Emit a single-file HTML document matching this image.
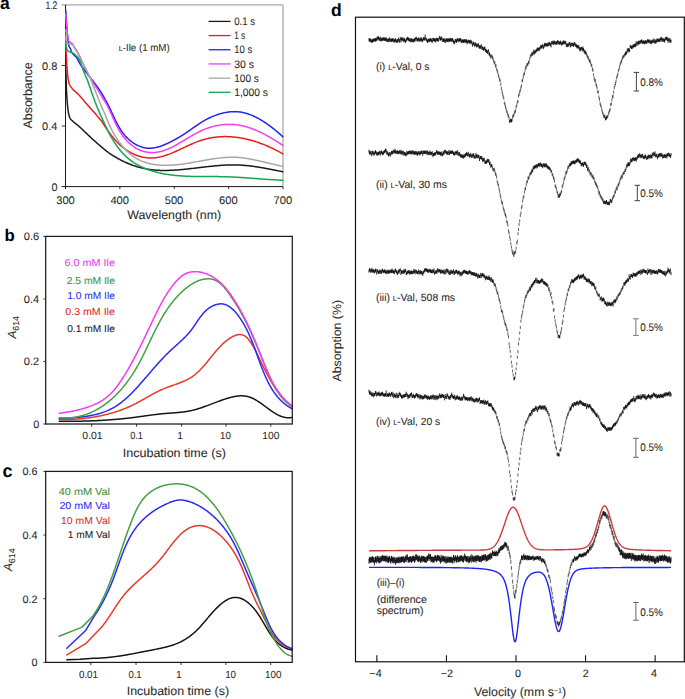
<!DOCTYPE html>
<html><head><meta charset="utf-8"><style>
html,body{margin:0;padding:0;background:#fff;}
body{width:685px;height:699px;overflow:hidden;font-family:"Liberation Sans",sans-serif;}
svg{display:block;}
</style></head><body>
<svg width="685" height="699" viewBox="0 0 685 699" font-family="Liberation Sans, sans-serif" text-rendering="geometricPrecision"><line x1="61.6" y1="4.9" x2="283" y2="4.9" stroke="#a9a9a9" stroke-width="1.3"/>
<line x1="283" y1="4.9" x2="283" y2="186.6" stroke="#a9a9a9" stroke-width="1.3"/>
<line x1="65.5" y1="4.9" x2="65.5" y2="189.2" stroke="#1a1a1a" stroke-width="1.0"/>
<line x1="61.7" y1="186.6" x2="283" y2="186.6" stroke="#1a1a1a" stroke-width="1.0"/>
<line x1="61.7" y1="126.03" x2="65.5" y2="126.03" stroke="#1a1a1a" stroke-width="0.9"/>
<line x1="61.7" y1="65.47" x2="65.5" y2="65.47" stroke="#1a1a1a" stroke-width="0.9"/>
<line x1="119.88" y1="186.6" x2="119.88" y2="189.2" stroke="#1a1a1a" stroke-width="0.9"/>
<line x1="174.25" y1="186.6" x2="174.25" y2="189.2" stroke="#1a1a1a" stroke-width="0.9"/>
<line x1="228.62" y1="186.6" x2="228.62" y2="189.2" stroke="#1a1a1a" stroke-width="0.9"/>
<line x1="283" y1="186.6" x2="283" y2="189.2" stroke="#1a1a1a" stroke-width="0.9"/>
<path d="M65.7 58 L65.71 58.67 L65.71 59.34 L65.72 60.01 L65.73 60.69 L65.74 61.36 L65.75 62.03 L65.76 62.7 L65.77 63.37 L65.78 64.04 L65.79 64.71 L65.8 65.38 L65.81 66.06 L65.82 66.73 L65.84 67.4 L65.85 68.07 L65.86 68.74 L65.88 69.41 L65.89 70.08 L65.91 70.75 L65.92 71.42 L65.93 72.1 L65.95 72.77 L65.96 73.44 L65.98 74.11 L65.99 74.78 L66.01 75.45 L66.03 76.12 L66.04 76.79 L66.06 77.46 L66.08 78.14 L66.1 78.81 L66.12 79.48 L66.14 80.15 L66.16 80.82 L66.18 81.49 L66.2 82.16 L66.22 82.83 L66.24 83.5 L66.27 84.17 L66.29 84.85 L66.32 85.52 L66.34 86.19 L66.37 86.86 L66.4 87.53 L66.42 88.2 L66.45 88.87 L66.48 89.54 L66.51 90.21 L66.54 90.88 L66.57 91.55 L66.6 92.22 L66.64 92.89 L66.67 93.56 L66.71 94.23 L66.75 94.91 L66.79 95.58 L66.83 96.25 L66.87 96.92 L66.91 97.59 L66.96 98.26 L67 98.93 L67.05 99.6 L67.1 100.27 L67.15 100.94 L67.2 101.6 L67.26 102.27 L67.31 102.94 L67.37 103.61 L67.42 104.28 L67.48 104.95 L67.55 105.62 L67.61 106.29 L67.68 106.96 L67.75 107.63 L67.83 108.3 L67.91 108.97 L67.99 109.64 L68.08 110.3 L68.17 110.97 L68.28 111.63 L68.38 112.29 L68.5 112.95 L68.62 113.6 L68.76 114.26 L68.91 114.93 L69.09 115.59 L69.29 116.25 L69.5 116.9 L69.75 117.53 L70.01 118.12 L70.3 118.68 L70.69 119.21 L71.16 119.7 L71.66 120.18 L72.15 120.65 L72.64 121.11 L73.14 121.56 L73.64 121.99 L74.16 122.42 L74.68 122.85 L75.21 123.26 L75.74 123.68 L76.27 124.1 L76.8 124.51 L77.33 124.93 L77.85 125.36 L78.36 125.79 L78.86 126.23 L79.37 126.68 L79.86 127.12 L80.36 127.58 L80.86 128.03 L81.35 128.48 L81.84 128.94 L82.33 129.4 L82.82 129.86 L83.3 130.33 L83.79 130.79 L84.27 131.25 L84.76 131.72 L85.24 132.19 L85.72 132.65 L86.21 133.12 L86.69 133.59 L87.17 134.06 L87.65 134.52 L88.14 134.99 L88.62 135.46 L89.11 135.92 L89.59 136.39 L90.08 136.85 L90.57 137.31 L91.06 137.77 L91.55 138.23 L92.04 138.68 L92.54 139.13 L93.03 139.58 L93.53 140.03 L94.04 140.48 L94.54 140.92 L95.04 141.36 L95.54 141.81 L96.05 142.25 L96.55 142.69 L97.06 143.13 L97.57 143.57 L98.08 144.01 L98.58 144.45 L99.09 144.88 L99.6 145.32 L100.11 145.76 L100.63 146.19 L101.14 146.62 L101.65 147.06 L102.17 147.49 L102.68 147.92 L103.2 148.35 L103.71 148.78 L104.23 149.21 L104.75 149.63 L105.27 150.06 L105.79 150.49 L106.31 150.91 L106.83 151.33 L107.35 151.76 L107.88 152.18 L108.4 152.6 L108.4 152.6 L108.98 153 L109.57 153.39 L110.16 153.78 L110.74 154.17 L111.33 154.55 L111.92 154.93 L112.52 155.3 L113.11 155.67 L113.7 156.04 L114.3 156.4 L114.89 156.76 L115.49 157.11 L116.09 157.46 L116.69 157.8 L117.29 158.14 L117.89 158.48 L118.49 158.81 L119.09 159.14 L119.7 159.46 L120.3 159.78 L120.91 160.1 L121.52 160.41 L122.13 160.71 L122.74 161.01 L123.35 161.31 L123.96 161.6 L124.57 161.89 L125.18 162.17 L125.8 162.45 L126.41 162.72 L127.03 162.99 L127.64 163.26 L128.26 163.52 L128.88 163.77 L129.5 164.02 L130.12 164.27 L130.74 164.51 L131.36 164.75 L131.99 164.98 L132.61 165.21 L133.24 165.43 L133.86 165.65 L134.49 165.86 L135.12 166.07 L135.75 166.27 L136.37 166.47 L137 166.66 L137.64 166.85 L138.27 167.04 L138.9 167.21 L139.53 167.39 L140.17 167.56 L140.8 167.72 L141.44 167.88 L142.07 168.03 L142.71 168.18 L143.35 168.33 L143.99 168.46 L144.63 168.6 L145.27 168.73 L145.91 168.85 L146.55 168.97 L147.19 169.08 L147.83 169.19 L148.48 169.29 L149.12 169.39 L149.77 169.48 L150.41 169.57 L151.06 169.66 L151.7 169.74 L152.35 169.81 L153 169.88 L153.65 169.95 L154.3 170.01 L154.95 170.06 L155.6 170.12 L156.25 170.17 L156.9 170.21 L157.55 170.25 L158.21 170.29 L158.86 170.32 L159.52 170.35 L160.17 170.38 L160.83 170.4 L161.48 170.42 L162.14 170.43 L162.8 170.44 L163.45 170.45 L164.11 170.45 L164.77 170.45 L165.43 170.45 L166.09 170.45 L166.75 170.44 L167.41 170.43 L168.07 170.41 L168.73 170.39 L169.39 170.37 L170.06 170.35 L170.72 170.32 L171.38 170.3 L172.05 170.26 L172.71 170.23 L173.37 170.2 L174.04 170.16 L174.7 170.12 L175.37 170.07 L176.04 170.03 L176.7 169.98 L177.37 169.93 L178.04 169.88 L178.71 169.83 L179.37 169.77 L180.04 169.72 L180.71 169.66 L181.38 169.6 L182.05 169.54 L182.72 169.47 L183.39 169.41 L184.06 169.34 L184.73 169.27 L185.4 169.21 L186.07 169.14 L186.74 169.06 L187.42 168.99 L188.09 168.92 L188.76 168.85 L189.43 168.77 L190.11 168.69 L190.78 168.62 L191.45 168.54 L192.13 168.46 L192.8 168.38 L193.47 168.31 L194.15 168.23 L194.82 168.15 L195.5 168.07 L196.17 167.99 L196.85 167.91 L197.52 167.82 L198.2 167.74 L198.87 167.66 L199.55 167.58 L200.22 167.5 L200.9 167.42 L201.57 167.34 L202.25 167.26 L202.93 167.18 L203.6 167.1 L204.28 167.02 L204.95 166.94 L205.63 166.86 L206.31 166.79 L206.98 166.71 L207.66 166.63 L208.34 166.56 L209.01 166.49 L209.69 166.41 L210.37 166.34 L211.04 166.27 L211.72 166.2 L212.4 166.13 L213.07 166.06 L213.75 166 L214.43 165.93 L215.11 165.87 L215.78 165.8 L216.46 165.74 L217.14 165.68 L217.81 165.63 L218.49 165.57 L219.17 165.52 L219.84 165.47 L220.52 165.42 L221.19 165.37 L221.87 165.32 L222.55 165.28 L223.22 165.24 L223.9 165.2 L224.57 165.16 L225.25 165.12 L225.93 165.09 L226.6 165.06 L227.28 165.03 L227.95 165.01 L228.63 164.99 L229.3 164.97 L229.97 164.95 L230.65 164.93 L231.32 164.92 L232 164.91 L232.67 164.91 L233.34 164.91 L234.02 164.91 L234.69 164.91 L235.36 164.92 L236.04 164.93 L236.71 164.94 L237.38 164.96 L238.05 164.98 L238.72 165.01 L239.4 165.03 L240.07 165.06 L240.74 165.1 L241.41 165.14 L242.08 165.18 L242.75 165.23 L243.42 165.28 L244.09 165.33 L244.75 165.38 L245.42 165.44 L246.09 165.51 L246.76 165.57 L247.43 165.64 L248.09 165.71 L248.76 165.78 L249.43 165.86 L250.09 165.94 L250.76 166.02 L251.42 166.11 L252.09 166.19 L252.75 166.28 L253.42 166.37 L254.08 166.47 L254.74 166.56 L255.4 166.66 L256.07 166.76 L256.73 166.86 L257.39 166.97 L258.05 167.07 L258.71 167.18 L259.37 167.29 L260.03 167.4 L260.69 167.51 L261.34 167.63 L262 167.74 L262.66 167.86 L263.32 167.98 L263.97 168.1 L264.63 168.22 L265.28 168.34 L265.94 168.46 L266.59 168.58 L267.24 168.71 L267.9 168.83 L268.55 168.96 L269.2 169.08 L269.85 169.21 L270.5 169.34 L271.15 169.47 L271.8 169.59 L272.45 169.72 L273.09 169.85 L273.74 169.98 L274.39 170.11 L275.03 170.24 L275.68 170.36 L276.32 170.49 L276.97 170.62 L277.61 170.75 L278.25 170.88 L278.89 171 L279.53 171.13 L280.17 171.26 L280.81 171.38 L281.45 171.51 L282.09 171.63 L282.73 171.75" fill="none" stroke="#1a1a1a" stroke-width="1.5" stroke-linejoin="round" stroke-linecap="round"/>
<path d="M65.7 44 L65.73 44.67 L65.77 45.35 L65.8 46.02 L65.84 46.69 L65.87 47.37 L65.91 48.04 L65.95 48.72 L65.98 49.39 L66.02 50.06 L66.06 50.74 L66.09 51.41 L66.13 52.08 L66.17 52.76 L66.21 53.43 L66.25 54.1 L66.29 54.78 L66.33 55.45 L66.36 56.12 L66.4 56.8 L66.44 57.47 L66.48 58.14 L66.51 58.82 L66.55 59.49 L66.59 60.17 L66.62 60.84 L66.66 61.52 L66.7 62.19 L66.74 62.86 L66.77 63.54 L66.81 64.21 L66.85 64.89 L66.9 65.56 L66.94 66.23 L66.98 66.91 L67.03 67.58 L67.08 68.25 L67.13 68.92 L67.18 69.59 L67.23 70.27 L67.29 70.94 L67.35 71.61 L67.41 72.28 L67.47 72.95 L67.53 73.63 L67.6 74.31 L67.67 75 L67.74 75.68 L67.82 76.37 L67.9 77.05 L67.99 77.74 L68.08 78.42 L68.18 79.09 L68.28 79.77 L68.4 80.43 L68.52 81.09 L68.65 81.74 L68.79 82.37 L68.94 83 L69.1 83.62 L69.31 84.22 L69.59 84.82 L69.93 85.41 L70.31 85.99 L70.72 86.55 L71.14 87.11 L71.57 87.65 L71.99 88.18 L72.4 88.7 L72.84 89.2 L73.3 89.69 L73.77 90.17 L74.25 90.64 L74.74 91.1 L75.24 91.56 L75.75 92.02 L76.25 92.47 L76.76 92.93 L77.26 93.39 L77.76 93.85 L78.24 94.33 L78.72 94.81 L79.18 95.3 L79.63 95.79 L80.09 96.29 L80.54 96.79 L80.98 97.3 L81.43 97.8 L81.87 98.31 L82.31 98.82 L82.75 99.34 L83.19 99.85 L83.62 100.37 L84.06 100.88 L84.5 101.4 L84.93 101.91 L85.37 102.43 L85.81 102.94 L86.25 103.45 L86.69 103.96 L87.14 104.47 L87.58 104.98 L88.03 105.48 L88.47 105.99 L88.92 106.49 L89.36 107 L89.81 107.51 L90.26 108.01 L90.7 108.52 L91.15 109.02 L91.6 109.53 L92.04 110.03 L92.49 110.54 L92.94 111.05 L93.38 111.55 L93.82 112.06 L94.27 112.57 L94.71 113.08 L95.15 113.59 L95.59 114.1 L96.03 114.61 L96.47 115.12 L96.91 115.64 L97.35 116.15 L97.78 116.66 L98.22 117.17 L98.66 117.69 L99.09 118.2 L99.53 118.72 L99.96 119.23 L100.4 119.75 L100.83 120.27 L101.27 120.78 L101.7 121.3 L101.7 121.3 L102.03 121.84 L102.37 122.38 L102.71 122.92 L103.05 123.47 L103.4 124.02 L103.75 124.57 L104.1 125.12 L104.46 125.68 L104.82 126.23 L105.18 126.79 L105.55 127.35 L105.93 127.9 L106.3 128.46 L106.68 129.02 L107.07 129.58 L107.46 130.14 L107.85 130.7 L108.24 131.26 L108.64 131.81 L109.05 132.37 L109.45 132.93 L109.87 133.48 L110.28 134.03 L110.7 134.58 L111.13 135.13 L111.56 135.68 L111.99 136.22 L112.42 136.76 L112.87 137.3 L113.31 137.84 L113.76 138.37 L114.21 138.9 L114.67 139.43 L115.13 139.95 L115.6 140.46 L116.07 140.98 L116.54 141.48 L117.02 141.99 L117.51 142.49 L118 142.98 L118.49 143.47 L118.99 143.95 L119.49 144.43 L119.99 144.9 L120.51 145.36 L121.02 145.82 L121.54 146.27 L122.07 146.72 L122.59 147.16 L123.13 147.59 L123.67 148.01 L124.21 148.42 L124.76 148.83 L125.31 149.23 L125.87 149.62 L126.43 150.01 L126.99 150.38 L127.56 150.75 L128.13 151.11 L128.71 151.47 L129.29 151.81 L129.87 152.14 L130.46 152.47 L131.05 152.79 L131.64 153.1 L132.23 153.4 L132.83 153.69 L133.43 153.98 L134.04 154.25 L134.64 154.52 L135.25 154.78 L135.87 155.02 L136.48 155.26 L137.09 155.49 L137.71 155.71 L138.33 155.92 L138.95 156.12 L139.58 156.31 L140.2 156.49 L140.83 156.67 L141.46 156.83 L142.09 156.98 L142.72 157.12 L143.35 157.25 L143.98 157.38 L144.61 157.49 L145.25 157.59 L145.88 157.68 L146.52 157.76 L147.15 157.83 L147.79 157.89 L148.42 157.94 L149.06 157.98 L149.69 158 L150.33 158.02 L150.96 158.02 L151.6 158.02 L152.23 158 L152.86 157.97 L153.5 157.93 L154.13 157.88 L154.76 157.82 L155.39 157.75 L156.02 157.67 L156.66 157.58 L157.29 157.49 L157.92 157.38 L158.55 157.26 L159.17 157.13 L159.8 157 L160.43 156.86 L161.06 156.71 L161.69 156.55 L162.32 156.38 L162.94 156.21 L163.57 156.02 L164.2 155.84 L164.82 155.64 L165.45 155.44 L166.08 155.23 L166.7 155.02 L167.33 154.8 L167.96 154.57 L168.58 154.34 L169.21 154.1 L169.83 153.86 L170.46 153.62 L171.09 153.36 L171.71 153.11 L172.34 152.85 L172.96 152.59 L173.59 152.32 L174.22 152.05 L174.84 151.78 L175.47 151.5 L176.09 151.22 L176.72 150.94 L177.35 150.65 L177.97 150.37 L178.6 150.08 L179.23 149.79 L179.85 149.5 L180.48 149.2 L181.11 148.91 L181.74 148.61 L182.36 148.32 L182.99 148.02 L183.62 147.73 L184.25 147.43 L184.88 147.13 L185.51 146.84 L186.14 146.54 L186.77 146.25 L187.4 145.96 L188.03 145.67 L188.66 145.38 L189.3 145.09 L189.93 144.8 L190.56 144.52 L191.2 144.24 L191.83 143.96 L192.47 143.69 L193.1 143.41 L193.74 143.14 L194.37 142.88 L195.01 142.62 L195.65 142.36 L196.29 142.11 L196.93 141.86 L197.57 141.62 L198.21 141.38 L198.85 141.14 L199.49 140.91 L200.13 140.69 L200.77 140.47 L201.42 140.26 L202.06 140.06 L202.71 139.86 L203.36 139.67 L204 139.48 L204.65 139.3 L205.3 139.13 L205.95 138.96 L206.6 138.8 L207.25 138.64 L207.9 138.49 L208.55 138.35 L209.21 138.21 L209.86 138.08 L210.51 137.95 L211.17 137.83 L211.82 137.72 L212.48 137.61 L213.13 137.51 L213.79 137.41 L214.44 137.32 L215.1 137.23 L215.76 137.15 L216.42 137.08 L217.07 137.01 L217.73 136.95 L218.39 136.89 L219.05 136.84 L219.71 136.79 L220.37 136.75 L221.03 136.71 L221.69 136.68 L222.35 136.66 L223.01 136.64 L223.67 136.62 L224.33 136.61 L224.99 136.61 L225.65 136.61 L226.31 136.62 L226.97 136.63 L227.63 136.64 L228.29 136.66 L228.95 136.69 L229.61 136.72 L230.27 136.76 L230.93 136.8 L231.59 136.85 L232.25 136.9 L232.91 136.95 L233.57 137.01 L234.23 137.08 L234.89 137.15 L235.55 137.22 L236.21 137.3 L236.87 137.38 L237.53 137.47 L238.19 137.57 L238.84 137.66 L239.5 137.77 L240.16 137.87 L240.82 137.98 L241.47 138.1 L242.13 138.22 L242.78 138.34 L243.44 138.47 L244.09 138.6 L244.75 138.74 L245.4 138.88 L246.05 139.03 L246.71 139.18 L247.36 139.33 L248.01 139.49 L248.66 139.65 L249.31 139.81 L249.96 139.98 L250.61 140.16 L251.25 140.33 L251.9 140.52 L252.55 140.7 L253.19 140.89 L253.84 141.08 L254.48 141.28 L255.12 141.48 L255.77 141.69 L256.41 141.89 L257.05 142.11 L257.69 142.32 L258.33 142.54 L258.96 142.76 L259.6 142.99 L260.24 143.22 L260.87 143.45 L261.51 143.69 L262.14 143.93 L262.77 144.17 L263.4 144.42 L264.03 144.66 L264.66 144.92 L265.28 145.17 L265.91 145.43 L266.54 145.7 L267.16 145.96 L267.78 146.23 L268.4 146.5 L269.02 146.78 L269.64 147.06 L270.26 147.34 L270.87 147.62 L271.49 147.91 L272.1 148.2 L272.71 148.49 L273.32 148.78 L273.93 149.08 L274.54 149.38 L275.14 149.69 L275.75 149.99 L276.35 150.3 L276.95 150.62 L277.55 150.93 L278.15 151.25 L278.75 151.57 L279.34 151.89 L279.93 152.21 L280.53 152.54 L281.12 152.87 L281.7 153.2 L282.29 153.53 L282.88 153.87" fill="none" stroke="#ee1c1c" stroke-width="1.5" stroke-linejoin="round" stroke-linecap="round"/>
<path d="M65.7 10 L65.74 10.67 L65.78 11.34 L65.82 12.01 L65.86 12.68 L65.9 13.36 L65.94 14.03 L65.98 14.7 L66.02 15.38 L66.06 16.05 L66.1 16.72 L66.14 17.4 L66.18 18.07 L66.22 18.74 L66.26 19.42 L66.31 20.09 L66.35 20.77 L66.39 21.44 L66.44 22.11 L66.48 22.79 L66.53 23.46 L66.57 24.14 L66.62 24.81 L66.67 25.48 L66.72 26.16 L66.77 26.83 L66.82 27.5 L66.87 28.17 L66.93 28.84 L66.98 29.51 L67.04 30.18 L67.1 30.85 L67.16 31.52 L67.22 32.19 L67.29 32.86 L67.35 33.53 L67.42 34.2 L67.49 34.86 L67.56 35.53 L67.63 36.2 L67.7 36.87 L67.77 37.53 L67.84 38.2 L67.9 38.87 L67.97 39.55 L68.04 40.22 L68.1 40.9 L68.16 41.57 L68.22 42.25 L68.28 42.94 L68.36 43.61 L68.46 44.28 L68.6 44.94 L68.79 45.57 L69.04 46.19 L69.33 46.79 L69.65 47.39 L69.98 47.98 L70.3 48.58 L70.59 49.2 L70.84 49.83 L71.08 50.47 L71.32 51.11 L71.57 51.73 L71.85 52.33 L72.19 52.9 L72.57 53.44 L73 53.95 L73.46 54.44 L73.95 54.92 L74.44 55.39 L74.93 55.87 L75.41 56.35 L75.87 56.85 L76.3 57.37 L76.7 57.92 L77.07 58.48 L77.42 59.05 L77.75 59.64 L78.07 60.24 L78.39 60.84 L78.7 61.44 L79.02 62.04 L79.35 62.63 L79.68 63.21 L80.03 63.79 L80.38 64.37 L80.74 64.94 L81.11 65.51 L81.48 66.07 L81.86 66.62 L82.24 67.18 L82.63 67.73 L83.03 68.27 L83.43 68.82 L83.83 69.36 L84.24 69.9 L84.65 70.43 L85.06 70.97 L85.48 71.5 L85.9 72.03 L86.31 72.56 L86.73 73.09 L87.15 73.62 L87.57 74.15 L87.99 74.68 L88.41 75.21 L88.83 75.73 L89.25 76.26 L89.67 76.79 L90.09 77.32 L90.51 77.85 L90.93 78.38 L91.35 78.91 L91.76 79.44 L92.18 79.97 L92.59 80.5 L93.01 81.04 L93.42 81.57 L93.83 82.11 L94.24 82.64 L94.64 83.18 L95.05 83.72 L95.45 84.26 L95.85 84.8 L96.25 85.34 L96.65 85.88 L97.04 86.43 L97.44 86.97 L97.82 87.52 L98.21 88.07 L98.6 88.63 L98.98 89.18 L99.35 89.74 L99.73 90.3 L100.1 90.86 L100.47 91.42 L100.83 91.99 L101.19 92.55 L101.55 93.13 L101.9 93.7 L102.25 94.28 L102.6 94.85 L102.94 95.44 L103.28 96.02 L103.61 96.61 L103.94 97.2 L104.26 97.8 L104.58 98.39 L104.89 99 L105.2 99.6 L105.2 99.6 L105.52 100.12 L105.84 100.65 L106.15 101.18 L106.46 101.72 L106.77 102.26 L107.07 102.82 L107.37 103.38 L107.67 103.94 L107.96 104.51 L108.26 105.08 L108.55 105.66 L108.84 106.25 L109.13 106.84 L109.42 107.43 L109.7 108.03 L109.99 108.63 L110.27 109.24 L110.56 109.84 L110.84 110.46 L111.13 111.07 L111.41 111.69 L111.69 112.31 L111.98 112.93 L112.26 113.55 L112.55 114.17 L112.84 114.8 L113.13 115.43 L113.42 116.05 L113.71 116.68 L114 117.31 L114.3 117.94 L114.59 118.57 L114.89 119.2 L115.2 119.82 L115.5 120.45 L115.81 121.08 L116.12 121.7 L116.44 122.32 L116.76 122.94 L117.08 123.56 L117.4 124.18 L117.73 124.79 L118.07 125.4 L118.41 126.01 L118.75 126.61 L119.1 127.22 L119.46 127.81 L119.82 128.41 L120.18 128.99 L120.55 129.58 L120.93 130.16 L121.31 130.73 L121.7 131.3 L122.1 131.86 L122.5 132.42 L122.91 132.97 L123.32 133.52 L123.75 134.05 L124.18 134.59 L124.62 135.11 L125.06 135.63 L125.52 136.14 L125.98 136.64 L126.44 137.13 L126.92 137.62 L127.4 138.1 L127.88 138.57 L128.38 139.03 L128.88 139.48 L129.38 139.93 L129.89 140.36 L130.41 140.79 L130.93 141.2 L131.46 141.61 L131.99 142 L132.53 142.39 L133.07 142.76 L133.62 143.13 L134.17 143.48 L134.73 143.83 L135.29 144.16 L135.86 144.48 L136.43 144.79 L137 145.08 L137.58 145.37 L138.16 145.64 L138.75 145.9 L139.34 146.15 L139.93 146.38 L140.53 146.61 L141.13 146.81 L141.73 147.01 L142.33 147.19 L142.94 147.36 L143.55 147.51 L144.16 147.65 L144.78 147.78 L145.4 147.89 L146.02 147.99 L146.64 148.07 L147.26 148.13 L147.88 148.18 L148.51 148.22 L149.14 148.24 L149.77 148.24 L150.4 148.23 L151.03 148.2 L151.66 148.16 L152.29 148.1 L152.92 148.03 L153.56 147.95 L154.19 147.85 L154.83 147.74 L155.46 147.61 L156.1 147.48 L156.73 147.33 L157.37 147.17 L158.01 147 L158.64 146.82 L159.28 146.63 L159.92 146.43 L160.55 146.22 L161.19 146 L161.83 145.77 L162.46 145.54 L163.1 145.29 L163.73 145.04 L164.37 144.78 L165 144.51 L165.63 144.24 L166.26 143.96 L166.89 143.68 L167.52 143.39 L168.15 143.09 L168.78 142.79 L169.4 142.49 L170.03 142.18 L170.65 141.87 L171.27 141.55 L171.89 141.23 L172.51 140.91 L173.13 140.59 L173.74 140.27 L174.35 139.94 L174.96 139.61 L175.57 139.27 L176.18 138.94 L176.78 138.6 L177.39 138.26 L177.98 137.92 L178.58 137.57 L179.18 137.22 L179.77 136.87 L180.36 136.52 L180.94 136.16 L181.53 135.8 L182.11 135.44 L182.68 135.08 L183.26 134.71 L183.83 134.34 L184.4 133.97 L184.96 133.6 L185.52 133.22 L186.08 132.84 L186.64 132.46 L187.2 132.08 L187.75 131.7 L188.3 131.31 L188.85 130.93 L189.4 130.54 L189.95 130.15 L190.49 129.77 L191.04 129.38 L191.58 128.99 L192.13 128.6 L192.67 128.22 L193.22 127.83 L193.76 127.44 L194.31 127.06 L194.85 126.68 L195.4 126.29 L195.95 125.91 L196.49 125.54 L197.04 125.16 L197.6 124.78 L198.15 124.41 L198.71 124.04 L199.26 123.68 L199.82 123.31 L200.39 122.95 L200.95 122.6 L201.52 122.24 L202.09 121.89 L202.67 121.55 L203.24 121.2 L203.82 120.87 L204.41 120.53 L205 120.2 L205.59 119.88 L206.18 119.56 L206.77 119.24 L207.37 118.93 L207.97 118.63 L208.57 118.32 L209.18 118.03 L209.79 117.74 L210.4 117.45 L211.01 117.17 L211.62 116.9 L212.24 116.63 L212.86 116.37 L213.48 116.11 L214.1 115.86 L214.73 115.62 L215.36 115.38 L215.98 115.14 L216.61 114.92 L217.25 114.7 L217.88 114.49 L218.51 114.28 L219.15 114.08 L219.79 113.89 L220.43 113.71 L221.07 113.53 L221.71 113.36 L222.35 113.2 L222.99 113.04 L223.64 112.89 L224.28 112.75 L224.93 112.62 L225.57 112.5 L226.22 112.38 L226.87 112.27 L227.52 112.17 L228.17 112.08 L228.82 112 L229.47 111.93 L230.12 111.86 L230.77 111.81 L231.42 111.76 L232.07 111.72 L232.72 111.69 L233.37 111.68 L234.03 111.67 L234.68 111.67 L235.33 111.68 L235.98 111.69 L236.63 111.72 L237.28 111.76 L237.93 111.81 L238.58 111.87 L239.23 111.94 L239.87 112.02 L240.52 112.11 L241.17 112.21 L241.81 112.33 L242.46 112.45 L243.1 112.58 L243.74 112.72 L244.39 112.88 L245.03 113.04 L245.67 113.21 L246.31 113.39 L246.94 113.58 L247.58 113.78 L248.21 113.99 L248.85 114.21 L249.48 114.43 L250.11 114.67 L250.74 114.91 L251.36 115.16 L251.99 115.42 L252.61 115.68 L253.24 115.96 L253.86 116.24 L254.48 116.52 L255.09 116.82 L255.71 117.12 L256.32 117.42 L256.93 117.74 L257.54 118.06 L258.15 118.38 L258.75 118.71 L259.35 119.05 L259.95 119.39 L260.55 119.74 L261.14 120.09 L261.74 120.45 L262.33 120.81 L262.91 121.18 L263.5 121.55 L264.08 121.93 L264.66 122.3 L265.24 122.69 L265.81 123.07 L266.38 123.47 L266.95 123.86 L267.52 124.26 L268.08 124.66 L268.64 125.06 L269.19 125.46 L269.75 125.87 L270.29 126.28 L270.84 126.69 L271.38 127.11 L271.92 127.52 L272.46 127.94 L272.99 128.36 L273.52 128.78 L274.05 129.2 L274.57 129.62 L275.09 130.04 L275.6 130.47 L276.11 130.89 L276.62 131.31 L277.12 131.73 L277.62 132.16 L278.12 132.58 L278.61 133 L279.09 133.42 L279.58 133.84 L280.05 134.26 L280.53 134.68 L281 135.09 L281.46 135.51 L281.93 135.92 L282.38 136.33 L282.83 136.74" fill="none" stroke="#2323ee" stroke-width="1.5" stroke-linejoin="round" stroke-linecap="round"/>
<path d="M65.7 14 L65.74 14.68 L65.78 15.35 L65.82 16.03 L65.86 16.7 L65.91 17.38 L65.95 18.05 L66 18.72 L66.05 19.39 L66.1 20.06 L66.16 20.73 L66.21 21.41 L66.27 22.08 L66.32 22.75 L66.38 23.42 L66.44 24.09 L66.5 24.77 L66.56 25.44 L66.62 26.11 L66.68 26.79 L66.74 27.47 L66.8 28.15 L66.87 28.82 L66.93 29.5 L66.99 30.18 L67.06 30.85 L67.13 31.52 L67.2 32.19 L67.27 32.86 L67.34 33.52 L67.42 34.18 L67.5 34.83 L67.59 35.48 L67.68 36.13 L67.78 36.79 L67.89 37.45 L68.02 38.13 L68.15 38.81 L68.3 39.51 L68.48 40.22 L68.7 40.9 L69.02 41.5 L69.45 41.97 L70.03 42.28 L70.68 42.51 L71.3 42.8 L71.81 43.22 L72.24 43.75 L72.62 44.33 L73 44.91 L73.37 45.48 L73.74 46.05 L74.11 46.61 L74.47 47.17 L74.83 47.73 L75.19 48.3 L75.54 48.87 L75.89 49.44 L76.23 50.02 L76.58 50.6 L76.91 51.18 L77.25 51.77 L77.58 52.36 L77.91 52.95 L78.23 53.55 L78.55 54.14 L78.86 54.74 L79.17 55.35 L79.48 55.95 L79.78 56.56 L80.08 57.17 L80.38 57.78 L80.67 58.39 L80.96 59 L81.24 59.62 L81.52 60.23 L81.81 60.85 L82.08 61.46 L82.36 62.08 L82.64 62.7 L82.91 63.31 L83.19 63.93 L83.47 64.54 L83.74 65.16 L84.02 65.78 L84.3 66.39 L84.58 67 L84.86 67.61 L85.15 68.22 L85.44 68.83 L85.73 69.44 L86.02 70.05 L86.32 70.65 L86.63 71.25 L86.94 71.85 L87.25 72.45 L87.56 73.04 L87.89 73.63 L88.21 74.22 L88.54 74.81 L88.87 75.4 L89.2 75.99 L89.54 76.57 L89.88 77.15 L90.23 77.73 L90.57 78.31 L90.92 78.89 L91.27 79.47 L91.62 80.05 L91.98 80.62 L92.34 81.2 L92.69 81.77 L93.05 82.35 L93.41 82.92 L93.77 83.49 L94.14 84.06 L94.5 84.63 L94.86 85.21 L95.22 85.78 L95.59 86.35 L95.95 86.92 L96.31 87.49 L96.67 88.06 L97.04 88.64 L97.4 89.21 L97.76 89.78 L98.11 90.36 L98.47 90.93 L98.83 91.51 L99.18 92.08 L99.53 92.66 L99.88 93.24 L100.23 93.82 L100.57 94.4 L100.91 94.98 L101.25 95.56 L101.59 96.15 L101.92 96.73 L102.25 97.32 L102.58 97.91 L102.9 98.5 L102.9 98.5 L103.28 99.02 L103.64 99.55 L104.01 100.09 L104.36 100.63 L104.71 101.17 L105.06 101.72 L105.4 102.28 L105.73 102.84 L106.06 103.4 L106.38 103.97 L106.7 104.55 L107.01 105.12 L107.33 105.7 L107.63 106.29 L107.93 106.88 L108.23 107.47 L108.53 108.07 L108.82 108.67 L109.11 109.27 L109.4 109.87 L109.69 110.48 L109.97 111.09 L110.26 111.7 L110.54 112.31 L110.82 112.93 L111.09 113.55 L111.37 114.17 L111.65 114.79 L111.93 115.41 L112.2 116.03 L112.48 116.65 L112.76 117.28 L113.04 117.9 L113.32 118.52 L113.6 119.15 L113.88 119.77 L114.16 120.4 L114.45 121.02 L114.73 121.64 L115.02 122.27 L115.32 122.89 L115.61 123.51 L115.91 124.13 L116.21 124.75 L116.52 125.36 L116.82 125.98 L117.14 126.59 L117.45 127.2 L117.78 127.81 L118.1 128.41 L118.43 129.02 L118.77 129.62 L119.11 130.21 L119.46 130.81 L119.81 131.4 L120.17 131.98 L120.54 132.57 L120.91 133.15 L121.29 133.72 L121.68 134.29 L122.07 134.86 L122.47 135.42 L122.88 135.98 L123.29 136.53 L123.71 137.07 L124.14 137.61 L124.57 138.15 L125.01 138.68 L125.45 139.2 L125.91 139.71 L126.36 140.22 L126.83 140.72 L127.3 141.22 L127.78 141.7 L128.26 142.18 L128.75 142.65 L129.24 143.12 L129.74 143.57 L130.25 144.02 L130.76 144.45 L131.28 144.88 L131.8 145.3 L132.33 145.71 L132.87 146.11 L133.41 146.5 L133.95 146.87 L134.51 147.24 L135.06 147.6 L135.62 147.95 L136.19 148.28 L136.76 148.61 L137.34 148.92 L137.92 149.22 L138.51 149.51 L139.1 149.78 L139.7 150.05 L140.3 150.3 L140.91 150.54 L141.52 150.76 L142.14 150.97 L142.76 151.17 L143.38 151.36 L144.01 151.53 L144.63 151.69 L145.27 151.83 L145.9 151.96 L146.54 152.08 L147.17 152.19 L147.81 152.28 L148.45 152.37 L149.09 152.43 L149.73 152.49 L150.36 152.53 L151 152.56 L151.64 152.57 L152.27 152.58 L152.9 152.57 L153.53 152.54 L154.16 152.51 L154.79 152.46 L155.42 152.4 L156.04 152.33 L156.66 152.25 L157.29 152.16 L157.91 152.05 L158.52 151.94 L159.14 151.81 L159.76 151.68 L160.37 151.53 L160.99 151.38 L161.6 151.21 L162.21 151.04 L162.82 150.85 L163.43 150.66 L164.04 150.46 L164.64 150.25 L165.25 150.03 L165.85 149.81 L166.46 149.57 L167.06 149.33 L167.66 149.09 L168.27 148.83 L168.87 148.57 L169.47 148.3 L170.07 148.02 L170.67 147.74 L171.27 147.46 L171.86 147.16 L172.46 146.87 L173.06 146.56 L173.65 146.26 L174.25 145.94 L174.85 145.63 L175.44 145.3 L176.04 144.98 L176.63 144.65 L177.23 144.32 L177.82 143.98 L178.42 143.64 L179.01 143.3 L179.61 142.95 L180.2 142.61 L180.8 142.26 L181.39 141.91 L181.99 141.55 L182.58 141.2 L183.18 140.84 L183.77 140.49 L184.37 140.13 L184.96 139.77 L185.56 139.41 L186.16 139.05 L186.76 138.69 L187.35 138.34 L187.95 137.98 L188.55 137.62 L189.15 137.27 L189.75 136.91 L190.35 136.56 L190.95 136.21 L191.56 135.86 L192.16 135.51 L192.76 135.17 L193.37 134.82 L193.97 134.49 L194.58 134.15 L195.19 133.82 L195.8 133.49 L196.41 133.16 L197.02 132.84 L197.63 132.52 L198.24 132.21 L198.86 131.9 L199.47 131.6 L200.09 131.3 L200.71 131.01 L201.33 130.73 L201.95 130.45 L202.57 130.17 L203.2 129.9 L203.82 129.64 L204.45 129.38 L205.08 129.13 L205.7 128.89 L206.34 128.65 L206.97 128.42 L207.6 128.19 L208.23 127.98 L208.87 127.76 L209.5 127.56 L210.14 127.35 L210.78 127.16 L211.42 126.97 L212.06 126.79 L212.7 126.62 L213.34 126.45 L213.98 126.28 L214.63 126.13 L215.27 125.98 L215.91 125.84 L216.56 125.7 L217.21 125.57 L217.85 125.45 L218.5 125.33 L219.15 125.22 L219.8 125.12 L220.45 125.02 L221.09 124.93 L221.74 124.84 L222.39 124.77 L223.05 124.7 L223.7 124.63 L224.35 124.58 L225 124.53 L225.65 124.48 L226.3 124.45 L226.96 124.42 L227.61 124.4 L228.26 124.38 L228.91 124.37 L229.57 124.37 L230.22 124.38 L230.87 124.39 L231.52 124.41 L232.18 124.44 L232.83 124.47 L233.48 124.51 L234.13 124.56 L234.78 124.61 L235.43 124.68 L236.09 124.75 L236.74 124.82 L237.39 124.91 L238.04 125 L238.69 125.1 L239.34 125.2 L239.99 125.32 L240.63 125.44 L241.28 125.56 L241.93 125.7 L242.58 125.84 L243.22 125.99 L243.87 126.15 L244.51 126.31 L245.16 126.48 L245.8 126.66 L246.44 126.84 L247.08 127.03 L247.72 127.23 L248.36 127.43 L249 127.63 L249.64 127.85 L250.28 128.07 L250.91 128.29 L251.55 128.52 L252.18 128.76 L252.81 129 L253.45 129.24 L254.08 129.49 L254.71 129.75 L255.33 130.01 L255.96 130.27 L256.59 130.54 L257.21 130.82 L257.83 131.09 L258.45 131.38 L259.07 131.66 L259.69 131.95 L260.31 132.25 L260.92 132.54 L261.54 132.84 L262.15 133.15 L262.76 133.45 L263.37 133.76 L263.97 134.08 L264.58 134.39 L265.18 134.71 L265.78 135.04 L266.38 135.36 L266.98 135.69 L267.58 136.01 L268.17 136.35 L268.76 136.68 L269.35 137.01 L269.94 137.35 L270.53 137.69 L271.11 138.03 L271.69 138.37 L272.27 138.71 L272.85 139.06 L273.43 139.4 L274 139.75 L274.57 140.09 L275.14 140.44 L275.7 140.79 L276.27 141.14 L276.83 141.49 L277.39 141.83 L277.94 142.18 L278.5 142.53 L279.05 142.88 L279.6 143.23 L280.14 143.58 L280.68 143.92 L281.23 144.27 L281.76 144.62 L282.3 144.96 L282.83 145.31" fill="none" stroke="#f53cf0" stroke-width="1.5" stroke-linejoin="round" stroke-linecap="round"/>
<path d="M65.7 30 L65.92 30.63 L66.07 31.28 L66.17 31.93 L66.23 32.6 L66.24 33.27 L66.23 33.95 L66.19 34.63 L66.14 35.32 L66.08 36.01 L66.02 36.71 L65.97 37.4 L65.94 38.08 L65.94 38.77 L65.97 39.44 L66.04 40.11 L66.16 40.77 L66.34 41.42 L66.59 42.06 L66.9 42.69 L67.3 43.28 L67.78 43.78 L68.33 44.13 L68.97 44.3 L69.65 44.31 L70.35 44.27 L71.03 44.24 L71.65 44.34 L72.2 44.6 L72.68 45.01 L73.1 45.53 L73.49 46.13 L73.85 46.78 L74.21 47.45 L74.56 48.11 L74.93 48.73 L75.31 49.32 L75.69 49.89 L76.07 50.44 L76.44 50.98 L76.81 51.52 L77.16 52.06 L77.49 52.62 L77.8 53.2 L78.08 53.8 L78.35 54.41 L78.61 55.04 L78.86 55.67 L79.12 56.29 L79.4 56.91 L79.68 57.52 L79.98 58.13 L80.28 58.73 L80.59 59.33 L80.91 59.92 L81.23 60.51 L81.56 61.1 L81.89 61.68 L82.22 62.26 L82.56 62.85 L82.9 63.43 L83.23 64.01 L83.57 64.59 L83.9 65.17 L84.24 65.75 L84.56 66.34 L84.89 66.92 L85.21 67.51 L85.52 68.11 L85.83 68.7 L86.14 69.3 L86.44 69.9 L86.74 70.5 L87.03 71.1 L87.32 71.71 L87.61 72.32 L87.9 72.93 L88.18 73.54 L88.45 74.15 L88.73 74.76 L89 75.38 L89.27 76 L89.54 76.61 L89.81 77.23 L90.07 77.85 L90.33 78.47 L90.59 79.09 L90.85 79.71 L91.11 80.34 L91.36 80.96 L91.62 81.58 L91.87 82.21 L92.12 82.83 L92.37 83.46 L92.62 84.08 L92.87 84.7 L93.12 85.33 L93.37 85.95 L93.61 86.58 L93.86 87.2 L94.11 87.83 L94.35 88.46 L94.6 89.08 L94.84 89.71 L95.09 90.33 L95.33 90.96 L95.58 91.58 L95.82 92.21 L96.07 92.83 L96.31 93.46 L96.56 94.09 L96.8 94.71 L97.05 95.34 L97.29 95.96 L97.54 96.58 L97.79 97.21 L98.03 97.83 L98.28 98.46 L98.53 99.08 L98.78 99.7 L99.03 100.33 L99.28 100.95 L99.54 101.57 L99.79 102.19 L100.05 102.81 L100.3 103.43 L100.56 104.05 L100.82 104.67 L101.08 105.29 L101.34 105.91 L101.6 106.53 L101.87 107.15 L102.14 107.76 L102.4 108.38 L102.67 108.99 L102.95 109.61 L103.22 110.22 L103.5 110.84 L103.77 111.45 L104.06 112.06 L104.34 112.67 L104.62 113.28 L104.91 113.89 L105.2 114.5 L105.2 114.5 L105.41 115.09 L105.62 115.69 L105.84 116.29 L106.06 116.89 L106.29 117.49 L106.52 118.1 L106.76 118.7 L107 119.31 L107.24 119.92 L107.49 120.53 L107.74 121.14 L108 121.75 L108.26 122.36 L108.53 122.98 L108.79 123.59 L109.07 124.21 L109.35 124.82 L109.63 125.44 L109.92 126.05 L110.21 126.67 L110.5 127.28 L110.8 127.9 L111.11 128.51 L111.41 129.12 L111.73 129.73 L112.04 130.34 L112.36 130.95 L112.69 131.56 L113.02 132.17 L113.35 132.78 L113.69 133.38 L114.04 133.98 L114.38 134.58 L114.73 135.18 L115.09 135.77 L115.45 136.37 L115.81 136.96 L116.18 137.54 L116.55 138.13 L116.93 138.71 L117.31 139.29 L117.7 139.86 L118.09 140.44 L118.48 141.01 L118.88 141.57 L119.28 142.13 L119.69 142.69 L120.1 143.24 L120.52 143.79 L120.94 144.33 L121.36 144.87 L121.79 145.41 L122.22 145.94 L122.66 146.46 L123.1 146.98 L123.55 147.5 L124 148.01 L124.45 148.51 L124.91 149.01 L125.38 149.5 L125.84 149.99 L126.32 150.47 L126.79 150.94 L127.27 151.41 L127.76 151.87 L128.25 152.32 L128.74 152.77 L129.24 153.21 L129.74 153.64 L130.25 154.07 L130.76 154.49 L131.27 154.9 L131.79 155.3 L132.31 155.7 L132.84 156.09 L133.37 156.47 L133.91 156.84 L134.45 157.2 L135 157.56 L135.55 157.9 L136.1 158.24 L136.66 158.57 L137.22 158.89 L137.79 159.2 L138.36 159.5 L138.93 159.79 L139.51 160.07 L140.1 160.35 L140.68 160.62 L141.27 160.87 L141.87 161.12 L142.46 161.36 L143.07 161.6 L143.67 161.82 L144.28 162.04 L144.89 162.25 L145.5 162.45 L146.12 162.64 L146.74 162.83 L147.37 163.01 L147.99 163.18 L148.62 163.34 L149.25 163.5 L149.89 163.65 L150.52 163.79 L151.16 163.92 L151.8 164.05 L152.45 164.17 L153.09 164.29 L153.74 164.39 L154.39 164.5 L155.04 164.59 L155.7 164.68 L156.35 164.76 L157.01 164.84 L157.67 164.91 L158.33 164.97 L158.99 165.03 L159.65 165.08 L160.31 165.13 L160.98 165.17 L161.65 165.2 L162.31 165.23 L162.98 165.26 L163.65 165.27 L164.32 165.29 L164.99 165.3 L165.66 165.3 L166.33 165.3 L167 165.29 L167.67 165.28 L168.35 165.27 L169.02 165.25 L169.69 165.23 L170.36 165.2 L171.03 165.16 L171.71 165.13 L172.38 165.09 L173.05 165.04 L173.72 164.99 L174.39 164.94 L175.06 164.88 L175.74 164.82 L176.41 164.76 L177.08 164.69 L177.75 164.63 L178.42 164.55 L179.09 164.48 L179.76 164.4 L180.43 164.32 L181.1 164.23 L181.77 164.14 L182.44 164.05 L183.11 163.96 L183.78 163.87 L184.45 163.77 L185.12 163.67 L185.79 163.57 L186.46 163.47 L187.13 163.36 L187.8 163.25 L188.47 163.15 L189.14 163.04 L189.81 162.92 L190.48 162.81 L191.15 162.7 L191.81 162.58 L192.48 162.47 L193.15 162.35 L193.82 162.23 L194.49 162.11 L195.16 161.99 L195.82 161.87 L196.49 161.75 L197.16 161.63 L197.83 161.51 L198.5 161.38 L199.16 161.26 L199.83 161.14 L200.5 161.02 L201.16 160.9 L201.83 160.78 L202.5 160.65 L203.16 160.53 L203.83 160.41 L204.5 160.29 L205.16 160.18 L205.83 160.06 L206.5 159.94 L207.16 159.83 L207.83 159.71 L208.5 159.6 L209.16 159.49 L209.83 159.38 L210.49 159.27 L211.16 159.16 L211.82 159.06 L212.49 158.95 L213.15 158.85 L213.82 158.75 L214.48 158.66 L215.15 158.56 L215.81 158.47 L216.48 158.38 L217.14 158.29 L217.81 158.21 L218.47 158.13 L219.13 158.05 L219.8 157.97 L220.46 157.9 L221.12 157.83 L221.79 157.76 L222.45 157.7 L223.12 157.64 L223.78 157.58 L224.44 157.53 L225.1 157.48 L225.77 157.44 L226.43 157.4 L227.09 157.36 L227.76 157.33 L228.42 157.3 L229.08 157.28 L229.74 157.26 L230.4 157.24 L231.07 157.23 L231.73 157.22 L232.39 157.22 L233.05 157.23 L233.71 157.24 L234.37 157.25 L235.03 157.27 L235.7 157.3 L236.36 157.33 L237.02 157.36 L237.68 157.4 L238.34 157.45 L239 157.5 L239.66 157.56 L240.32 157.62 L240.98 157.68 L241.64 157.75 L242.3 157.83 L242.96 157.91 L243.62 157.99 L244.28 158.08 L244.94 158.17 L245.6 158.27 L246.25 158.37 L246.91 158.47 L247.57 158.57 L248.23 158.68 L248.89 158.8 L249.55 158.91 L250.21 159.03 L250.86 159.16 L251.52 159.28 L252.18 159.41 L252.84 159.54 L253.5 159.68 L254.15 159.81 L254.81 159.95 L255.47 160.09 L256.13 160.23 L256.78 160.38 L257.44 160.52 L258.1 160.67 L258.75 160.82 L259.41 160.97 L260.07 161.12 L260.72 161.28 L261.38 161.43 L262.03 161.59 L262.69 161.74 L263.34 161.9 L264 162.06 L264.66 162.21 L265.31 162.37 L265.97 162.53 L266.62 162.69 L267.28 162.85 L267.93 163.01 L268.59 163.17 L269.24 163.33 L269.89 163.49 L270.55 163.64 L271.2 163.8 L271.86 163.96 L272.51 164.11 L273.16 164.27 L273.82 164.42 L274.47 164.57 L275.13 164.72 L275.78 164.87 L276.43 165.02 L277.08 165.17 L277.74 165.31 L278.39 165.45 L279.04 165.59 L279.69 165.73 L280.35 165.87 L281 166 L281.65 166.13 L282.3 166.26 L282.95 166.38" fill="none" stroke="#aaa6a6" stroke-width="1.5" stroke-linejoin="round" stroke-linecap="round"/>
<path d="M65.7 42 L65.75 42.43 L65.81 42.95 L65.87 43.54 L65.94 44.19 L66.02 44.88 L66.13 45.61 L66.26 46.36 L66.42 47.11 L66.61 47.86 L66.84 48.58 L67.12 49.27 L67.44 49.92 L67.81 50.5 L68.25 51.01 L68.74 51.43 L69.3 51.76 L69.92 51.99 L70.57 52.18 L71.23 52.36 L71.88 52.56 L72.5 52.82 L73.09 53.14 L73.65 53.51 L74.19 53.92 L74.72 54.35 L75.23 54.8 L75.74 55.26 L76.23 55.73 L76.72 56.2 L77.19 56.69 L77.64 57.19 L78.07 57.71 L78.47 58.23 L78.86 58.78 L79.21 59.34 L79.53 59.92 L79.83 60.51 L80.11 61.11 L80.37 61.73 L80.61 62.36 L80.84 62.99 L81.06 63.63 L81.27 64.28 L81.47 64.93 L81.67 65.58 L81.87 66.23 L82.07 66.88 L82.28 67.53 L82.49 68.17 L82.72 68.81 L82.95 69.45 L83.18 70.08 L83.43 70.71 L83.67 71.34 L83.93 71.96 L84.18 72.58 L84.44 73.2 L84.7 73.82 L84.97 74.44 L85.23 75.05 L85.49 75.67 L85.76 76.28 L86.02 76.9 L86.28 77.52 L86.54 78.13 L86.8 78.75 L87.05 79.37 L87.3 79.99 L87.54 80.62 L87.79 81.24 L88.02 81.87 L88.26 82.5 L88.49 83.13 L88.72 83.76 L88.95 84.39 L89.17 85.02 L89.4 85.66 L89.62 86.29 L89.84 86.93 L90.06 87.56 L90.28 88.2 L90.49 88.84 L90.71 89.47 L90.93 90.11 L91.14 90.75 L91.36 91.39 L91.58 92.02 L91.79 92.66 L92.01 93.3 L92.23 93.93 L92.45 94.57 L92.67 95.2 L92.89 95.84 L93.12 96.47 L93.34 97.11 L93.57 97.74 L93.8 98.37 L94.03 99 L94.26 99.63 L94.5 100.27 L94.73 100.89 L94.97 101.52 L95.21 102.15 L95.45 102.78 L95.69 103.41 L95.93 104.03 L96.18 104.66 L96.42 105.28 L96.67 105.91 L96.92 106.53 L97.17 107.16 L97.42 107.78 L97.68 108.4 L97.93 109.02 L98.19 109.64 L98.45 110.26 L98.71 110.88 L98.97 111.5 L99.24 112.11 L99.51 112.73 L99.77 113.35 L100.04 113.96 L100.31 114.58 L100.59 115.19 L100.86 115.8 L101.14 116.42 L101.42 117.03 L101.7 117.64 L101.98 118.25 L102.26 118.86 L102.55 119.47 L102.83 120.08 L103.12 120.68 L103.41 121.29 L103.71 121.89 L104 122.5 L104 122.5 L104.27 123.1 L104.53 123.71 L104.81 124.31 L105.08 124.92 L105.36 125.53 L105.64 126.13 L105.92 126.74 L106.2 127.35 L106.49 127.95 L106.78 128.56 L107.08 129.17 L107.37 129.77 L107.67 130.38 L107.98 130.98 L108.28 131.59 L108.59 132.19 L108.9 132.79 L109.22 133.4 L109.54 134 L109.86 134.6 L110.19 135.19 L110.52 135.79 L110.85 136.38 L111.19 136.98 L111.52 137.57 L111.87 138.16 L112.21 138.75 L112.56 139.33 L112.92 139.91 L113.27 140.5 L113.63 141.07 L114 141.65 L114.37 142.22 L114.74 142.79 L115.11 143.36 L115.49 143.92 L115.87 144.49 L116.26 145.04 L116.65 145.6 L117.05 146.15 L117.44 146.7 L117.85 147.24 L118.25 147.78 L118.66 148.32 L119.08 148.85 L119.5 149.38 L119.92 149.91 L120.35 150.43 L120.78 150.94 L121.21 151.45 L121.65 151.96 L122.1 152.46 L122.55 152.96 L123 153.45 L123.46 153.94 L123.92 154.42 L124.38 154.9 L124.85 155.37 L125.33 155.83 L125.81 156.29 L126.29 156.75 L126.78 157.2 L127.27 157.64 L127.77 158.08 L128.27 158.51 L128.78 158.93 L129.29 159.35 L129.81 159.76 L130.33 160.17 L130.86 160.57 L131.39 160.96 L131.93 161.34 L132.47 161.72 L133.01 162.09 L133.56 162.46 L134.11 162.82 L134.67 163.18 L135.23 163.52 L135.8 163.86 L136.37 164.2 L136.94 164.53 L137.52 164.85 L138.1 165.17 L138.68 165.48 L139.27 165.79 L139.86 166.09 L140.45 166.38 L141.05 166.67 L141.65 166.96 L142.25 167.24 L142.86 167.51 L143.47 167.78 L144.08 168.04 L144.69 168.29 L145.31 168.55 L145.93 168.79 L146.55 169.03 L147.17 169.27 L147.79 169.5 L148.42 169.73 L149.05 169.95 L149.68 170.16 L150.31 170.38 L150.94 170.58 L151.58 170.78 L152.22 170.98 L152.85 171.17 L153.49 171.36 L154.13 171.55 L154.77 171.73 L155.42 171.9 L156.06 172.07 L156.7 172.24 L157.35 172.4 L157.99 172.56 L158.64 172.71 L159.28 172.86 L159.93 173.01 L160.58 173.15 L161.23 173.29 L161.88 173.42 L162.53 173.55 L163.18 173.68 L163.83 173.8 L164.48 173.92 L165.13 174.04 L165.78 174.15 L166.44 174.26 L167.09 174.37 L167.75 174.47 L168.4 174.57 L169.06 174.67 L169.71 174.76 L170.37 174.85 L171.03 174.93 L171.69 175.02 L172.35 175.1 L173.01 175.18 L173.67 175.25 L174.33 175.32 L174.99 175.39 L175.65 175.46 L176.31 175.52 L176.97 175.58 L177.64 175.64 L178.3 175.7 L178.97 175.75 L179.63 175.81 L180.29 175.86 L180.96 175.9 L181.63 175.95 L182.29 175.99 L182.96 176.03 L183.63 176.07 L184.29 176.11 L184.96 176.14 L185.63 176.17 L186.3 176.2 L186.97 176.23 L187.64 176.26 L188.31 176.29 L188.98 176.31 L189.65 176.33 L190.32 176.36 L190.99 176.38 L191.66 176.39 L192.33 176.41 L193.01 176.43 L193.68 176.44 L194.35 176.46 L195.02 176.47 L195.7 176.48 L196.37 176.49 L197.05 176.5 L197.72 176.51 L198.39 176.51 L199.07 176.52 L199.74 176.53 L200.42 176.53 L201.1 176.54 L201.77 176.54 L202.45 176.55 L203.12 176.55 L203.8 176.55 L204.48 176.55 L205.15 176.56 L205.83 176.56 L206.51 176.56 L207.18 176.56 L207.86 176.56 L208.54 176.56 L209.22 176.57 L209.89 176.57 L210.57 176.57 L211.25 176.57 L211.93 176.57 L212.61 176.58 L213.28 176.58 L213.96 176.58 L214.64 176.59 L215.32 176.59 L216 176.59 L216.68 176.6 L217.35 176.61 L218.03 176.61 L218.71 176.62 L219.39 176.63 L220.07 176.64 L220.75 176.65 L221.43 176.66 L222.1 176.67 L222.78 176.69 L223.46 176.7 L224.14 176.72 L224.82 176.73 L225.5 176.75 L226.17 176.77 L226.85 176.79 L227.53 176.81 L228.21 176.84 L228.89 176.86 L229.57 176.89 L230.24 176.92 L230.92 176.95 L231.6 176.98 L232.28 177.01 L232.95 177.04 L233.63 177.07 L234.31 177.11 L234.98 177.14 L235.66 177.18 L236.34 177.21 L237.01 177.25 L237.69 177.29 L238.37 177.33 L239.04 177.37 L239.72 177.41 L240.39 177.45 L241.07 177.5 L241.74 177.54 L242.42 177.58 L243.09 177.63 L243.77 177.67 L244.44 177.72 L245.11 177.77 L245.79 177.81 L246.46 177.86 L247.13 177.91 L247.8 177.95 L248.48 178 L249.15 178.05 L249.82 178.1 L250.49 178.15 L251.16 178.2 L251.83 178.25 L252.5 178.3 L253.17 178.35 L253.84 178.4 L254.51 178.45 L255.18 178.5 L255.85 178.55 L256.51 178.6 L257.18 178.65 L257.85 178.7 L258.51 178.75 L259.18 178.8 L259.85 178.85 L260.51 178.9 L261.17 178.95 L261.84 179 L262.5 179.05 L263.17 179.09 L263.83 179.14 L264.49 179.19 L265.15 179.24 L265.81 179.28 L266.47 179.33 L267.13 179.38 L267.79 179.42 L268.45 179.46 L269.11 179.51 L269.77 179.55 L270.43 179.59 L271.08 179.64 L271.74 179.68 L272.4 179.72 L273.05 179.76 L273.71 179.8 L274.36 179.83 L275.01 179.87 L275.66 179.91 L276.32 179.94 L276.97 179.98 L277.62 180.01 L278.27 180.04 L278.92 180.07 L279.57 180.1 L280.21 180.13 L280.86 180.16 L281.51 180.19 L282.15 180.21 L282.8 180.24" fill="none" stroke="#10a850" stroke-width="1.5" stroke-linejoin="round" stroke-linecap="round"/>
<text x="57.4" y="9.1" font-size="10.98" fill="#2b2b2b" text-anchor="end" textLength="12" lengthAdjust="spacingAndGlyphs" stroke="#2b2b2b" stroke-width="0.08">1.2</text>
<text x="57.4" y="69.8" font-size="10.98" fill="#2b2b2b" text-anchor="end" textLength="15.3" lengthAdjust="spacingAndGlyphs" stroke="#2b2b2b" stroke-width="0.08">0.8</text>
<text x="57.4" y="130.2" font-size="10.98" fill="#2b2b2b" text-anchor="end" textLength="15.3" lengthAdjust="spacingAndGlyphs" stroke="#2b2b2b" stroke-width="0.08">0.4</text>
<text x="57.4" y="190.5" font-size="10.98" fill="#2b2b2b" text-anchor="end" textLength="6" lengthAdjust="spacingAndGlyphs" stroke="#2b2b2b" stroke-width="0.08">0</text>
<text x="65.5" y="203.9" font-size="10.98" fill="#2b2b2b" text-anchor="middle" textLength="18.6" lengthAdjust="spacingAndGlyphs" stroke="#2b2b2b" stroke-width="0.08">300</text>
<text x="119.7" y="203.9" font-size="10.98" fill="#2b2b2b" text-anchor="middle" textLength="18.6" lengthAdjust="spacingAndGlyphs" stroke="#2b2b2b" stroke-width="0.08">400</text>
<text x="174" y="203.9" font-size="10.98" fill="#2b2b2b" text-anchor="middle" textLength="18.6" lengthAdjust="spacingAndGlyphs" stroke="#2b2b2b" stroke-width="0.08">500</text>
<text x="228.3" y="203.9" font-size="10.98" fill="#2b2b2b" text-anchor="middle" textLength="18.6" lengthAdjust="spacingAndGlyphs" stroke="#2b2b2b" stroke-width="0.08">600</text>
<text x="282.9" y="203.9" font-size="10.98" fill="#2b2b2b" text-anchor="middle" textLength="18.6" lengthAdjust="spacingAndGlyphs" stroke="#2b2b2b" stroke-width="0.08">700</text>
<text x="174.2" y="219.3" font-size="12.32" fill="#2b2b2b" text-anchor="middle" textLength="94" lengthAdjust="spacingAndGlyphs" stroke="#2b2b2b" stroke-width="0.08">Wavelength (nm)</text>
<text transform="translate(32.2 95.4) rotate(-90)" font-size="12.4" fill="#2b2b2b" text-anchor="middle" textLength="66.2" lengthAdjust="spacingAndGlyphs" stroke="#2b2b2b" stroke-width="0.08">Absorbance</text>
<text x="118.7" y="50.8" font-size="10" fill="#2b2b2b" textLength="51" lengthAdjust="spacingAndGlyphs" stroke="#2b2b2b" stroke-width="0.08"><tspan font-size="7.4">L</tspan>-Ile (1 mM)</text>
<line x1="208.6" y1="21.4" x2="230.5" y2="21.4" stroke="#1a1a1a" stroke-width="1.3"/>
<text x="234.2" y="25" font-size="10.75" fill="#2b2b2b" text-anchor="start" textLength="20.8" lengthAdjust="spacingAndGlyphs" stroke="#2b2b2b" stroke-width="0.08">0.1 s</text>
<line x1="208.6" y1="35.58" x2="230.5" y2="35.58" stroke="#ee1c1c" stroke-width="1.3"/>
<text x="234.2" y="39.18" font-size="10.75" fill="#2b2b2b" text-anchor="start" textLength="10.9" lengthAdjust="spacingAndGlyphs" stroke="#2b2b2b" stroke-width="0.08">1 s</text>
<line x1="208.6" y1="49.76" x2="230.5" y2="49.76" stroke="#2323ee" stroke-width="1.3"/>
<text x="234.2" y="53.36" font-size="10.75" fill="#2b2b2b" text-anchor="start" textLength="18" lengthAdjust="spacingAndGlyphs" stroke="#2b2b2b" stroke-width="0.08">10 s</text>
<line x1="208.6" y1="63.94" x2="230.5" y2="63.94" stroke="#f53cf0" stroke-width="1.3"/>
<text x="234.2" y="67.54" font-size="10.75" fill="#2b2b2b" text-anchor="start" textLength="19.7" lengthAdjust="spacingAndGlyphs" stroke="#2b2b2b" stroke-width="0.08">30 s</text>
<line x1="208.6" y1="78.12" x2="230.5" y2="78.12" stroke="#aaa6a6" stroke-width="1.3"/>
<text x="234.2" y="81.72" font-size="10.75" fill="#2b2b2b" text-anchor="start" textLength="24.7" lengthAdjust="spacingAndGlyphs" stroke="#2b2b2b" stroke-width="0.08">100 s</text>
<line x1="208.6" y1="92.3" x2="230.5" y2="92.3" stroke="#10a850" stroke-width="1.3"/>
<text x="234.2" y="95.9" font-size="10.75" fill="#2b2b2b" text-anchor="start" textLength="33.8" lengthAdjust="spacingAndGlyphs" stroke="#2b2b2b" stroke-width="0.08">1,000 s</text>
<text x="0" y="8.9" font-size="17.5" fill="#000" text-anchor="start" font-weight="bold">a</text>
<path d="M59.3 421.2 L59.97 421.21 L60.64 421.22 L61.32 421.23 L61.99 421.23 L62.66 421.24 L63.33 421.25 L64 421.25 L64.67 421.26 L65.34 421.26 L66.02 421.26 L66.69 421.27 L67.36 421.27 L68.03 421.27 L68.7 421.27 L69.37 421.27 L70.04 421.27 L70.71 421.27 L71.38 421.27 L72.05 421.26 L72.72 421.26 L73.39 421.26 L74.06 421.25 L74.73 421.24 L75.4 421.24 L76.07 421.23 L76.74 421.22 L77.41 421.22 L78.08 421.21 L78.75 421.2 L79.42 421.19 L80.09 421.17 L80.76 421.16 L81.43 421.15 L82.1 421.14 L82.77 421.12 L83.44 421.11 L84.11 421.09 L84.78 421.07 L85.45 421.06 L86.12 421.04 L86.78 421.02 L87.45 421 L88.12 420.98 L88.79 420.96 L89.46 420.93 L90.13 420.91 L90.79 420.89 L91.46 420.86 L92.13 420.84 L92.8 420.81 L93.47 420.78 L94.13 420.75 L94.8 420.73 L95.47 420.7 L96.14 420.67 L96.81 420.63 L97.47 420.6 L98.14 420.57 L98.81 420.53 L99.47 420.5 L100.14 420.46 L100.81 420.43 L101.48 420.39 L102.14 420.35 L102.81 420.31 L103.48 420.27 L104.14 420.23 L104.81 420.19 L105.48 420.15 L106.14 420.1 L106.81 420.06 L107.48 420.01 L108.14 419.97 L108.81 419.92 L109.47 419.87 L110.14 419.82 L110.81 419.77 L111.47 419.72 L112.14 419.67 L112.8 419.62 L113.47 419.56 L114.13 419.51 L114.8 419.45 L115.47 419.4 L116.13 419.34 L116.8 419.28 L117.46 419.22 L118.13 419.16 L118.79 419.1 L119.46 419.04 L120.12 418.97 L120.79 418.91 L121.45 418.84 L122.12 418.78 L122.78 418.71 L123.45 418.64 L124.11 418.57 L124.77 418.5 L125.44 418.43 L126.1 418.36 L126.77 418.29 L127.43 418.21 L128.1 418.14 L128.76 418.06 L129.42 417.98 L130.09 417.9 L130.75 417.82 L131.42 417.74 L132.08 417.66 L132.74 417.58 L133.41 417.49 L134.07 417.41 L134.73 417.32 L135.4 417.24 L136.06 417.15 L136.72 417.06 L137.39 416.97 L138.05 416.88 L138.71 416.79 L139.38 416.7 L140.04 416.61 L140.7 416.51 L141.36 416.42 L142.03 416.33 L142.69 416.23 L143.35 416.14 L144.01 416.05 L144.68 415.95 L145.34 415.86 L146 415.77 L146.66 415.68 L147.33 415.58 L147.99 415.49 L148.65 415.4 L149.31 415.31 L149.97 415.22 L150.64 415.13 L151.3 415.04 L151.96 414.96 L152.62 414.87 L153.28 414.78 L153.94 414.7 L154.61 414.62 L155.27 414.53 L155.93 414.45 L156.59 414.38 L157.25 414.3 L157.91 414.22 L158.57 414.15 L159.23 414.08 L159.9 414.01 L160.56 413.94 L161.22 413.87 L161.88 413.81 L162.54 413.74 L163.2 413.68 L163.86 413.62 L164.52 413.57 L165.18 413.51 L165.84 413.46 L166.5 413.41 L167.16 413.36 L167.82 413.31 L168.48 413.26 L169.14 413.22 L169.8 413.17 L170.46 413.12 L171.12 413.07 L171.78 413.03 L172.44 412.98 L173.1 412.93 L173.76 412.88 L174.42 412.83 L175.08 412.78 L175.74 412.73 L176.4 412.67 L177.06 412.62 L177.72 412.56 L178.38 412.5 L179.04 412.44 L179.7 412.37 L180.36 412.3 L181.02 412.23 L181.67 412.16 L182.33 412.08 L182.99 412 L183.65 411.92 L184.31 411.83 L184.97 411.73 L185.63 411.64 L186.29 411.54 L186.95 411.43 L187.6 411.32 L188.26 411.2 L188.92 411.08 L189.58 410.95 L190.24 410.82 L190.9 410.68 L191.55 410.53 L192.21 410.38 L192.87 410.23 L193.53 410.06 L194.19 409.89 L194.84 409.72 L195.5 409.54 L196.16 409.35 L196.82 409.16 L197.47 408.96 L198.13 408.76 L198.79 408.56 L199.45 408.35 L200.1 408.14 L200.76 407.92 L201.41 407.7 L202.07 407.48 L202.73 407.25 L203.38 407.02 L204.04 406.79 L204.69 406.55 L205.34 406.32 L206 406.08 L206.65 405.84 L207.3 405.59 L207.96 405.35 L208.61 405.1 L209.26 404.86 L209.91 404.61 L210.56 404.36 L211.22 404.11 L211.87 403.86 L212.52 403.61 L213.16 403.37 L213.81 403.12 L214.46 402.87 L215.11 402.62 L215.76 402.38 L216.4 402.13 L217.05 401.89 L217.69 401.65 L218.34 401.41 L218.98 401.17 L219.63 400.93 L220.27 400.7 L220.91 400.47 L221.55 400.24 L222.19 400.01 L222.83 399.79 L223.47 399.57 L224.11 399.36 L224.75 399.15 L225.39 398.94 L226.02 398.74 L226.66 398.54 L227.29 398.35 L227.93 398.16 L228.56 397.97 L229.19 397.79 L229.82 397.62 L230.45 397.45 L231.08 397.29 L231.71 397.14 L232.34 396.99 L232.97 396.85 L233.59 396.72 L234.22 396.59 L234.84 396.47 L235.46 396.36 L236.09 396.26 L236.71 396.17 L237.33 396.09 L237.95 396.02 L238.56 395.96 L239.18 395.91 L239.8 395.87 L240.41 395.84 L241.02 395.82 L241.64 395.82 L242.25 395.83 L242.86 395.85 L243.47 395.88 L244.07 395.93 L244.68 396 L245.29 396.07 L245.89 396.16 L246.49 396.27 L247.09 396.39 L247.69 396.53 L248.29 396.69 L248.89 396.86 L249.49 397.05 L250.08 397.25 L250.68 397.47 L251.27 397.71 L251.86 397.96 L252.45 398.22 L253.04 398.5 L253.63 398.79 L254.21 399.1 L254.8 399.41 L255.39 399.74 L255.97 400.07 L256.55 400.42 L257.14 400.78 L257.72 401.14 L258.3 401.51 L258.88 401.89 L259.46 402.28 L260.04 402.68 L260.62 403.08 L261.2 403.48 L261.78 403.89 L262.35 404.31 L262.93 404.72 L263.51 405.14 L264.08 405.57 L264.66 405.99 L265.23 406.42 L265.81 406.85 L266.38 407.27 L266.96 407.7 L267.53 408.12 L268.11 408.55 L268.68 408.97 L269.26 409.39 L269.83 409.8 L270.41 410.21 L270.98 410.62 L271.56 411.02 L272.13 411.41 L272.71 411.8 L273.29 412.18 L273.86 412.56 L274.44 412.92 L275.03 413.28 L275.61 413.63 L276.19 413.97 L276.78 414.29 L277.37 414.61 L277.96 414.91 L278.55 415.21 L279.15 415.49 L279.75 415.75 L280.35 416.01 L280.95 416.24 L281.56 416.47 L282.17 416.67 L282.79 416.86 L283.4 417.04 L284.03 417.19 L284.65 417.33 L285.28 417.45 L285.92 417.55 L286.55 417.63 L287.2 417.69 L287.84 417.73 L288.5 417.75 L289.16 417.74 L289.82 417.72 L290.49 417.67 L291.16 417.59 L291.84 417.49" fill="none" stroke="#151515" stroke-width="1.5" stroke-linejoin="round" stroke-linecap="round"/>
<path d="M59.3 419.5 L59.97 419.51 L60.63 419.52 L61.3 419.52 L61.97 419.53 L62.64 419.53 L63.3 419.53 L63.97 419.52 L64.64 419.52 L65.31 419.51 L65.98 419.5 L66.65 419.49 L67.32 419.48 L67.98 419.46 L68.65 419.44 L69.32 419.42 L69.99 419.4 L70.66 419.38 L71.33 419.35 L72 419.32 L72.67 419.29 L73.34 419.26 L74.01 419.22 L74.68 419.18 L75.35 419.14 L76.02 419.1 L76.69 419.05 L77.36 419.01 L78.03 418.96 L78.7 418.91 L79.37 418.85 L80.03 418.8 L80.7 418.74 L81.37 418.68 L82.04 418.61 L82.71 418.55 L83.38 418.48 L84.04 418.41 L84.71 418.33 L85.38 418.26 L86.04 418.18 L86.71 418.1 L87.38 418.02 L88.04 417.93 L88.71 417.84 L89.37 417.75 L90.04 417.66 L90.7 417.56 L91.36 417.46 L92.03 417.36 L92.69 417.26 L93.35 417.15 L94.01 417.05 L94.67 416.93 L95.33 416.82 L95.99 416.7 L96.65 416.58 L97.31 416.46 L97.97 416.34 L98.63 416.21 L99.28 416.08 L99.94 415.95 L100.6 415.81 L101.25 415.68 L101.91 415.54 L102.56 415.39 L103.21 415.25 L103.86 415.1 L104.51 414.95 L105.16 414.79 L105.81 414.64 L106.46 414.48 L107.11 414.31 L107.76 414.15 L108.4 413.98 L109.05 413.81 L109.69 413.63 L110.33 413.46 L110.98 413.28 L111.62 413.09 L112.26 412.91 L112.9 412.72 L113.54 412.53 L114.17 412.33 L114.81 412.14 L115.44 411.94 L116.08 411.73 L116.71 411.53 L117.34 411.32 L117.97 411.11 L118.6 410.89 L119.23 410.67 L119.86 410.45 L120.49 410.23 L121.11 410 L121.73 409.77 L122.36 409.54 L122.98 409.3 L123.6 409.06 L124.22 408.82 L124.83 408.57 L125.45 408.32 L126.06 408.07 L126.68 407.81 L127.29 407.56 L127.9 407.29 L128.51 407.03 L129.11 406.76 L129.72 406.49 L130.32 406.22 L130.93 405.94 L131.53 405.66 L132.13 405.37 L132.73 405.08 L133.32 404.79 L133.92 404.5 L134.51 404.2 L135.1 403.9 L135.7 403.6 L136.28 403.29 L136.87 402.98 L137.46 402.67 L138.05 402.36 L138.63 402.04 L139.21 401.72 L139.8 401.4 L140.38 401.08 L140.96 400.75 L141.54 400.43 L142.12 400.1 L142.7 399.78 L143.28 399.45 L143.86 399.12 L144.44 398.79 L145.02 398.46 L145.6 398.13 L146.18 397.8 L146.76 397.47 L147.34 397.14 L147.92 396.81 L148.5 396.48 L149.08 396.15 L149.67 395.82 L150.25 395.49 L150.83 395.17 L151.42 394.84 L152.01 394.52 L152.59 394.2 L153.18 393.88 L153.77 393.56 L154.36 393.25 L154.95 392.94 L155.55 392.63 L156.14 392.32 L156.74 392.01 L157.34 391.71 L157.94 391.41 L158.55 391.12 L159.15 390.83 L159.76 390.54 L160.37 390.25 L160.98 389.97 L161.6 389.7 L162.21 389.43 L162.83 389.16 L163.46 388.9 L164.08 388.64 L164.71 388.38 L165.34 388.13 L165.97 387.89 L166.6 387.64 L167.24 387.4 L167.88 387.16 L168.51 386.93 L169.15 386.69 L169.79 386.46 L170.43 386.23 L171.07 386 L171.72 385.77 L172.36 385.55 L173 385.32 L173.64 385.09 L174.28 384.86 L174.92 384.64 L175.56 384.41 L176.2 384.18 L176.83 383.95 L177.47 383.72 L178.1 383.48 L178.73 383.24 L179.36 383.01 L179.99 382.76 L180.62 382.52 L181.24 382.27 L181.86 382.02 L182.48 381.76 L183.09 381.51 L183.7 381.24 L184.31 380.97 L184.92 380.7 L185.52 380.42 L186.11 380.14 L186.7 379.85 L187.29 379.55 L187.88 379.25 L188.45 378.94 L189.03 378.62 L189.6 378.3 L190.16 377.97 L190.72 377.63 L191.27 377.28 L191.81 376.93 L192.35 376.56 L192.89 376.19 L193.41 375.81 L193.94 375.42 L194.45 375.02 L194.97 374.62 L195.47 374.21 L195.98 373.79 L196.47 373.37 L196.97 372.93 L197.45 372.5 L197.94 372.05 L198.42 371.6 L198.89 371.14 L199.37 370.68 L199.83 370.22 L200.3 369.74 L200.76 369.26 L201.22 368.78 L201.68 368.29 L202.13 367.8 L202.58 367.31 L203.03 366.81 L203.47 366.3 L203.91 365.8 L204.36 365.29 L204.79 364.77 L205.23 364.26 L205.67 363.74 L206.1 363.21 L206.54 362.69 L206.97 362.16 L207.4 361.63 L207.83 361.1 L208.26 360.57 L208.69 360.04 L209.12 359.51 L209.55 358.97 L209.97 358.44 L210.4 357.9 L210.83 357.36 L211.26 356.83 L211.69 356.29 L212.12 355.76 L212.56 355.22 L212.99 354.69 L213.42 354.15 L213.86 353.62 L214.3 353.09 L214.74 352.56 L215.18 352.03 L215.62 351.51 L216.07 350.98 L216.52 350.46 L216.97 349.95 L217.42 349.43 L217.88 348.92 L218.34 348.41 L218.8 347.91 L219.26 347.4 L219.73 346.91 L220.21 346.41 L220.68 345.92 L221.16 345.44 L221.65 344.96 L222.14 344.48 L222.63 344.01 L223.13 343.55 L223.63 343.09 L224.14 342.64 L224.66 342.19 L225.17 341.75 L225.7 341.32 L226.23 340.89 L226.76 340.47 L227.3 340.05 L227.85 339.65 L228.4 339.25 L228.96 338.86 L229.53 338.48 L230.09 338.11 L230.66 337.75 L231.24 337.41 L231.82 337.08 L232.4 336.77 L232.98 336.47 L233.56 336.19 L234.15 335.93 L234.73 335.69 L235.31 335.47 L235.9 335.27 L236.48 335.09 L237.06 334.94 L237.64 334.81 L238.22 334.71 L238.79 334.63 L239.36 334.59 L239.92 334.57 L240.48 334.58 L241.04 334.63 L241.59 334.7 L242.13 334.81 L242.66 334.96 L243.19 335.14 L243.72 335.36 L244.23 335.61 L244.73 335.9 L245.23 336.23 L245.72 336.6 L246.2 336.99 L246.67 337.42 L247.13 337.87 L247.59 338.35 L248.03 338.85 L248.48 339.37 L248.91 339.91 L249.33 340.46 L249.75 341.03 L250.17 341.6 L250.57 342.19 L250.97 342.78 L251.37 343.38 L251.75 343.98 L252.13 344.59 L252.51 345.2 L252.88 345.82 L253.25 346.44 L253.6 347.06 L253.96 347.69 L254.31 348.33 L254.65 348.96 L254.99 349.6 L255.33 350.24 L255.66 350.88 L255.99 351.52 L256.32 352.16 L256.64 352.8 L256.95 353.45 L257.27 354.09 L257.58 354.73 L257.88 355.37 L258.19 356.01 L258.49 356.65 L258.79 357.28 L259.09 357.91 L259.38 358.54 L259.68 359.17 L259.97 359.79 L260.26 360.41 L260.54 361.02 L260.83 361.63 L261.12 362.23 L261.4 362.83 L261.69 363.42 L261.97 364.01 L262.25 364.6 L262.54 365.18 L262.82 365.76 L263.1 366.34 L263.38 366.91 L263.67 367.48 L263.95 368.05 L264.24 368.62 L264.52 369.19 L264.81 369.75 L265.1 370.32 L265.39 370.88 L265.68 371.45 L265.97 372.01 L266.26 372.58 L266.56 373.14 L266.86 373.71 L267.16 374.27 L267.47 374.84 L267.77 375.41 L268.08 375.99 L268.4 376.56 L268.71 377.14 L269.03 377.71 L269.35 378.29 L269.68 378.87 L270 379.45 L270.33 380.03 L270.67 380.6 L271.01 381.18 L271.35 381.76 L271.69 382.34 L272.03 382.92 L272.38 383.5 L272.74 384.08 L273.09 384.66 L273.45 385.23 L273.82 385.81 L274.18 386.38 L274.55 386.95 L274.92 387.53 L275.3 388.09 L275.68 388.66 L276.06 389.23 L276.45 389.79 L276.84 390.35 L277.24 390.9 L277.63 391.46 L278.04 392.01 L278.44 392.56 L278.85 393.1 L279.26 393.64 L279.68 394.18 L280.1 394.72 L280.52 395.25 L280.95 395.77 L281.38 396.29 L281.82 396.81 L282.26 397.32 L282.7 397.83 L283.15 398.33 L283.6 398.83 L284.06 399.32 L284.52 399.81 L284.98 400.29 L285.45 400.76 L285.93 401.23 L286.4 401.69 L286.88 402.15 L287.37 402.6 L287.86 403.04 L288.35 403.48 L288.85 403.91 L289.36 404.33 L289.86 404.74 L290.38 405.15 L290.89 405.55 L291.41 405.94 L291.94 406.32" fill="none" stroke="#e53a2a" stroke-width="1.5" stroke-linejoin="round" stroke-linecap="round"/>
<path d="M59.3 418.4 L59.93 418.38 L60.56 418.36 L61.19 418.34 L61.83 418.32 L62.47 418.3 L63.12 418.28 L63.76 418.25 L64.41 418.23 L65.06 418.2 L65.71 418.17 L66.37 418.14 L67.02 418.11 L67.68 418.08 L68.34 418.05 L69.01 418.01 L69.67 417.98 L70.34 417.94 L71 417.9 L71.67 417.86 L72.34 417.81 L73.01 417.76 L73.69 417.72 L74.36 417.67 L75.04 417.61 L75.71 417.56 L76.39 417.5 L77.07 417.44 L77.75 417.38 L78.42 417.31 L79.1 417.24 L79.78 417.17 L80.46 417.1 L81.14 417.02 L81.82 416.94 L82.5 416.86 L83.18 416.77 L83.86 416.68 L84.54 416.59 L85.22 416.49 L85.9 416.39 L86.58 416.29 L87.26 416.18 L87.93 416.07 L88.61 415.95 L89.29 415.84 L89.96 415.71 L90.63 415.59 L91.3 415.46 L91.97 415.32 L92.64 415.18 L93.31 415.04 L93.98 414.89 L94.64 414.74 L95.3 414.58 L95.96 414.42 L96.62 414.25 L97.28 414.08 L97.94 413.91 L98.59 413.73 L99.24 413.54 L99.89 413.35 L100.53 413.15 L101.17 412.95 L101.81 412.75 L102.45 412.53 L103.09 412.32 L103.72 412.09 L104.35 411.87 L104.97 411.63 L105.59 411.39 L106.21 411.15 L106.83 410.89 L107.44 410.64 L108.05 410.37 L108.65 410.1 L109.25 409.83 L109.85 409.55 L110.44 409.26 L111.03 408.96 L111.62 408.66 L112.2 408.35 L112.77 408.04 L113.35 407.72 L113.92 407.4 L114.48 407.06 L115.04 406.73 L115.6 406.38 L116.16 406.04 L116.71 405.68 L117.25 405.32 L117.8 404.96 L118.34 404.59 L118.88 404.21 L119.41 403.83 L119.94 403.45 L120.47 403.06 L121 402.67 L121.52 402.27 L122.04 401.86 L122.55 401.46 L123.07 401.04 L123.58 400.63 L124.08 400.21 L124.59 399.78 L125.09 399.35 L125.59 398.92 L126.09 398.48 L126.58 398.04 L127.08 397.6 L127.57 397.15 L128.05 396.7 L128.54 396.25 L129.02 395.79 L129.5 395.33 L129.98 394.87 L130.46 394.4 L130.93 393.94 L131.41 393.46 L131.88 392.99 L132.35 392.51 L132.81 392.03 L133.28 391.55 L133.74 391.07 L134.21 390.58 L134.67 390.1 L135.13 389.61 L135.58 389.11 L136.04 388.62 L136.5 388.13 L136.95 387.63 L137.4 387.13 L137.85 386.63 L138.3 386.13 L138.75 385.63 L139.2 385.13 L139.65 384.62 L140.1 384.12 L140.54 383.61 L140.99 383.1 L141.43 382.6 L141.87 382.09 L142.32 381.58 L142.76 381.07 L143.2 380.56 L143.64 380.05 L144.08 379.54 L144.52 379.03 L144.96 378.52 L145.4 378.01 L145.84 377.5 L146.28 376.99 L146.72 376.48 L147.16 375.97 L147.6 375.46 L148.04 374.95 L148.48 374.44 L148.91 373.93 L149.35 373.42 L149.79 372.91 L150.23 372.4 L150.67 371.89 L151.1 371.38 L151.54 370.87 L151.98 370.36 L152.42 369.85 L152.86 369.35 L153.3 368.84 L153.74 368.33 L154.18 367.83 L154.62 367.32 L155.06 366.82 L155.51 366.32 L155.95 365.82 L156.39 365.31 L156.84 364.81 L157.28 364.31 L157.73 363.82 L158.17 363.32 L158.62 362.82 L159.07 362.33 L159.52 361.83 L159.97 361.34 L160.42 360.85 L160.87 360.36 L161.32 359.87 L161.77 359.38 L162.23 358.9 L162.68 358.41 L163.14 357.93 L163.6 357.45 L164.06 356.97 L164.52 356.49 L164.98 356.01 L165.45 355.53 L165.91 355.06 L166.38 354.59 L166.85 354.12 L167.32 353.65 L167.79 353.19 L168.26 352.72 L168.73 352.26 L169.21 351.8 L169.69 351.34 L170.17 350.89 L170.65 350.43 L171.13 349.98 L171.62 349.53 L172.1 349.08 L172.59 348.64 L173.08 348.19 L173.57 347.75 L174.06 347.3 L174.55 346.86 L175.04 346.42 L175.53 345.98 L176.02 345.53 L176.51 345.09 L177.01 344.65 L177.5 344.21 L177.99 343.77 L178.48 343.32 L178.97 342.88 L179.46 342.43 L179.94 341.99 L180.43 341.54 L180.92 341.09 L181.4 340.64 L181.88 340.18 L182.36 339.73 L182.84 339.27 L183.32 338.81 L183.8 338.34 L184.27 337.88 L184.74 337.41 L185.2 336.94 L185.67 336.46 L186.13 335.98 L186.59 335.5 L187.05 335.01 L187.5 334.52 L187.95 334.02 L188.39 333.52 L188.83 333.02 L189.27 332.51 L189.7 331.99 L190.13 331.47 L190.56 330.94 L190.98 330.41 L191.39 329.88 L191.8 329.33 L192.21 328.78 L192.61 328.23 L193.01 327.67 L193.41 327.11 L193.8 326.54 L194.19 325.98 L194.58 325.4 L194.97 324.83 L195.36 324.25 L195.74 323.68 L196.13 323.1 L196.52 322.52 L196.9 321.94 L197.29 321.37 L197.68 320.79 L198.07 320.22 L198.46 319.64 L198.86 319.07 L199.26 318.51 L199.66 317.94 L200.07 317.38 L200.48 316.83 L200.9 316.28 L201.32 315.73 L201.75 315.19 L202.18 314.66 L202.62 314.13 L203.07 313.61 L203.52 313.1 L203.98 312.59 L204.45 312.1 L204.93 311.61 L205.42 311.13 L205.91 310.67 L206.42 310.21 L206.94 309.76 L207.46 309.33 L208 308.9 L208.54 308.49 L209.1 308.1 L209.66 307.71 L210.23 307.35 L210.81 306.99 L211.39 306.65 L211.97 306.33 L212.57 306.03 L213.16 305.74 L213.76 305.47 L214.36 305.22 L214.97 304.99 L215.57 304.77 L216.18 304.58 L216.79 304.41 L217.39 304.26 L218 304.14 L218.6 304.03 L219.21 303.95 L219.81 303.89 L220.4 303.86 L221 303.86 L221.59 303.87 L222.17 303.92 L222.75 303.99 L223.32 304.09 L223.89 304.21 L224.45 304.35 L225.01 304.52 L225.56 304.71 L226.11 304.92 L226.65 305.15 L227.19 305.41 L227.72 305.68 L228.25 305.97 L228.77 306.29 L229.29 306.62 L229.8 306.96 L230.31 307.33 L230.81 307.71 L231.3 308.11 L231.8 308.52 L232.28 308.94 L232.76 309.38 L233.24 309.83 L233.71 310.3 L234.18 310.78 L234.64 311.26 L235.09 311.76 L235.54 312.27 L235.99 312.79 L236.43 313.32 L236.86 313.85 L237.29 314.39 L237.72 314.94 L238.13 315.5 L238.55 316.06 L238.96 316.63 L239.36 317.2 L239.76 317.77 L240.15 318.35 L240.54 318.93 L240.93 319.51 L241.3 320.09 L241.68 320.68 L242.04 321.26 L242.41 321.85 L242.77 322.44 L243.12 323.03 L243.47 323.62 L243.81 324.21 L244.15 324.8 L244.49 325.4 L244.82 326 L245.15 326.59 L245.47 327.19 L245.79 327.79 L246.11 328.39 L246.42 329 L246.73 329.6 L247.03 330.2 L247.33 330.81 L247.63 331.42 L247.92 332.02 L248.21 332.63 L248.5 333.24 L248.78 333.85 L249.06 334.46 L249.34 335.08 L249.61 335.69 L249.89 336.3 L250.16 336.92 L250.42 337.53 L250.69 338.15 L250.95 338.77 L251.21 339.39 L251.46 340 L251.72 340.62 L251.97 341.24 L252.22 341.86 L252.47 342.49 L252.72 343.11 L252.96 343.73 L253.2 344.35 L253.44 344.98 L253.68 345.6 L253.92 346.22 L254.16 346.85 L254.4 347.47 L254.63 348.1 L254.86 348.73 L255.1 349.35 L255.33 349.98 L255.56 350.61 L255.79 351.23 L256.02 351.86 L256.25 352.49 L256.47 353.12 L256.7 353.75 L256.93 354.38 L257.16 355 L257.38 355.63 L257.61 356.26 L257.84 356.89 L258.06 357.52 L258.29 358.15 L258.52 358.78 L258.75 359.41 L258.97 360.04 L259.2 360.67 L259.43 361.3 L259.66 361.92 L259.89 362.55 L260.12 363.18 L260.36 363.81 L260.59 364.44 L260.82 365.07 L261.06 365.69 L261.3 366.32 L261.53 366.95 L261.77 367.58 L262.02 368.2 L262.26 368.83 L262.5 369.45 L262.75 370.08 L263 370.7 L263.25 371.33 L263.5 371.95 L263.76 372.58 L264.01 373.2 L264.27 373.82 L264.53 374.44 L264.8 375.06 L265.06 375.68 L265.33 376.29 L265.6 376.91 L265.88 377.52 L266.16 378.13 L266.44 378.74 L266.72 379.35 L267.01 379.96 L267.3 380.56 L267.59 381.16 L267.89 381.77 L268.19 382.36 L268.49 382.96 L268.8 383.55 L269.11 384.14 L269.43 384.73 L269.75 385.32 L270.07 385.9 L270.4 386.48 L270.73 387.05 L271.06 387.63 L271.4 388.2 L271.75 388.77 L272.1 389.33 L272.45 389.89 L272.81 390.45 L273.17 391 L273.54 391.55 L273.91 392.09 L274.29 392.63 L274.67 393.17 L275.06 393.7 L275.46 394.23 L275.86 394.76 L276.26 395.28 L276.67 395.79 L277.09 396.3 L277.51 396.81 L277.93 397.31 L278.37 397.81 L278.81 398.3 L279.25 398.78 L279.7 399.26 L280.16 399.74 L280.62 400.21 L281.09 400.68 L281.57 401.14 L282.05 401.59 L282.54 402.04 L283.04 402.48 L283.54 402.92 L284.06 403.35 L284.57 403.77 L285.1 404.19 L285.63 404.6 L286.17 405 L286.71 405.4 L287.27 405.79 L287.83 406.18 L288.4 406.56 L288.98 406.93 L289.56 407.29 L290.15 407.65 L290.75 408 L291.36 408.34 L291.98 408.68" fill="none" stroke="#2b2bf5" stroke-width="1.5" stroke-linejoin="round" stroke-linecap="round"/>
<path d="M59.3 417.8 L60.02 417.85 L60.74 417.9 L61.46 417.94 L62.17 417.97 L62.89 417.99 L63.6 418.01 L64.3 418.02 L65.01 418.02 L65.71 418.01 L66.41 418 L67.1 417.98 L67.8 417.95 L68.49 417.91 L69.18 417.87 L69.86 417.82 L70.55 417.76 L71.23 417.7 L71.9 417.63 L72.58 417.55 L73.25 417.46 L73.92 417.37 L74.59 417.27 L75.25 417.17 L75.91 417.06 L76.57 416.94 L77.23 416.81 L77.88 416.68 L78.54 416.54 L79.18 416.39 L79.83 416.24 L80.47 416.08 L81.11 415.92 L81.75 415.75 L82.39 415.57 L83.02 415.39 L83.65 415.2 L84.28 415 L84.9 414.8 L85.52 414.59 L86.14 414.38 L86.76 414.16 L87.38 413.93 L87.99 413.7 L88.6 413.47 L89.2 413.22 L89.81 412.97 L90.41 412.72 L91 412.46 L91.6 412.19 L92.19 411.92 L92.78 411.65 L93.37 411.37 L93.96 411.08 L94.54 410.79 L95.12 410.49 L95.69 410.18 L96.27 409.88 L96.84 409.56 L97.41 409.24 L97.98 408.92 L98.54 408.59 L99.1 408.26 L99.66 407.92 L100.22 407.58 L100.77 407.23 L101.32 406.88 L101.87 406.52 L102.41 406.16 L102.95 405.79 L103.49 405.42 L104.03 405.04 L104.57 404.66 L105.1 404.28 L105.63 403.89 L106.15 403.5 L106.68 403.1 L107.2 402.7 L107.72 402.29 L108.23 401.88 L108.75 401.47 L109.26 401.05 L109.76 400.62 L110.27 400.2 L110.77 399.77 L111.27 399.33 L111.77 398.9 L112.26 398.45 L112.75 398.01 L113.24 397.56 L113.73 397.11 L114.21 396.65 L114.7 396.19 L115.17 395.73 L115.65 395.26 L116.12 394.79 L116.59 394.32 L117.06 393.84 L117.53 393.36 L117.99 392.88 L118.45 392.39 L118.91 391.9 L119.36 391.41 L119.81 390.91 L120.26 390.41 L120.71 389.91 L121.15 389.41 L121.59 388.9 L122.03 388.39 L122.47 387.88 L122.9 387.36 L123.33 386.84 L123.76 386.32 L124.18 385.8 L124.61 385.27 L125.02 384.74 L125.44 384.21 L125.86 383.68 L126.27 383.14 L126.68 382.61 L127.08 382.07 L127.49 381.53 L127.89 380.98 L128.29 380.43 L128.68 379.89 L129.08 379.34 L129.47 378.78 L129.85 378.23 L130.24 377.67 L130.62 377.12 L131 376.56 L131.38 376 L131.75 375.43 L132.12 374.87 L132.49 374.3 L132.86 373.74 L133.22 373.17 L133.58 372.6 L133.94 372.02 L134.3 371.45 L134.65 370.88 L135 370.3 L135.35 369.72 L135.69 369.15 L136.03 368.57 L136.37 367.99 L136.71 367.41 L137.05 366.82 L137.38 366.24 L137.71 365.66 L138.04 365.07 L138.36 364.49 L138.69 363.9 L139.01 363.31 L139.33 362.72 L139.65 362.13 L139.96 361.54 L140.28 360.95 L140.59 360.36 L140.9 359.77 L141.21 359.17 L141.51 358.58 L141.82 357.98 L142.12 357.39 L142.43 356.79 L142.73 356.2 L143.03 355.6 L143.33 355 L143.63 354.4 L143.92 353.81 L144.22 353.21 L144.51 352.61 L144.8 352.01 L145.1 351.41 L145.39 350.81 L145.68 350.21 L145.97 349.61 L146.26 349.01 L146.55 348.41 L146.83 347.8 L147.12 347.2 L147.41 346.6 L147.69 346 L147.98 345.4 L148.27 344.8 L148.55 344.19 L148.84 343.59 L149.12 342.99 L149.41 342.39 L149.69 341.79 L149.98 341.19 L150.26 340.59 L150.55 339.99 L150.83 339.39 L151.12 338.79 L151.4 338.19 L151.69 337.59 L151.98 336.99 L152.26 336.39 L152.55 335.79 L152.84 335.19 L153.13 334.59 L153.42 334 L153.71 333.4 L154 332.8 L154.29 332.21 L154.58 331.61 L154.87 331.02 L155.17 330.42 L155.46 329.83 L155.76 329.24 L156.06 328.65 L156.36 328.05 L156.66 327.46 L156.96 326.87 L157.26 326.29 L157.57 325.7 L157.87 325.11 L158.18 324.53 L158.49 323.94 L158.8 323.36 L159.11 322.77 L159.43 322.19 L159.75 321.61 L160.06 321.03 L160.38 320.45 L160.71 319.87 L161.03 319.3 L161.36 318.72 L161.69 318.15 L162.02 317.58 L162.35 317 L162.69 316.43 L163.02 315.86 L163.36 315.3 L163.71 314.73 L164.05 314.17 L164.4 313.6 L164.75 313.04 L165.11 312.48 L165.46 311.92 L165.82 311.36 L166.18 310.81 L166.55 310.26 L166.92 309.7 L167.29 309.15 L167.66 308.6 L168.04 308.06 L168.42 307.51 L168.8 306.97 L169.19 306.42 L169.58 305.88 L169.98 305.35 L170.38 304.81 L170.78 304.27 L171.18 303.74 L171.59 303.21 L172 302.68 L172.42 302.16 L172.84 301.63 L173.26 301.11 L173.69 300.59 L174.12 300.07 L174.56 299.55 L175 299.04 L175.45 298.53 L175.89 298.02 L176.35 297.51 L176.8 297.01 L177.27 296.51 L177.73 296.01 L178.2 295.51 L178.68 295.01 L179.16 294.52 L179.64 294.03 L180.13 293.54 L180.63 293.06 L181.13 292.57 L181.63 292.1 L182.14 291.62 L182.65 291.15 L183.17 290.68 L183.69 290.22 L184.21 289.76 L184.74 289.31 L185.27 288.86 L185.81 288.42 L186.35 287.99 L186.89 287.56 L187.44 287.14 L187.99 286.72 L188.55 286.31 L189.11 285.91 L189.67 285.52 L190.24 285.13 L190.8 284.76 L191.38 284.39 L191.95 284.03 L192.53 283.68 L193.11 283.34 L193.69 283.01 L194.28 282.69 L194.87 282.38 L195.46 282.08 L196.05 281.8 L196.65 281.52 L197.25 281.26 L197.85 281 L198.45 280.76 L199.06 280.53 L199.67 280.32 L200.28 280.12 L200.89 279.93 L201.5 279.75 L202.12 279.59 L202.73 279.44 L203.35 279.31 L203.97 279.19 L204.59 279.09 L205.22 279.01 L205.84 278.94 L206.47 278.88 L207.09 278.84 L207.72 278.82 L208.35 278.81 L208.98 278.83 L209.61 278.86 L210.23 278.92 L210.86 278.99 L211.48 279.09 L212.1 279.22 L212.72 279.37 L213.33 279.54 L213.94 279.75 L214.54 279.98 L215.14 280.23 L215.73 280.5 L216.31 280.8 L216.88 281.12 L217.45 281.45 L218 281.81 L218.55 282.17 L219.08 282.56 L219.61 282.96 L220.13 283.37 L220.64 283.8 L221.14 284.24 L221.64 284.69 L222.12 285.15 L222.6 285.63 L223.07 286.11 L223.54 286.61 L224 287.11 L224.45 287.63 L224.9 288.15 L225.34 288.68 L225.77 289.21 L226.2 289.75 L226.63 290.3 L227.05 290.85 L227.46 291.41 L227.88 291.97 L228.28 292.53 L228.69 293.09 L229.09 293.66 L229.49 294.23 L229.89 294.8 L230.28 295.36 L230.67 295.93 L231.06 296.5 L231.44 297.07 L231.82 297.64 L232.2 298.21 L232.58 298.78 L232.96 299.35 L233.33 299.92 L233.7 300.49 L234.07 301.06 L234.43 301.63 L234.8 302.2 L235.16 302.78 L235.52 303.35 L235.87 303.92 L236.23 304.5 L236.58 305.07 L236.93 305.64 L237.28 306.22 L237.62 306.79 L237.97 307.37 L238.31 307.95 L238.65 308.52 L238.98 309.1 L239.32 309.68 L239.65 310.26 L239.98 310.83 L240.31 311.41 L240.64 311.99 L240.96 312.57 L241.29 313.15 L241.61 313.73 L241.93 314.32 L242.25 314.9 L242.56 315.48 L242.88 316.06 L243.19 316.65 L243.5 317.23 L243.81 317.81 L244.12 318.4 L244.42 318.99 L244.73 319.57 L245.03 320.16 L245.33 320.75 L245.63 321.33 L245.93 321.92 L246.23 322.51 L246.52 323.1 L246.82 323.69 L247.11 324.28 L247.4 324.87 L247.69 325.47 L247.98 326.06 L248.27 326.65 L248.55 327.24 L248.84 327.84 L249.12 328.43 L249.4 329.03 L249.68 329.63 L249.96 330.22 L250.24 330.82 L250.52 331.42 L250.8 332.02 L251.07 332.62 L251.35 333.22 L251.62 333.82 L251.89 334.42 L252.17 335.02 L252.44 335.63 L252.71 336.23 L252.98 336.83 L253.25 337.44 L253.51 338.05 L253.78 338.65 L254.05 339.26 L254.31 339.87 L254.58 340.48 L254.84 341.08 L255.1 341.69 L255.37 342.3 L255.63 342.92 L255.89 343.53 L256.15 344.14 L256.41 344.75 L256.67 345.36 L256.93 345.98 L257.19 346.59 L257.45 347.21 L257.71 347.82 L257.96 348.44 L258.22 349.05 L258.48 349.67 L258.73 350.28 L258.99 350.9 L259.25 351.52 L259.5 352.14 L259.76 352.75 L260.01 353.37 L260.27 353.99 L260.52 354.61 L260.78 355.23 L261.03 355.85 L261.29 356.47 L261.54 357.09 L261.8 357.71 L262.05 358.33 L262.31 358.96 L262.57 359.58 L262.82 360.2 L263.08 360.82 L263.33 361.44 L263.59 362.07 L263.84 362.69 L264.1 363.31 L264.36 363.93 L264.61 364.56 L264.87 365.18 L265.13 365.81 L265.38 366.43 L265.64 367.05 L265.9 367.68 L266.16 368.3 L266.42 368.92 L266.68 369.55 L266.94 370.17 L267.2 370.8 L267.46 371.42 L267.72 372.04 L267.99 372.67 L268.25 373.29 L268.51 373.92 L268.78 374.54 L269.05 375.16 L269.32 375.78 L269.59 376.4 L269.86 377.02 L270.13 377.64 L270.41 378.26 L270.68 378.87 L270.96 379.49 L271.25 380.1 L271.53 380.71 L271.82 381.32 L272.11 381.93 L272.4 382.53 L272.7 383.13 L273 383.74 L273.3 384.33 L273.61 384.93 L273.92 385.52 L274.23 386.11 L274.55 386.7 L274.87 387.28 L275.19 387.86 L275.52 388.44 L275.86 389.01 L276.2 389.59 L276.54 390.15 L276.89 390.72 L277.24 391.27 L277.6 391.83 L277.96 392.38 L278.33 392.93 L278.7 393.47 L279.08 394.01 L279.47 394.54 L279.86 395.07 L280.25 395.59 L280.66 396.11 L281.07 396.63 L281.48 397.13 L281.9 397.64 L282.33 398.14 L282.77 398.63 L283.21 399.11 L283.66 399.59 L284.12 400.07 L284.58 400.54 L285.05 401 L285.53 401.46 L286.02 401.91 L286.51 402.35 L287.01 402.78 L287.52 403.21 L288.04 403.64 L288.57 404.05 L289.1 404.46 L289.65 404.86 L290.2 405.26 L290.76 405.64 L291.33 406.02 L291.91 406.39" fill="none" stroke="#44a044" stroke-width="1.5" stroke-linejoin="round" stroke-linecap="round"/>
<path d="M59.3 413.2 L59.93 413.12 L60.56 413.04 L61.2 412.96 L61.84 412.87 L62.48 412.79 L63.13 412.7 L63.77 412.61 L64.42 412.51 L65.07 412.42 L65.72 412.32 L66.38 412.22 L67.03 412.11 L67.69 412.01 L68.35 411.9 L69.01 411.78 L69.67 411.67 L70.34 411.55 L71 411.43 L71.67 411.31 L72.33 411.18 L73 411.05 L73.66 410.91 L74.33 410.78 L75 410.64 L75.66 410.49 L76.33 410.35 L77 410.19 L77.66 410.04 L78.33 409.88 L79 409.72 L79.66 409.55 L80.32 409.38 L80.99 409.21 L81.65 409.03 L82.31 408.85 L82.97 408.67 L83.63 408.48 L84.28 408.28 L84.94 408.08 L85.59 407.88 L86.24 407.67 L86.89 407.46 L87.54 407.25 L88.18 407.03 L88.83 406.8 L89.46 406.57 L90.1 406.34 L90.74 406.1 L91.37 405.85 L91.99 405.6 L92.62 405.35 L93.24 405.09 L93.86 404.82 L94.47 404.55 L95.08 404.28 L95.69 404 L96.29 403.71 L96.89 403.42 L97.49 403.13 L98.08 402.82 L98.66 402.51 L99.24 402.2 L99.82 401.88 L100.39 401.56 L100.96 401.23 L101.52 400.89 L102.07 400.55 L102.63 400.2 L103.17 399.84 L103.71 399.48 L104.24 399.11 L104.77 398.74 L105.3 398.36 L105.81 397.97 L106.32 397.58 L106.82 397.18 L107.32 396.77 L107.81 396.36 L108.3 395.94 L108.78 395.52 L109.25 395.09 L109.72 394.65 L110.18 394.21 L110.64 393.76 L111.09 393.3 L111.54 392.84 L111.98 392.38 L112.42 391.91 L112.85 391.43 L113.28 390.95 L113.7 390.46 L114.12 389.97 L114.54 389.47 L114.96 388.97 L115.37 388.46 L115.78 387.95 L116.18 387.44 L116.58 386.92 L116.98 386.39 L117.38 385.87 L117.77 385.33 L118.17 384.8 L118.56 384.26 L118.95 383.72 L119.33 383.17 L119.72 382.62 L120.1 382.06 L120.49 381.51 L120.87 380.95 L121.25 380.38 L121.63 379.82 L122 379.25 L122.38 378.67 L122.75 378.1 L123.12 377.52 L123.49 376.94 L123.86 376.36 L124.23 375.78 L124.6 375.19 L124.96 374.6 L125.32 374.01 L125.68 373.42 L126.04 372.83 L126.4 372.23 L126.76 371.63 L127.11 371.04 L127.46 370.44 L127.82 369.84 L128.17 369.23 L128.51 368.63 L128.86 368.03 L129.21 367.42 L129.55 366.82 L129.89 366.21 L130.23 365.61 L130.57 365 L130.9 364.39 L131.24 363.79 L131.57 363.18 L131.9 362.57 L132.23 361.97 L132.56 361.36 L132.89 360.76 L133.21 360.15 L133.54 359.55 L133.86 358.94 L134.18 358.34 L134.5 357.74 L134.81 357.14 L135.13 356.54 L135.44 355.94 L135.75 355.34 L136.06 354.75 L136.37 354.15 L136.68 353.56 L136.98 352.97 L137.29 352.37 L137.59 351.78 L137.89 351.19 L138.19 350.6 L138.49 350.01 L138.79 349.42 L139.08 348.84 L139.38 348.25 L139.67 347.66 L139.96 347.08 L140.26 346.49 L140.55 345.91 L140.84 345.32 L141.12 344.74 L141.41 344.16 L141.7 343.57 L141.99 342.99 L142.27 342.41 L142.56 341.83 L142.84 341.24 L143.12 340.66 L143.41 340.08 L143.69 339.5 L143.97 338.92 L144.25 338.33 L144.53 337.75 L144.81 337.17 L145.09 336.59 L145.37 336 L145.65 335.42 L145.93 334.84 L146.21 334.26 L146.49 333.67 L146.77 333.09 L147.05 332.5 L147.33 331.92 L147.61 331.33 L147.89 330.75 L148.16 330.16 L148.44 329.57 L148.72 328.99 L149 328.4 L149.28 327.81 L149.56 327.22 L149.84 326.63 L150.12 326.03 L150.4 325.44 L150.69 324.85 L150.97 324.25 L151.25 323.66 L151.53 323.06 L151.82 322.46 L152.1 321.87 L152.39 321.27 L152.67 320.66 L152.96 320.06 L153.24 319.46 L153.53 318.85 L153.82 318.25 L154.11 317.64 L154.4 317.04 L154.69 316.43 L154.99 315.82 L155.28 315.22 L155.58 314.61 L155.87 314 L156.17 313.39 L156.47 312.78 L156.77 312.17 L157.07 311.56 L157.37 310.96 L157.68 310.35 L157.98 309.74 L158.29 309.13 L158.6 308.53 L158.91 307.92 L159.22 307.31 L159.53 306.71 L159.85 306.11 L160.16 305.5 L160.48 304.9 L160.8 304.3 L161.12 303.7 L161.45 303.1 L161.77 302.5 L162.1 301.91 L162.43 301.31 L162.76 300.72 L163.1 300.13 L163.43 299.54 L163.77 298.95 L164.11 298.36 L164.45 297.78 L164.8 297.2 L165.15 296.62 L165.5 296.04 L165.85 295.46 L166.2 294.89 L166.56 294.32 L166.93 293.75 L167.29 293.18 L167.66 292.61 L168.03 292.05 L168.4 291.49 L168.78 290.93 L169.16 290.37 L169.55 289.81 L169.94 289.26 L170.33 288.71 L170.73 288.16 L171.13 287.62 L171.53 287.07 L171.94 286.53 L172.36 285.99 L172.77 285.46 L173.19 284.92 L173.62 284.39 L174.05 283.86 L174.49 283.34 L174.93 282.81 L175.38 282.29 L175.83 281.78 L176.28 281.27 L176.74 280.76 L177.21 280.26 L177.68 279.77 L178.16 279.29 L178.64 278.82 L179.13 278.35 L179.62 277.9 L180.12 277.45 L180.63 277.02 L181.14 276.6 L181.66 276.2 L182.18 275.81 L182.71 275.43 L183.25 275.07 L183.79 274.72 L184.34 274.39 L184.9 274.08 L185.46 273.79 L186.03 273.51 L186.61 273.26 L187.19 273.02 L187.78 272.81 L188.38 272.61 L188.98 272.43 L189.59 272.27 L190.2 272.13 L190.82 272.01 L191.44 271.91 L192.06 271.82 L192.69 271.75 L193.32 271.7 L193.96 271.66 L194.6 271.64 L195.24 271.64 L195.88 271.65 L196.53 271.68 L197.17 271.72 L197.82 271.78 L198.47 271.86 L199.12 271.94 L199.77 272.05 L200.42 272.16 L201.07 272.3 L201.71 272.44 L202.36 272.6 L203.01 272.77 L203.65 272.95 L204.29 273.15 L204.93 273.36 L205.57 273.58 L206.2 273.81 L206.83 274.05 L207.46 274.31 L208.08 274.57 L208.7 274.85 L209.31 275.13 L209.92 275.43 L210.53 275.74 L211.13 276.05 L211.72 276.38 L212.3 276.71 L212.88 277.05 L213.46 277.41 L214.02 277.77 L214.58 278.14 L215.14 278.51 L215.69 278.9 L216.23 279.29 L216.77 279.69 L217.3 280.1 L217.82 280.51 L218.34 280.93 L218.86 281.36 L219.37 281.8 L219.87 282.24 L220.37 282.69 L220.86 283.15 L221.35 283.61 L221.83 284.07 L222.31 284.55 L222.78 285.03 L223.25 285.51 L223.71 286 L224.17 286.5 L224.62 287 L225.07 287.5 L225.52 288.01 L225.96 288.53 L226.39 289.04 L226.83 289.57 L227.25 290.09 L227.68 290.63 L228.1 291.16 L228.51 291.7 L228.93 292.24 L229.33 292.78 L229.74 293.33 L230.14 293.88 L230.54 294.43 L230.93 294.99 L231.32 295.55 L231.71 296.11 L232.09 296.67 L232.48 297.24 L232.85 297.8 L233.23 298.37 L233.6 298.94 L233.97 299.51 L234.34 300.08 L234.7 300.65 L235.06 301.22 L235.42 301.8 L235.78 302.37 L236.13 302.95 L236.48 303.52 L236.83 304.1 L237.18 304.67 L237.52 305.25 L237.87 305.83 L238.21 306.41 L238.54 306.98 L238.88 307.56 L239.21 308.14 L239.55 308.72 L239.87 309.3 L240.2 309.88 L240.53 310.47 L240.85 311.05 L241.17 311.63 L241.49 312.21 L241.81 312.8 L242.12 313.38 L242.43 313.97 L242.74 314.55 L243.05 315.14 L243.36 315.73 L243.67 316.31 L243.97 316.9 L244.27 317.49 L244.57 318.08 L244.87 318.67 L245.17 319.26 L245.46 319.85 L245.76 320.44 L246.05 321.03 L246.34 321.63 L246.63 322.22 L246.92 322.81 L247.2 323.41 L247.49 324 L247.77 324.6 L248.05 325.2 L248.33 325.79 L248.61 326.39 L248.89 326.99 L249.17 327.59 L249.44 328.19 L249.72 328.79 L249.99 329.39 L250.26 329.99 L250.53 330.59 L250.8 331.19 L251.07 331.79 L251.33 332.4 L251.6 333 L251.87 333.61 L252.13 334.21 L252.39 334.82 L252.66 335.43 L252.92 336.03 L253.18 336.64 L253.44 337.25 L253.69 337.86 L253.95 338.47 L254.21 339.08 L254.47 339.69 L254.72 340.3 L254.98 340.91 L255.23 341.53 L255.48 342.14 L255.74 342.75 L255.99 343.37 L256.24 343.99 L256.49 344.6 L256.74 345.22 L256.99 345.84 L257.24 346.45 L257.49 347.07 L257.74 347.69 L257.99 348.31 L258.24 348.93 L258.49 349.56 L258.74 350.18 L258.98 350.8 L259.23 351.42 L259.48 352.05 L259.72 352.67 L259.97 353.3 L260.22 353.92 L260.46 354.55 L260.71 355.18 L260.96 355.81 L261.2 356.43 L261.45 357.06 L261.7 357.69 L261.95 358.32 L262.19 358.95 L262.44 359.58 L262.69 360.21 L262.94 360.84 L263.19 361.47 L263.44 362.1 L263.69 362.73 L263.95 363.36 L264.2 363.99 L264.45 364.62 L264.71 365.25 L264.97 365.88 L265.22 366.5 L265.48 367.13 L265.74 367.76 L266.01 368.38 L266.27 369.01 L266.54 369.63 L266.8 370.25 L267.07 370.87 L267.34 371.49 L267.62 372.11 L267.89 372.73 L268.17 373.35 L268.45 373.96 L268.73 374.57 L269.01 375.19 L269.3 375.8 L269.59 376.41 L269.88 377.01 L270.17 377.62 L270.47 378.22 L270.76 378.82 L271.07 379.42 L271.37 380.02 L271.68 380.62 L271.99 381.21 L272.3 381.8 L272.62 382.39 L272.94 382.97 L273.26 383.56 L273.59 384.14 L273.92 384.72 L274.25 385.29 L274.59 385.87 L274.93 386.44 L275.27 387 L275.62 387.57 L275.97 388.13 L276.33 388.69 L276.69 389.24 L277.05 389.79 L277.42 390.34 L277.79 390.89 L278.17 391.43 L278.55 391.97 L278.93 392.5 L279.32 393.03 L279.72 393.56 L280.12 394.09 L280.52 394.61 L280.93 395.12 L281.34 395.63 L281.76 396.14 L282.19 396.65 L282.62 397.15 L283.05 397.64 L283.49 398.13 L283.93 398.62 L284.38 399.1 L284.84 399.58 L285.3 400.05 L285.77 400.52 L286.24 400.99 L286.72 401.44 L287.2 401.9 L287.69 402.35 L288.19 402.79 L288.69 403.23 L289.2 403.67 L289.71 404.1 L290.23 404.52 L290.76 404.94 L291.29 405.35 L291.83 405.76" fill="none" stroke="#f03cf0" stroke-width="1.5" stroke-linejoin="round" stroke-linecap="round"/>
<rect x="45.7" y="236.4" width="246.60000000000002" height="187.6" fill="none" stroke="#1a1a1a" stroke-width="1.25"/>
<line x1="43.4" y1="424" x2="45.7" y2="424" stroke="#1a1a1a" stroke-width="0.9"/>
<line x1="43.4" y1="361.47" x2="45.7" y2="361.47" stroke="#1a1a1a" stroke-width="0.9"/>
<line x1="43.4" y1="298.93" x2="45.7" y2="298.93" stroke="#1a1a1a" stroke-width="0.9"/>
<line x1="43.4" y1="236.4" x2="45.7" y2="236.4" stroke="#1a1a1a" stroke-width="0.9"/>
<line x1="91.6" y1="424" x2="91.6" y2="426.6" stroke="#1a1a1a" stroke-width="0.9"/>
<line x1="136.6" y1="424" x2="136.6" y2="426.6" stroke="#1a1a1a" stroke-width="0.9"/>
<line x1="181.5" y1="424" x2="181.5" y2="426.6" stroke="#1a1a1a" stroke-width="0.9"/>
<line x1="226" y1="424" x2="226" y2="426.6" stroke="#1a1a1a" stroke-width="0.9"/>
<line x1="270.8" y1="424" x2="270.8" y2="426.6" stroke="#1a1a1a" stroke-width="0.9"/>
<text x="39.2" y="240.4" font-size="10.75" fill="#2b2b2b" text-anchor="end" textLength="15.4" lengthAdjust="spacingAndGlyphs" stroke="#2b2b2b" stroke-width="0.08">0.6</text>
<text x="39.2" y="302.8" font-size="10.75" fill="#2b2b2b" text-anchor="end" textLength="15.4" lengthAdjust="spacingAndGlyphs" stroke="#2b2b2b" stroke-width="0.08">0.4</text>
<text x="39.2" y="365.4" font-size="10.75" fill="#2b2b2b" text-anchor="end" textLength="15.4" lengthAdjust="spacingAndGlyphs" stroke="#2b2b2b" stroke-width="0.08">0.2</text>
<text x="39.2" y="427.8" font-size="10.75" fill="#2b2b2b" text-anchor="end" textLength="6" lengthAdjust="spacingAndGlyphs" stroke="#2b2b2b" stroke-width="0.08">0</text>
<text x="92.5" y="439" font-size="10.3" fill="#2b2b2b" text-anchor="middle" textLength="20.3" lengthAdjust="spacingAndGlyphs" stroke="#2b2b2b" stroke-width="0.08">0.01</text>
<text x="136.6" y="439" font-size="10.3" fill="#2b2b2b" text-anchor="middle" textLength="12.8" lengthAdjust="spacingAndGlyphs" stroke="#2b2b2b" stroke-width="0.08">0.1</text>
<text x="180" y="439" font-size="10.3" fill="#2b2b2b" text-anchor="middle" stroke="#2b2b2b" stroke-width="0.08">1</text>
<text x="225.4" y="439" font-size="10.3" fill="#2b2b2b" text-anchor="middle" textLength="10.8" lengthAdjust="spacingAndGlyphs" stroke="#2b2b2b" stroke-width="0.08">10</text>
<text x="270.8" y="439" font-size="10.3" fill="#2b2b2b" text-anchor="middle" textLength="17" lengthAdjust="spacingAndGlyphs" stroke="#2b2b2b" stroke-width="0.08">100</text>
<text x="174.3" y="456.5" font-size="12.1" fill="#2b2b2b" text-anchor="middle" textLength="103.2" lengthAdjust="spacingAndGlyphs" stroke="#2b2b2b" stroke-width="0.08">Incubation time (s)</text>
<text transform="translate(15.5 338.6) rotate(-90)" font-size="11.8" fill="#2b2b2b" font-style="italic" stroke="#2b2b2b" stroke-width="0.08">A<tspan font-size="8.8" font-style="normal" dy="3.8">614</tspan></text>
<text x="114.9" y="266" font-size="10.08" fill="#f03cf0" text-anchor="end" textLength="50.3" lengthAdjust="spacingAndGlyphs" stroke="#f03cf0" stroke-width="0.08">6.0 mM Ile</text>
<text x="114.9" y="284" font-size="10.08" fill="#3d913d" text-anchor="end" textLength="48.2" lengthAdjust="spacingAndGlyphs" stroke="#3d913d" stroke-width="0.08">2.5 mM Ile</text>
<text x="114.9" y="299" font-size="10.08" fill="#2f2ff5" text-anchor="end" textLength="47.7" lengthAdjust="spacingAndGlyphs" stroke="#2f2ff5" stroke-width="0.08">1.0 mM Ile</text>
<text x="114.9" y="315" font-size="10.08" fill="#d8302c" text-anchor="end" textLength="49.6" lengthAdjust="spacingAndGlyphs" stroke="#d8302c" stroke-width="0.08">0.3 mM Ile</text>
<text x="114.9" y="331.5" font-size="10.08" fill="#222" text-anchor="end" textLength="47.7" lengthAdjust="spacingAndGlyphs" stroke="#222" stroke-width="0.08">0.1 mM Ile</text>
<text x="4.6" y="240.9" font-size="16.8" fill="#000" text-anchor="start" font-weight="bold">b</text>
<path d="M66.8 659.7 L80 659.2 L93.8 658.3 L94.48 658.28 L95.16 658.27 L95.83 658.24 L96.51 658.22 L97.18 658.19 L97.86 658.17 L98.53 658.13 L99.2 658.1 L99.87 658.06 L100.55 658.03 L101.22 657.99 L101.88 657.94 L102.55 657.9 L103.22 657.85 L103.89 657.8 L104.55 657.75 L105.22 657.69 L105.88 657.64 L106.55 657.58 L107.21 657.52 L107.87 657.45 L108.54 657.39 L109.2 657.32 L109.86 657.25 L110.52 657.18 L111.18 657.11 L111.84 657.03 L112.5 656.96 L113.16 656.88 L113.81 656.8 L114.47 656.72 L115.13 656.63 L115.79 656.54 L116.44 656.46 L117.1 656.37 L117.76 656.28 L118.41 656.18 L119.07 656.09 L119.72 655.99 L120.38 655.89 L121.03 655.79 L121.69 655.69 L122.34 655.59 L122.99 655.48 L123.65 655.38 L124.3 655.27 L124.96 655.16 L125.61 655.05 L126.26 654.94 L126.92 654.83 L127.57 654.71 L128.22 654.6 L128.88 654.48 L129.53 654.36 L130.19 654.24 L130.84 654.12 L131.49 654 L132.15 653.88 L132.8 653.76 L133.46 653.63 L134.11 653.51 L134.76 653.39 L135.42 653.26 L136.07 653.13 L136.73 653.01 L137.39 652.88 L138.04 652.75 L138.7 652.62 L139.35 652.49 L140.01 652.36 L140.67 652.23 L141.33 652.1 L141.98 651.97 L142.64 651.84 L143.3 651.71 L143.96 651.58 L144.62 651.45 L145.28 651.32 L145.94 651.19 L146.6 651.06 L147.27 650.93 L147.93 650.8 L148.59 650.67 L149.26 650.54 L149.92 650.41 L150.59 650.28 L151.25 650.15 L151.92 650.02 L152.59 649.89 L153.25 649.77 L153.92 649.64 L154.59 649.51 L155.25 649.38 L155.92 649.25 L156.59 649.11 L157.26 648.98 L157.92 648.84 L158.59 648.71 L159.25 648.57 L159.92 648.43 L160.58 648.29 L161.25 648.15 L161.91 648 L162.57 647.85 L163.23 647.7 L163.89 647.55 L164.55 647.39 L165.2 647.23 L165.86 647.07 L166.51 646.9 L167.17 646.73 L167.82 646.55 L168.46 646.38 L169.11 646.19 L169.75 646.01 L170.4 645.82 L171.04 645.62 L171.68 645.42 L172.31 645.22 L172.94 645.01 L173.57 644.79 L174.2 644.57 L174.83 644.35 L175.45 644.12 L176.07 643.88 L176.68 643.64 L177.3 643.39 L177.91 643.13 L178.51 642.87 L179.12 642.6 L179.72 642.33 L180.31 642.04 L180.91 641.76 L181.49 641.46 L182.08 641.16 L182.66 640.85 L183.24 640.53 L183.81 640.21 L184.38 639.88 L184.95 639.54 L185.51 639.2 L186.07 638.85 L186.62 638.49 L187.17 638.13 L187.72 637.77 L188.26 637.4 L188.8 637.02 L189.33 636.63 L189.86 636.24 L190.38 635.85 L190.9 635.45 L191.42 635.05 L191.93 634.64 L192.44 634.22 L192.94 633.8 L193.44 633.38 L193.94 632.95 L194.43 632.51 L194.91 632.08 L195.39 631.63 L195.87 631.19 L196.34 630.74 L196.81 630.28 L197.27 629.82 L197.73 629.36 L198.18 628.89 L198.64 628.42 L199.08 627.95 L199.53 627.47 L199.97 626.99 L200.42 626.51 L200.85 626.02 L201.29 625.53 L201.73 625.04 L202.16 624.54 L202.59 624.04 L203.03 623.54 L203.46 623.04 L203.89 622.53 L204.32 622.03 L204.75 621.52 L205.18 621 L205.62 620.49 L206.05 619.97 L206.49 619.45 L206.92 618.93 L207.36 618.41 L207.8 617.89 L208.24 617.36 L208.69 616.84 L209.14 616.31 L209.59 615.78 L210.04 615.25 L210.5 614.72 L210.96 614.19 L211.42 613.66 L211.89 613.13 L212.37 612.6 L212.85 612.06 L213.33 611.53 L213.82 611 L214.31 610.47 L214.81 609.94 L215.31 609.41 L215.82 608.89 L216.33 608.37 L216.84 607.85 L217.36 607.34 L217.88 606.84 L218.41 606.34 L218.94 605.85 L219.47 605.37 L220.01 604.89 L220.55 604.42 L221.09 603.96 L221.64 603.52 L222.18 603.08 L222.74 602.65 L223.29 602.24 L223.84 601.84 L224.4 601.45 L224.96 601.07 L225.53 600.71 L226.09 600.37 L226.66 600.04 L227.23 599.72 L227.8 599.43 L228.37 599.15 L228.94 598.88 L229.52 598.64 L230.09 598.42 L230.67 598.21 L231.25 598.03 L231.83 597.87 L232.41 597.73 L232.99 597.61 L233.57 597.52 L234.15 597.44 L234.73 597.4 L235.31 597.38 L235.89 597.38 L236.47 597.41 L237.06 597.46 L237.64 597.54 L238.22 597.64 L238.79 597.77 L239.37 597.92 L239.95 598.09 L240.52 598.28 L241.1 598.49 L241.67 598.72 L242.23 598.97 L242.8 599.25 L243.36 599.54 L243.92 599.84 L244.48 600.17 L245.03 600.51 L245.58 600.87 L246.13 601.24 L246.67 601.62 L247.21 602.03 L247.74 602.44 L248.27 602.87 L248.8 603.31 L249.31 603.76 L249.83 604.23 L250.34 604.7 L250.84 605.18 L251.33 605.68 L251.82 606.18 L252.31 606.69 L252.79 607.21 L253.26 607.73 L253.72 608.26 L254.17 608.8 L254.62 609.34 L255.06 609.89 L255.5 610.44 L255.93 610.99 L256.35 611.56 L256.76 612.12 L257.17 612.69 L257.58 613.26 L257.97 613.84 L258.37 614.41 L258.76 615 L259.14 615.58 L259.52 616.17 L259.89 616.76 L260.27 617.35 L260.63 617.94 L261 618.53 L261.36 619.13 L261.72 619.73 L262.07 620.32 L262.43 620.92 L262.78 621.52 L263.13 622.12 L263.47 622.72 L263.82 623.31 L264.17 623.91 L264.51 624.51 L264.85 625.1 L265.2 625.7 L265.54 626.29 L265.88 626.88 L266.23 627.47 L266.57 628.06 L266.92 628.65 L267.26 629.23 L267.61 629.81 L267.96 630.38 L268.31 630.96 L268.66 631.53 L269.02 632.09 L269.38 632.65 L269.74 633.21 L270.1 633.76 L270.47 634.31 L270.84 634.86 L271.22 635.39 L271.6 635.93 L271.98 636.45 L272.37 636.98 L272.76 637.49 L273.16 638 L273.57 638.5 L273.98 639 L274.39 639.49 L274.81 639.97 L275.24 640.44 L275.68 640.91 L276.12 641.37 L276.57 641.82 L277.02 642.26 L277.49 642.69 L277.96 643.12 L278.44 643.53 L278.93 643.94 L279.43 644.34 L279.93 644.72 L280.45 645.1 L280.97 645.47 L281.51 645.82 L282.05 646.17 L282.6 646.5 L283.17 646.83 L283.75 647.14 L284.33 647.44 L284.93 647.73 L285.54 648 L286.16 648.27 L286.79 648.52 L287.44 648.76 L288.09 648.99 L288.76 649.2 L289.45 649.4 L290.14 649.58 L290.85 649.75 L291.58 649.91 L292.31 650.06" fill="none" stroke="#151515" stroke-width="1.5" stroke-linejoin="round" stroke-linecap="round"/>
<path d="M66.8 654.9 L85.4 643.9 L101.5 627.2 L101.93 626.69 L102.35 626.17 L102.77 625.66 L103.18 625.14 L103.59 624.61 L104 624.08 L104.4 623.55 L104.8 623.02 L105.2 622.48 L105.59 621.94 L105.98 621.4 L106.37 620.86 L106.76 620.31 L107.14 619.76 L107.52 619.21 L107.9 618.66 L108.28 618.11 L108.66 617.55 L109.03 616.99 L109.4 616.43 L109.77 615.87 L110.14 615.31 L110.51 614.75 L110.88 614.19 L111.25 613.62 L111.61 613.06 L111.98 612.49 L112.34 611.92 L112.71 611.36 L113.07 610.79 L113.44 610.23 L113.8 609.66 L114.17 609.09 L114.53 608.53 L114.9 607.96 L115.26 607.4 L115.63 606.83 L116 606.27 L116.37 605.71 L116.74 605.15 L117.11 604.59 L117.48 604.03 L117.86 603.47 L118.24 602.91 L118.62 602.36 L119 601.81 L119.38 601.26 L119.77 600.71 L120.15 600.16 L120.54 599.62 L120.94 599.08 L121.33 598.54 L121.73 598 L122.14 597.47 L122.54 596.94 L122.95 596.41 L123.36 595.89 L123.78 595.36 L124.2 594.85 L124.63 594.33 L125.05 593.82 L125.49 593.31 L125.92 592.81 L126.36 592.31 L126.81 591.81 L127.26 591.32 L127.71 590.83 L128.16 590.34 L128.62 589.86 L129.08 589.37 L129.54 588.89 L130.01 588.42 L130.48 587.94 L130.95 587.47 L131.43 587 L131.9 586.53 L132.38 586.06 L132.86 585.6 L133.35 585.14 L133.83 584.68 L134.32 584.22 L134.81 583.76 L135.3 583.31 L135.79 582.85 L136.29 582.4 L136.78 581.95 L137.28 581.5 L137.78 581.05 L138.28 580.6 L138.78 580.15 L139.28 579.7 L139.78 579.26 L140.28 578.81 L140.78 578.37 L141.28 577.92 L141.79 577.48 L142.29 577.03 L142.79 576.59 L143.29 576.14 L143.8 575.7 L144.3 575.25 L144.8 574.81 L145.3 574.36 L145.8 573.91 L146.3 573.47 L146.8 573.02 L147.3 572.57 L147.8 572.12 L148.29 571.67 L148.79 571.22 L149.28 570.76 L149.77 570.31 L150.26 569.85 L150.75 569.4 L151.23 568.94 L151.72 568.48 L152.2 568.02 L152.68 567.55 L153.16 567.09 L153.63 566.62 L154.11 566.15 L154.58 565.67 L155.04 565.2 L155.51 564.72 L155.97 564.24 L156.43 563.76 L156.88 563.27 L157.33 562.79 L157.78 562.3 L158.23 561.8 L158.67 561.3 L159.11 560.8 L159.54 560.3 L159.97 559.79 L160.4 559.28 L160.82 558.77 L161.24 558.26 L161.66 557.74 L162.08 557.22 L162.49 556.7 L162.9 556.18 L163.31 555.65 L163.72 555.12 L164.13 554.6 L164.53 554.06 L164.94 553.53 L165.34 553 L165.74 552.47 L166.14 551.93 L166.54 551.4 L166.94 550.86 L167.35 550.33 L167.75 549.79 L168.15 549.25 L168.55 548.72 L168.95 548.18 L169.35 547.64 L169.76 547.11 L170.16 546.57 L170.57 546.04 L170.98 545.5 L171.38 544.97 L171.8 544.44 L172.21 543.91 L172.63 543.38 L173.04 542.85 L173.47 542.33 L173.89 541.8 L174.32 541.28 L174.75 540.76 L175.18 540.25 L175.62 539.73 L176.06 539.22 L176.5 538.71 L176.95 538.2 L177.41 537.7 L177.87 537.2 L178.33 536.7 L178.8 536.2 L179.27 535.71 L179.75 535.23 L180.23 534.75 L180.72 534.27 L181.21 533.8 L181.71 533.34 L182.22 532.89 L182.73 532.44 L183.25 532.01 L183.77 531.58 L184.3 531.16 L184.84 530.76 L185.38 530.36 L185.93 529.98 L186.48 529.61 L187.04 529.25 L187.61 528.91 L188.19 528.58 L188.77 528.27 L189.36 527.97 L189.96 527.68 L190.57 527.42 L191.18 527.17 L191.8 526.94 L192.42 526.73 L193.05 526.53 L193.69 526.35 L194.33 526.19 L194.97 526.05 L195.61 525.93 L196.26 525.83 L196.9 525.74 L197.55 525.68 L198.19 525.63 L198.83 525.61 L199.47 525.6 L200.1 525.61 L200.74 525.64 L201.37 525.69 L201.99 525.76 L202.61 525.85 L203.23 525.95 L203.85 526.07 L204.46 526.21 L205.07 526.37 L205.68 526.54 L206.29 526.72 L206.89 526.92 L207.48 527.14 L208.08 527.37 L208.67 527.61 L209.25 527.87 L209.83 528.14 L210.41 528.43 L210.99 528.72 L211.56 529.03 L212.13 529.35 L212.7 529.68 L213.26 530.03 L213.81 530.38 L214.37 530.74 L214.92 531.12 L215.46 531.5 L216.01 531.89 L216.54 532.29 L217.08 532.7 L217.61 533.12 L218.14 533.54 L218.66 533.97 L219.18 534.41 L219.69 534.86 L220.2 535.31 L220.71 535.77 L221.21 536.24 L221.71 536.72 L222.2 537.2 L222.69 537.68 L223.17 538.17 L223.65 538.67 L224.13 539.18 L224.6 539.69 L225.07 540.2 L225.53 540.72 L225.99 541.24 L226.45 541.77 L226.9 542.31 L227.34 542.84 L227.78 543.39 L228.22 543.93 L228.65 544.48 L229.08 545.04 L229.5 545.59 L229.91 546.15 L230.33 546.72 L230.73 547.28 L231.14 547.85 L231.54 548.42 L231.93 549 L232.32 549.57 L232.7 550.15 L233.08 550.73 L233.45 551.31 L233.82 551.89 L234.18 552.47 L234.54 553.06 L234.89 553.64 L235.24 554.23 L235.58 554.82 L235.92 555.4 L236.25 555.99 L236.58 556.58 L236.9 557.17 L237.22 557.76 L237.54 558.35 L237.85 558.94 L238.15 559.53 L238.45 560.12 L238.75 560.71 L239.05 561.3 L239.34 561.9 L239.62 562.49 L239.91 563.08 L240.19 563.68 L240.46 564.27 L240.74 564.87 L241.01 565.46 L241.27 566.06 L241.54 566.66 L241.8 567.25 L242.06 567.85 L242.32 568.45 L242.57 569.05 L242.83 569.65 L243.08 570.25 L243.33 570.85 L243.57 571.45 L243.82 572.05 L244.06 572.65 L244.3 573.25 L244.54 573.86 L244.78 574.46 L245.02 575.06 L245.26 575.66 L245.5 576.27 L245.73 576.87 L245.97 577.48 L246.2 578.08 L246.44 578.69 L246.67 579.29 L246.9 579.9 L247.14 580.51 L247.37 581.11 L247.61 581.72 L247.84 582.33 L248.08 582.94 L248.31 583.55 L248.55 584.15 L248.78 584.76 L249.02 585.37 L249.26 585.98 L249.5 586.59 L249.74 587.2 L249.98 587.82 L250.22 588.43 L250.47 589.04 L250.72 589.65 L250.96 590.26 L251.22 590.87 L251.47 591.49 L251.72 592.1 L251.98 592.71 L252.24 593.33 L252.5 593.94 L252.77 594.56 L253.03 595.17 L253.3 595.79 L253.58 596.4 L253.85 597.02 L254.13 597.63 L254.41 598.25 L254.7 598.86 L254.99 599.48 L255.28 600.1 L255.57 600.71 L255.86 601.33 L256.16 601.95 L256.46 602.56 L256.76 603.18 L257.06 603.8 L257.36 604.42 L257.66 605.04 L257.97 605.65 L258.28 606.27 L258.58 606.89 L258.89 607.51 L259.2 608.13 L259.51 608.75 L259.82 609.37 L260.13 609.99 L260.44 610.61 L260.75 611.23 L261.05 611.85 L261.36 612.47 L261.67 613.09 L261.98 613.71 L262.28 614.33 L262.59 614.95 L262.89 615.58 L263.2 616.2 L263.5 616.82 L263.8 617.44 L264.1 618.06 L264.4 618.68 L264.69 619.3 L264.99 619.92 L265.28 620.54 L265.58 621.16 L265.87 621.78 L266.17 622.4 L266.46 623.01 L266.76 623.62 L267.06 624.23 L267.36 624.84 L267.66 625.45 L267.96 626.05 L268.26 626.65 L268.57 627.25 L268.88 627.84 L269.19 628.43 L269.5 629.02 L269.82 629.6 L270.14 630.18 L270.47 630.76 L270.8 631.33 L271.13 631.89 L271.47 632.45 L271.81 633.01 L272.16 633.56 L272.51 634.1 L272.87 634.64 L273.23 635.17 L273.6 635.7 L273.98 636.22 L274.36 636.73 L274.75 637.24 L275.15 637.74 L275.56 638.23 L275.97 638.72 L276.39 639.19 L276.82 639.66 L277.25 640.12 L277.7 640.58 L278.15 641.02 L278.61 641.46 L279.09 641.88 L279.57 642.3 L280.06 642.71 L280.56 643.11 L281.07 643.5 L281.6 643.87 L282.13 644.24 L282.68 644.6 L283.23 644.95 L283.8 645.29 L284.38 645.61 L284.97 645.93 L285.58 646.23 L286.19 646.52 L286.82 646.8 L287.47 647.07 L288.12 647.32 L288.79 647.57 L289.48 647.8 L290.18 648.02 L290.89 648.22 L291.62 648.41 L292.36 648.59" fill="none" stroke="#e53a2a" stroke-width="1.5" stroke-linejoin="round" stroke-linecap="round"/>
<path d="M66.8 648.3 L85.4 630.8 L94.9 615.2 L95.27 614.66 L95.63 614.12 L95.99 613.58 L96.35 613.03 L96.71 612.48 L97.06 611.93 L97.42 611.38 L97.77 610.82 L98.12 610.26 L98.46 609.7 L98.8 609.14 L99.14 608.57 L99.48 608 L99.82 607.43 L100.15 606.86 L100.49 606.29 L100.82 605.71 L101.14 605.13 L101.47 604.55 L101.79 603.97 L102.11 603.38 L102.43 602.79 L102.75 602.21 L103.06 601.61 L103.38 601.02 L103.69 600.43 L103.99 599.83 L104.3 599.23 L104.6 598.63 L104.91 598.03 L105.21 597.43 L105.5 596.82 L105.8 596.22 L106.09 595.61 L106.39 595 L106.68 594.39 L106.96 593.78 L107.25 593.17 L107.54 592.55 L107.82 591.94 L108.1 591.32 L108.38 590.7 L108.65 590.08 L108.93 589.46 L109.2 588.84 L109.47 588.22 L109.74 587.59 L110.01 586.97 L110.28 586.34 L110.54 585.72 L110.8 585.09 L111.06 584.46 L111.32 583.84 L111.58 583.21 L111.83 582.58 L112.09 581.95 L112.34 581.31 L112.59 580.68 L112.84 580.05 L113.09 579.42 L113.33 578.78 L113.58 578.15 L113.82 577.52 L114.06 576.88 L114.3 576.25 L114.54 575.61 L114.77 574.98 L115.01 574.34 L115.24 573.71 L115.47 573.07 L115.7 572.44 L115.93 571.8 L116.16 571.16 L116.39 570.53 L116.62 569.89 L116.84 569.26 L117.07 568.62 L117.3 567.99 L117.52 567.35 L117.75 566.72 L117.97 566.09 L118.19 565.45 L118.42 564.82 L118.64 564.19 L118.87 563.55 L119.09 562.92 L119.32 562.29 L119.54 561.66 L119.77 561.03 L120 560.4 L120.22 559.77 L120.45 559.14 L120.68 558.52 L120.91 557.89 L121.14 557.26 L121.37 556.64 L121.6 556.02 L121.84 555.39 L122.07 554.77 L122.31 554.15 L122.55 553.53 L122.78 552.91 L123.03 552.3 L123.27 551.68 L123.51 551.07 L123.76 550.45 L124.01 549.84 L124.26 549.23 L124.51 548.62 L124.77 548.01 L125.03 547.41 L125.29 546.8 L125.55 546.2 L125.82 545.6 L126.09 545 L126.36 544.4 L126.63 543.8 L126.91 543.21 L127.19 542.62 L127.47 542.02 L127.76 541.44 L128.05 540.85 L128.34 540.26 L128.64 539.68 L128.94 539.1 L129.24 538.52 L129.55 537.94 L129.86 537.37 L130.18 536.79 L130.5 536.22 L130.83 535.65 L131.15 535.09 L131.49 534.52 L131.82 533.96 L132.17 533.4 L132.51 532.85 L132.86 532.29 L133.22 531.74 L133.58 531.19 L133.94 530.65 L134.32 530.1 L134.69 529.56 L135.07 529.02 L135.46 528.49 L135.85 527.95 L136.25 527.42 L136.65 526.9 L137.06 526.37 L137.47 525.85 L137.89 525.33 L138.32 524.82 L138.75 524.31 L139.19 523.8 L139.63 523.29 L140.08 522.79 L140.53 522.29 L140.99 521.8 L141.45 521.3 L141.92 520.82 L142.4 520.33 L142.88 519.85 L143.37 519.38 L143.86 518.9 L144.35 518.44 L144.85 517.97 L145.35 517.51 L145.86 517.06 L146.38 516.61 L146.89 516.16 L147.42 515.72 L147.94 515.28 L148.47 514.85 L149.01 514.42 L149.54 514 L150.09 513.59 L150.63 513.17 L151.18 512.77 L151.74 512.37 L152.29 511.97 L152.85 511.58 L153.42 511.19 L153.98 510.81 L154.55 510.44 L155.13 510.07 L155.7 509.7 L156.28 509.34 L156.86 508.99 L157.45 508.64 L158.04 508.29 L158.63 507.95 L159.22 507.62 L159.81 507.28 L160.41 506.96 L161.01 506.63 L161.61 506.32 L162.22 506 L162.82 505.69 L163.43 505.39 L164.04 505.08 L164.65 504.79 L165.26 504.49 L165.88 504.2 L166.49 503.92 L167.11 503.64 L167.73 503.36 L168.35 503.09 L168.97 502.82 L169.59 502.56 L170.22 502.3 L170.84 502.06 L171.46 501.82 L172.09 501.59 L172.72 501.38 L173.34 501.17 L173.97 500.98 L174.6 500.81 L175.22 500.64 L175.85 500.49 L176.48 500.36 L177.11 500.25 L177.74 500.15 L178.36 500.08 L178.99 500.02 L179.62 499.98 L180.25 499.97 L180.87 499.97 L181.5 500 L182.12 500.05 L182.75 500.12 L183.37 500.2 L184 500.3 L184.62 500.42 L185.24 500.55 L185.86 500.69 L186.48 500.84 L187.09 501 L187.71 501.16 L188.32 501.34 L188.94 501.53 L189.55 501.72 L190.16 501.92 L190.77 502.13 L191.37 502.35 L191.98 502.57 L192.58 502.81 L193.18 503.05 L193.78 503.3 L194.38 503.56 L194.97 503.82 L195.57 504.09 L196.16 504.37 L196.75 504.66 L197.34 504.95 L197.92 505.25 L198.51 505.56 L199.09 505.88 L199.67 506.2 L200.25 506.53 L200.82 506.86 L201.39 507.21 L201.96 507.55 L202.53 507.91 L203.1 508.27 L203.66 508.64 L204.22 509.01 L204.78 509.39 L205.33 509.78 L205.88 510.17 L206.43 510.56 L206.98 510.97 L207.52 511.37 L208.07 511.79 L208.6 512.21 L209.14 512.63 L209.67 513.06 L210.2 513.49 L210.73 513.93 L211.25 514.38 L211.77 514.83 L212.29 515.28 L212.8 515.74 L213.31 516.2 L213.82 516.67 L214.32 517.14 L214.82 517.61 L215.32 518.09 L215.81 518.58 L216.3 519.06 L216.79 519.55 L217.27 520.05 L217.75 520.55 L218.23 521.05 L218.7 521.56 L219.17 522.07 L219.63 522.58 L220.09 523.09 L220.55 523.61 L221 524.13 L221.45 524.66 L221.9 525.19 L222.34 525.72 L222.77 526.25 L223.21 526.79 L223.63 527.32 L224.06 527.86 L224.48 528.41 L224.89 528.95 L225.3 529.5 L225.71 530.05 L226.11 530.6 L226.51 531.15 L226.9 531.7 L227.29 532.26 L227.68 532.81 L228.06 533.37 L228.43 533.93 L228.8 534.49 L229.17 535.06 L229.53 535.62 L229.88 536.18 L230.23 536.75 L230.58 537.32 L230.92 537.88 L231.26 538.45 L231.6 539.02 L231.93 539.59 L232.25 540.16 L232.58 540.74 L232.89 541.31 L233.21 541.88 L233.52 542.46 L233.83 543.04 L234.13 543.61 L234.44 544.19 L234.74 544.77 L235.03 545.35 L235.32 545.93 L235.61 546.51 L235.9 547.1 L236.19 547.68 L236.47 548.27 L236.75 548.85 L237.03 549.44 L237.3 550.03 L237.58 550.61 L237.85 551.2 L238.12 551.79 L238.39 552.38 L238.65 552.97 L238.92 553.57 L239.18 554.16 L239.44 554.75 L239.71 555.35 L239.97 555.94 L240.22 556.54 L240.48 557.14 L240.74 557.74 L241 558.33 L241.25 558.93 L241.51 559.53 L241.76 560.13 L242.02 560.74 L242.27 561.34 L242.53 561.94 L242.78 562.54 L243.04 563.15 L243.29 563.75 L243.55 564.36 L243.8 564.97 L244.06 565.57 L244.32 566.18 L244.58 566.79 L244.84 567.4 L245.1 568.01 L245.36 568.62 L245.62 569.23 L245.88 569.84 L246.14 570.45 L246.4 571.06 L246.67 571.67 L246.93 572.29 L247.2 572.9 L247.46 573.52 L247.73 574.13 L247.99 574.75 L248.26 575.36 L248.53 575.98 L248.8 576.6 L249.06 577.21 L249.33 577.83 L249.6 578.45 L249.87 579.07 L250.14 579.69 L250.41 580.31 L250.68 580.93 L250.95 581.55 L251.22 582.17 L251.49 582.79 L251.76 583.41 L252.04 584.04 L252.31 584.66 L252.58 585.28 L252.85 585.9 L253.12 586.53 L253.39 587.15 L253.66 587.78 L253.94 588.4 L254.21 589.03 L254.48 589.65 L254.75 590.28 L255.02 590.9 L255.29 591.53 L255.57 592.16 L255.84 592.78 L256.11 593.41 L256.38 594.04 L256.65 594.67 L256.92 595.29 L257.19 595.92 L257.46 596.55 L257.73 597.18 L258 597.81 L258.27 598.44 L258.53 599.07 L258.8 599.69 L259.07 600.32 L259.34 600.95 L259.6 601.58 L259.87 602.21 L260.13 602.84 L260.4 603.47 L260.66 604.1 L260.93 604.73 L261.19 605.37 L261.45 606 L261.71 606.63 L261.98 607.26 L262.24 607.89 L262.5 608.52 L262.75 609.15 L263.01 609.78 L263.27 610.41 L263.53 611.04 L263.78 611.67 L264.04 612.31 L264.29 612.94 L264.55 613.57 L264.8 614.2 L265.05 614.83 L265.31 615.46 L265.56 616.08 L265.82 616.71 L266.07 617.34 L266.33 617.96 L266.58 618.59 L266.84 619.21 L267.1 619.83 L267.36 620.45 L267.63 621.06 L267.89 621.68 L268.16 622.29 L268.43 622.9 L268.7 623.51 L268.98 624.12 L269.25 624.72 L269.53 625.32 L269.82 625.92 L270.11 626.51 L270.4 627.1 L270.69 627.69 L270.99 628.27 L271.29 628.85 L271.6 629.43 L271.91 630 L272.23 630.57 L272.55 631.14 L272.88 631.7 L273.21 632.25 L273.55 632.81 L273.89 633.35 L274.24 633.89 L274.6 634.43 L274.96 634.96 L275.33 635.49 L275.7 636.01 L276.08 636.53 L276.47 637.04 L276.87 637.54 L277.27 638.04 L277.68 638.54 L278.1 639.02 L278.53 639.5 L278.96 639.98 L279.4 640.44 L279.85 640.91 L280.31 641.36 L280.78 641.81 L281.26 642.25 L281.75 642.68 L282.24 643.11 L282.75 643.52 L283.26 643.93 L283.79 644.34 L284.32 644.73 L284.87 645.12 L285.43 645.5 L285.99 645.87 L286.57 646.23 L287.16 646.59 L287.76 646.93 L288.37 647.27 L289 647.6 L289.63 647.91 L290.28 648.22 L290.94 648.52 L291.61 648.81 L292.29 649.09" fill="none" stroke="#2b2bf5" stroke-width="1.5" stroke-linejoin="round" stroke-linecap="round"/>
<path d="M59.1 636.3 L82.1 627.1 L92.7 616.3 L93.08 615.75 L93.46 615.2 L93.83 614.64 L94.2 614.09 L94.57 613.53 L94.93 612.97 L95.29 612.41 L95.65 611.84 L96 611.27 L96.35 610.71 L96.7 610.14 L97.04 609.56 L97.38 608.99 L97.72 608.41 L98.06 607.83 L98.39 607.25 L98.72 606.67 L99.04 606.09 L99.37 605.5 L99.69 604.92 L100 604.33 L100.32 603.74 L100.63 603.15 L100.94 602.55 L101.25 601.96 L101.55 601.36 L101.86 600.77 L102.16 600.17 L102.45 599.57 L102.75 598.97 L103.04 598.36 L103.33 597.76 L103.62 597.15 L103.9 596.55 L104.18 595.94 L104.46 595.33 L104.74 594.72 L105.02 594.11 L105.29 593.5 L105.57 592.89 L105.84 592.27 L106.1 591.66 L106.37 591.04 L106.63 590.43 L106.9 589.81 L107.16 589.19 L107.42 588.57 L107.67 587.95 L107.93 587.33 L108.18 586.71 L108.43 586.09 L108.68 585.47 L108.93 584.84 L109.18 584.22 L109.42 583.6 L109.67 582.97 L109.91 582.35 L110.15 581.72 L110.39 581.1 L110.63 580.47 L110.86 579.85 L111.1 579.22 L111.33 578.59 L111.57 577.97 L111.8 577.34 L112.03 576.71 L112.26 576.08 L112.49 575.46 L112.72 574.83 L112.94 574.2 L113.17 573.58 L113.39 572.95 L113.62 572.32 L113.84 571.69 L114.06 571.07 L114.28 570.44 L114.5 569.82 L114.72 569.19 L114.94 568.56 L115.16 567.94 L115.38 567.31 L115.6 566.69 L115.82 566.06 L116.03 565.43 L116.25 564.81 L116.46 564.18 L116.68 563.56 L116.89 562.93 L117.11 562.31 L117.32 561.68 L117.53 561.06 L117.75 560.44 L117.96 559.81 L118.17 559.19 L118.38 558.56 L118.6 557.94 L118.81 557.31 L119.02 556.69 L119.23 556.06 L119.44 555.44 L119.65 554.81 L119.86 554.19 L120.07 553.56 L120.29 552.94 L120.5 552.31 L120.71 551.69 L120.92 551.06 L121.13 550.44 L121.34 549.81 L121.55 549.19 L121.77 548.56 L121.98 547.93 L122.19 547.31 L122.4 546.68 L122.62 546.06 L122.83 545.43 L123.04 544.8 L123.26 544.18 L123.47 543.55 L123.69 542.92 L123.9 542.29 L124.12 541.67 L124.34 541.04 L124.55 540.41 L124.77 539.78 L124.99 539.15 L125.21 538.52 L125.43 537.89 L125.65 537.26 L125.87 536.63 L126.09 536 L126.31 535.37 L126.54 534.74 L126.76 534.11 L126.98 533.48 L127.21 532.84 L127.44 532.21 L127.66 531.58 L127.89 530.94 L128.12 530.31 L128.35 529.67 L128.59 529.04 L128.82 528.4 L129.05 527.77 L129.29 527.13 L129.52 526.5 L129.76 525.86 L130 525.22 L130.24 524.58 L130.48 523.94 L130.72 523.3 L130.97 522.66 L131.21 522.02 L131.46 521.38 L131.71 520.74 L131.96 520.1 L132.21 519.46 L132.46 518.82 L132.72 518.18 L132.98 517.55 L133.24 516.91 L133.5 516.27 L133.77 515.64 L134.04 515.01 L134.31 514.38 L134.59 513.75 L134.87 513.12 L135.15 512.5 L135.44 511.88 L135.73 511.26 L136.03 510.64 L136.33 510.03 L136.63 509.42 L136.94 508.82 L137.25 508.21 L137.56 507.62 L137.88 507.02 L138.21 506.43 L138.54 505.85 L138.88 505.27 L139.22 504.69 L139.57 504.12 L139.92 503.56 L140.28 503 L140.64 502.45 L141.01 501.9 L141.39 501.36 L141.77 500.82 L142.16 500.29 L142.56 499.77 L142.96 499.25 L143.37 498.74 L143.79 498.24 L144.21 497.75 L144.64 497.26 L145.08 496.78 L145.53 496.31 L145.98 495.85 L146.44 495.39 L146.91 494.95 L147.39 494.51 L147.87 494.08 L148.36 493.65 L148.86 493.24 L149.36 492.83 L149.87 492.44 L150.39 492.05 L150.91 491.67 L151.44 491.3 L151.98 490.93 L152.52 490.58 L153.07 490.23 L153.63 489.89 L154.19 489.56 L154.76 489.24 L155.33 488.93 L155.91 488.63 L156.5 488.33 L157.09 488.05 L157.69 487.77 L158.29 487.51 L158.9 487.25 L159.51 487 L160.13 486.76 L160.75 486.53 L161.38 486.31 L162.01 486.09 L162.65 485.89 L163.29 485.7 L163.94 485.51 L164.59 485.34 L165.25 485.17 L165.91 485.02 L166.57 484.87 L167.24 484.74 L167.92 484.61 L168.59 484.49 L169.27 484.39 L169.96 484.29 L170.64 484.2 L171.33 484.12 L172.02 484.05 L172.71 484 L173.4 483.95 L174.09 483.91 L174.78 483.88 L175.48 483.87 L176.17 483.86 L176.86 483.86 L177.55 483.87 L178.24 483.9 L178.92 483.93 L179.61 483.97 L180.29 484.03 L180.97 484.09 L181.64 484.17 L182.31 484.26 L182.98 484.35 L183.64 484.46 L184.3 484.58 L184.95 484.71 L185.6 484.85 L186.24 485 L186.88 485.16 L187.51 485.33 L188.14 485.51 L188.76 485.7 L189.38 485.9 L189.99 486.11 L190.59 486.33 L191.2 486.56 L191.79 486.8 L192.38 487.05 L192.97 487.31 L193.55 487.58 L194.13 487.85 L194.7 488.14 L195.27 488.43 L195.84 488.73 L196.4 489.04 L196.95 489.36 L197.5 489.69 L198.05 490.03 L198.59 490.37 L199.13 490.72 L199.66 491.08 L200.19 491.44 L200.71 491.82 L201.23 492.2 L201.75 492.59 L202.26 492.98 L202.77 493.38 L203.27 493.79 L203.77 494.21 L204.27 494.63 L204.76 495.06 L205.25 495.49 L205.73 495.94 L206.21 496.38 L206.69 496.84 L207.16 497.29 L207.63 497.76 L208.1 498.23 L208.56 498.71 L209.02 499.19 L209.48 499.67 L209.93 500.16 L210.38 500.66 L210.82 501.16 L211.26 501.66 L211.7 502.17 L212.14 502.69 L212.57 503.21 L213 503.73 L213.43 504.26 L213.85 504.79 L214.27 505.32 L214.69 505.86 L215.1 506.4 L215.51 506.95 L215.92 507.5 L216.33 508.05 L216.73 508.6 L217.13 509.16 L217.53 509.72 L217.93 510.28 L218.32 510.85 L218.71 511.42 L219.1 511.99 L219.48 512.56 L219.86 513.13 L220.24 513.71 L220.62 514.29 L221 514.87 L221.37 515.45 L221.74 516.03 L222.11 516.62 L222.48 517.2 L222.84 517.79 L223.21 518.38 L223.57 518.96 L223.93 519.55 L224.28 520.14 L224.64 520.73 L224.99 521.32 L225.34 521.91 L225.69 522.5 L226.04 523.09 L226.39 523.68 L226.73 524.27 L227.07 524.86 L227.41 525.45 L227.75 526.04 L228.09 526.63 L228.43 527.22 L228.76 527.81 L229.1 528.4 L229.43 528.99 L229.76 529.58 L230.08 530.17 L230.41 530.75 L230.74 531.34 L231.06 531.93 L231.38 532.52 L231.7 533.11 L232.02 533.71 L232.34 534.3 L232.65 534.89 L232.97 535.48 L233.28 536.07 L233.59 536.66 L233.9 537.25 L234.21 537.84 L234.51 538.43 L234.82 539.02 L235.12 539.61 L235.42 540.21 L235.72 540.8 L236.02 541.39 L236.32 541.98 L236.62 542.57 L236.91 543.17 L237.21 543.76 L237.5 544.35 L237.79 544.95 L238.08 545.54 L238.37 546.14 L238.65 546.73 L238.94 547.32 L239.22 547.92 L239.51 548.51 L239.79 549.11 L240.07 549.71 L240.35 550.3 L240.62 550.9 L240.9 551.49 L241.17 552.09 L241.45 552.69 L241.72 553.29 L241.99 553.88 L242.26 554.48 L242.53 555.08 L242.8 555.68 L243.06 556.28 L243.33 556.88 L243.59 557.48 L243.86 558.08 L244.12 558.68 L244.38 559.29 L244.64 559.89 L244.9 560.49 L245.15 561.09 L245.41 561.7 L245.66 562.3 L245.92 562.91 L246.17 563.51 L246.42 564.12 L246.67 564.72 L246.92 565.33 L247.17 565.94 L247.42 566.54 L247.66 567.15 L247.91 567.76 L248.15 568.37 L248.4 568.98 L248.64 569.59 L248.88 570.2 L249.12 570.81 L249.36 571.42 L249.6 572.04 L249.83 572.65 L250.07 573.26 L250.31 573.88 L250.54 574.49 L250.77 575.11 L251.01 575.73 L251.24 576.34 L251.47 576.96 L251.7 577.58 L251.93 578.2 L252.16 578.82 L252.38 579.44 L252.61 580.06 L252.84 580.68 L253.06 581.31 L253.29 581.93 L253.51 582.55 L253.73 583.18 L253.95 583.8 L254.17 584.43 L254.39 585.06 L254.61 585.69 L254.83 586.32 L255.05 586.95 L255.27 587.58 L255.48 588.21 L255.7 588.84 L255.91 589.47 L256.13 590.11 L256.34 590.74 L256.56 591.38 L256.77 592.01 L256.98 592.65 L257.19 593.29 L257.4 593.93 L257.61 594.57 L257.82 595.21 L258.03 595.85 L258.24 596.49 L258.44 597.13 L258.65 597.78 L258.86 598.42 L259.06 599.07 L259.27 599.72 L259.47 600.36 L259.68 601.01 L259.88 601.66 L260.08 602.32 L260.28 602.97 L260.49 603.62 L260.69 604.27 L260.89 604.93 L261.09 605.58 L261.29 606.24 L261.5 606.89 L261.7 607.55 L261.9 608.2 L262.1 608.86 L262.3 609.52 L262.51 610.17 L262.71 610.83 L262.92 611.49 L263.12 612.14 L263.33 612.8 L263.54 613.45 L263.75 614.11 L263.95 614.76 L264.17 615.41 L264.38 616.07 L264.59 616.72 L264.81 617.37 L265.02 618.02 L265.24 618.67 L265.46 619.32 L265.68 619.97 L265.9 620.61 L266.13 621.26 L266.36 621.9 L266.58 622.54 L266.82 623.18 L267.05 623.82 L267.29 624.46 L267.52 625.09 L267.76 625.72 L268.01 626.35 L268.25 626.98 L268.5 627.61 L268.76 628.24 L269.01 628.86 L269.27 629.48 L269.53 630.1 L269.79 630.71 L270.06 631.32 L270.33 631.93 L270.6 632.54 L270.88 633.15 L271.16 633.75 L271.45 634.35 L271.74 634.94 L272.03 635.54 L272.33 636.13 L272.63 636.71 L272.93 637.29 L273.24 637.87 L273.55 638.45 L273.87 639.02 L274.19 639.59 L274.52 640.16 L274.85 640.72 L275.18 641.27 L275.52 641.83 L275.87 642.38 L276.22 642.92 L276.57 643.46 L276.93 644 L277.3 644.53 L277.67 645.06 L278.05 645.58 L278.43 646.1 L278.81 646.61 L279.21 647.12 L279.61 647.63 L280.01 648.13 L280.42 648.62 L280.84 649.11 L281.27 649.59 L281.7 650.06 L282.15 650.52 L282.61 650.97 L283.08 651.42 L283.56 651.85 L284.05 652.27 L284.57 652.67 L285.09 653.06 L285.63 653.44 L286.19 653.81 L286.77 654.15 L287.37 654.48 L287.98 654.8 L288.62 655.09 L289.27 655.37 L289.95 655.62 L290.66 655.86 L291.38 656.07 L292.14 656.26" fill="none" stroke="#44a044" stroke-width="1.5" stroke-linejoin="round" stroke-linecap="round"/>
<rect x="45.7" y="471.4" width="246.5" height="191.0" fill="none" stroke="#1a1a1a" stroke-width="1.25"/>
<line x1="43.4" y1="662.4" x2="45.7" y2="662.4" stroke="#1a1a1a" stroke-width="0.9"/>
<line x1="43.4" y1="598.73" x2="45.7" y2="598.73" stroke="#1a1a1a" stroke-width="0.9"/>
<line x1="43.4" y1="535.07" x2="45.7" y2="535.07" stroke="#1a1a1a" stroke-width="0.9"/>
<line x1="43.4" y1="471.4" x2="45.7" y2="471.4" stroke="#1a1a1a" stroke-width="0.9"/>
<line x1="90.8" y1="662.4" x2="90.8" y2="665" stroke="#1a1a1a" stroke-width="0.9"/>
<line x1="136" y1="662.4" x2="136" y2="665" stroke="#1a1a1a" stroke-width="0.9"/>
<line x1="181" y1="662.4" x2="181" y2="665" stroke="#1a1a1a" stroke-width="0.9"/>
<line x1="225.9" y1="662.4" x2="225.9" y2="665" stroke="#1a1a1a" stroke-width="0.9"/>
<line x1="270.7" y1="662.4" x2="270.7" y2="665" stroke="#1a1a1a" stroke-width="0.9"/>
<text x="37.4" y="475.2" font-size="10.75" fill="#2b2b2b" text-anchor="end" textLength="15" lengthAdjust="spacingAndGlyphs" stroke="#2b2b2b" stroke-width="0.08">0.6</text>
<text x="37.4" y="539" font-size="10.75" fill="#2b2b2b" text-anchor="end" textLength="15" lengthAdjust="spacingAndGlyphs" stroke="#2b2b2b" stroke-width="0.08">0.4</text>
<text x="37.4" y="602.5" font-size="10.75" fill="#2b2b2b" text-anchor="end" textLength="15" lengthAdjust="spacingAndGlyphs" stroke="#2b2b2b" stroke-width="0.08">0.2</text>
<text x="37.4" y="666" font-size="10.75" fill="#2b2b2b" text-anchor="end" textLength="6" lengthAdjust="spacingAndGlyphs" stroke="#2b2b2b" stroke-width="0.08">0</text>
<text x="88.5" y="677.8" font-size="10.3" fill="#2b2b2b" text-anchor="middle" textLength="19.2" lengthAdjust="spacingAndGlyphs" stroke="#2b2b2b" stroke-width="0.08">0.01</text>
<text x="135" y="677.8" font-size="10.3" fill="#2b2b2b" text-anchor="middle" textLength="13.2" lengthAdjust="spacingAndGlyphs" stroke="#2b2b2b" stroke-width="0.08">0.1</text>
<text x="178.8" y="677.8" font-size="10.3" fill="#2b2b2b" text-anchor="middle" stroke="#2b2b2b" stroke-width="0.08">1</text>
<text x="230.6" y="677.8" font-size="10.3" fill="#2b2b2b" text-anchor="middle" textLength="10.9" lengthAdjust="spacingAndGlyphs" stroke="#2b2b2b" stroke-width="0.08">10</text>
<text x="273.2" y="677.8" font-size="10.3" fill="#2b2b2b" text-anchor="middle" textLength="16.3" lengthAdjust="spacingAndGlyphs" stroke="#2b2b2b" stroke-width="0.08">100</text>
<text x="177.9" y="695.3" font-size="12.1" fill="#2b2b2b" text-anchor="middle" textLength="102.4" lengthAdjust="spacingAndGlyphs" stroke="#2b2b2b" stroke-width="0.08">Incubation time (s)</text>
<text transform="translate(11.6 571) rotate(-90)" font-size="11.8" fill="#2b2b2b" font-style="italic" stroke="#2b2b2b" stroke-width="0.08">A<tspan font-size="8.8" font-style="normal" dy="3.8">614</tspan></text>
<text x="110" y="495" font-size="10.08" fill="#3d913d" text-anchor="end" textLength="51.2" lengthAdjust="spacingAndGlyphs" stroke="#3d913d" stroke-width="0.08">40 mM Val</text>
<text x="110" y="509.2" font-size="10.08" fill="#2f2ff5" text-anchor="end" textLength="50.6" lengthAdjust="spacingAndGlyphs" stroke="#2f2ff5" stroke-width="0.08">20 mM Val</text>
<text x="110" y="523.8" font-size="10.08" fill="#d8302c" text-anchor="end" textLength="49" lengthAdjust="spacingAndGlyphs" stroke="#d8302c" stroke-width="0.08">10 mM Val</text>
<text x="110" y="537.8" font-size="10.08" fill="#222" text-anchor="end" textLength="42.2" lengthAdjust="spacingAndGlyphs" stroke="#222" stroke-width="0.08">1 mM Val</text>
<text x="2.6" y="477.3" font-size="18" fill="#000" text-anchor="start" font-weight="bold">c</text>
<path d="M369 38.27v3.1M369.59 38.26v3.1M370.18 39.04v3.1M370.77 38.51v3.1M371.36 39.79v3.1M371.95 39.24v3.1M372.55 39.48v3.1M373.14 39v3.1M373.73 38.56v3.1M374.32 38.19v3.1M374.91 38.63v3.1M375.5 38.14v3.1M376.09 38.31v3.1M376.68 37.75v3.1M377.27 36.27v3.1M377.86 37.25v3.1M378.46 36.28v3.1M379.05 37.24v3.1M379.64 37.87v3.1M380.23 36.64v3.1M380.82 38.35v3.1M381.41 38.18v3.1M382 37.74v3.1M382.59 37.54v3.1M383.18 37.66v3.1M383.77 37.2v3.1M384.37 37.68v3.1M384.96 37.51v3.1M385.55 38.05v3.1M386.14 37.2v3.1M386.73 38.78v3.1M387.32 38.75v3.1M387.91 38.66v3.1M388.5 38.49v3.1M389.09 39.12v3.1M389.68 37.27v3.1M390.28 38.86v3.1M390.87 38.67v3.1M391.46 38.61v3.1M392.05 38.85v3.1M392.64 38.17v3.1M393.23 38.33v3.1M393.82 39.37v3.1M394.41 39.33v3.1M395 39.14v3.1M395.59 38.01v3.1M396.19 39.45v3.1M396.78 39.67v3.1M397.37 39.55v3.1M397.96 38.86v3.1M398.55 37.5v3.1M399.14 39.8v3.1M399.73 38.93v3.1M400.32 37.07v3.1M400.91 39.34v3.1M401.5 37.51v3.1M402.1 37.41v3.1M402.69 37.59v3.1M403.28 38.9v3.1M403.87 37.55v3.1M404.46 38.29v3.1M405.05 39.7v3.1M405.64 39.72v3.1M406.23 38.42v3.1M406.82 37.88v3.1M407.41 36.77v3.1M408.01 37.05v3.1M408.6 37.85v3.1M409.19 38.25v3.1M409.78 38.39v3.1M410.37 39.38v3.1M410.96 38.05v3.1M411.55 38.54v3.1M412.14 39.07v3.1M412.73 38.88v3.1M413.32 39.39v3.1M413.92 38.75v3.1M414.51 38.11v3.1M415.1 38.5v3.1M415.69 37.17v3.1M416.28 36.54v3.1M416.87 38.3v3.1M417.46 38.01v3.1M418.05 38.55v3.1M418.64 37.32v3.1M419.23 38.51v3.1M419.83 38.32v3.1M420.42 38.1v3.1M421.01 36.88v3.1M421.6 38.36v3.1M422.19 39.19v3.1M422.78 38.47v3.1M423.37 37.14v3.1M423.96 37.25v3.1M424.55 37.45v3.1M425.14 34.55v3.1M425.74 37.19v3.1M426.33 38.12v3.1M426.92 38.76v3.1M427.51 39.95v3.1M428.1 39.32v3.1M428.69 38.59v3.1M429.28 38.53v3.1M429.87 38.91v3.1M430.46 38v3.1M431.05 38.41v3.1M431.65 39.15v3.1M432.24 39.88v3.1M432.83 37.92v3.1M433.42 37.94v3.1M434.01 37.99v3.1M434.6 38.9v3.1M435.19 38.06v3.1M435.78 39.38v3.1M436.37 37.65v3.1M436.96 38.31v3.1M437.56 38.02v3.1M438.15 38.44v3.1M438.74 38.33v3.1M439.33 35.9v3.1M439.92 36.44v3.1M440.51 37.56v3.1M441.1 36.84v3.1M441.69 36.52v3.1M442.28 38.67v3.1M442.87 38.57v3.1M443.47 38.66v3.1M444.06 38.05v3.1M444.65 39.49v3.1M445.24 38.52v3.1M445.83 39.96v3.1M446.42 38.41v3.1M447.01 38.23v3.1M447.6 38.97v3.1M448.19 38.01v3.1M448.78 39.01v3.1M449.38 38.82v3.1M449.97 37.75v3.1M450.56 38.38v3.1M451.15 37.99v3.1M451.74 38.99v3.1M452.33 38.04v3.1M452.92 38.67v3.1M453.51 40.17v3.1M454.1 41.1v3.1M454.69 40.74v3.1M455.29 38.9v3.1M455.88 38.95v3.1M456.47 39.94v3.1M457.06 38.62v3.1M457.65 37.88v3.1M458.24 38.84v3.1M458.83 39.17v3.1M459.42 38.31v3.1M460.01 38v3.1M460.6 38.3v3.1M461.2 40.09v3.1M461.79 39.1v3.1M462.38 39.56v3.1M462.97 39.55v3.1M463.56 39.85v3.1M464.15 39.01v3.1M464.74 39.75v3.1M465.33 39.09v3.1M465.92 39.75v3.1M466.51 39.4v3.1M467.11 41.22v3.1M467.7 40.27v3.1M468.29 39.56v3.1M468.88 39.94v3.1M469.47 40.12v3.1M470.06 41.08v3.1M470.65 39.74v3.1M471.24 40.36v3.1M471.83 41.1v3.1M472.42 43.55v3.1M473.02 42.28v3.1M473.61 41.62v3.1M474.2 42.52v3.1M474.79 43.87v3.1M475.38 42.43v3.1M475.97 42.75v3.1M476.56 44.35v3.1M477.15 43.84v3.1M477.74 44v3.1M478.33 43.08v3.1M478.93 45.17v3.1M479.52 45.55v3.1M480.11 45.17v3.1M480.7 45.75v3.1M481.29 44.15v3.1M481.88 46.6v3.1M482.47 46.36v3.1M483.06 47.13v3.1M483.65 47.53v3.1M484.24 47.12v3.1M484.84 46.35v3.1M485.43 48.82v3.1M486.02 48.85v3.1M486.61 49.9v3.1M487.2 50.27v3.1M487.79 50.74v3.1M488.38 49.19v3.1M488.97 52.34v3.1M489.56 52.42v3.1M490.15 53.89v3.1M509.66 119.95v3.1M510.25 118.95v3.1M510.84 118.97v3.1M511.43 119.3v3.1M512.02 118.45v3.1M532.12 52v3.1M532.71 52.65v3.1M533.3 51.15v3.1M533.89 49.59v3.1M534.48 51.44v3.1M535.07 50.3v3.1M535.66 50.04v3.1M536.25 49.05v3.1M536.84 48.57v3.1M537.43 47.53v3.1M538.03 48.14v3.1M538.62 47.56v3.1M539.21 47.5v3.1M539.8 47.3v3.1M540.39 45.39v3.1M540.98 45.73v3.1M541.57 45.1v3.1M542.16 45.13v3.1M542.75 43.74v3.1M543.34 46.09v3.1M543.94 44.79v3.1M544.53 43.37v3.1M545.12 42.63v3.1M545.71 43.49v3.1M546.3 43.48v3.1M546.89 43.05v3.1M547.48 43.44v3.1M548.07 42.5v3.1M548.66 43.13v3.1M549.25 41.76v3.1M549.85 42.29v3.1M550.44 43.14v3.1M551.03 44.3v3.1M551.62 41.24v3.1M552.21 41.4v3.1M552.8 40.78v3.1M553.39 41.92v3.1M553.98 40.39v3.1M554.57 41.03v3.1M555.16 41.77v3.1M555.76 41.22v3.1M556.35 41.39v3.1M556.94 41.83v3.1M557.53 40.23v3.1M558.12 40.51v3.1M558.71 41.18v3.1M559.3 41.67v3.1M559.89 41.57v3.1M560.48 40.61v3.1M561.07 41.74v3.1M561.67 42.51v3.1M562.26 42.02v3.1M562.85 41.07v3.1M563.44 40.33v3.1M564.03 41.5v3.1M564.62 40.8v3.1M565.21 40.91v3.1M565.8 41.5v3.1M566.39 43.84v3.1M566.98 43.27v3.1M567.58 44.05v3.1M568.17 42.79v3.1M568.76 43.68v3.1M569.35 41.95v3.1M569.94 42.13v3.1M570.53 44.3v3.1M571.12 43.19v3.1M571.71 42.54v3.1M572.3 42.92v3.1M572.89 43.11v3.1M573.49 43.72v3.1M574.08 42.45v3.1M574.67 41.8v3.1M575.26 43.34v3.1M575.85 43.92v3.1M576.44 44.26v3.1M577.03 45.39v3.1M577.62 44.91v3.1M578.21 45.81v3.1M578.8 44.84v3.1M579.4 47.05v3.1M579.99 48.43v3.1M580.58 47.5v3.1M581.17 46.98v3.1M581.76 46.69v3.1M582.35 48.25v3.1M582.94 46.55v3.1M583.53 48.12v3.1M584.12 49.65v3.1M584.71 50.68v3.1M585.31 50.44v3.1M585.9 51.72v3.1M604.81 114.62v3.1M605.4 117.27v3.1M605.99 116.94v3.1M606.58 115.99v3.1M625.49 52.26v3.1M626.08 50.98v3.1M626.68 51.44v3.1M627.27 48.39v3.1M627.86 49.38v3.1M628.45 47.95v3.1M629.04 49.29v3.1M629.63 48.42v3.1M630.22 44.89v3.1M630.81 45.11v3.1M631.4 45.94v3.1M631.99 45.86v3.1M632.59 45.39v3.1M633.18 44.39v3.1M633.77 44.37v3.1M634.36 44.13v3.1M634.95 43.34v3.1M635.54 44.03v3.1M636.13 41.12v3.1M636.72 43.05v3.1M637.31 41.31v3.1M637.9 42.35v3.1M638.5 41.16v3.1M639.09 40.48v3.1M639.68 41.32v3.1M640.27 40.36v3.1M640.86 40.22v3.1M641.45 39.32v3.1M642.04 40.4v3.1M642.63 40.62v3.1M643.22 40.93v3.1M643.81 40.24v3.1M644.41 41.17v3.1M645 40.41v3.1M645.59 40.36v3.1M646.18 40.63v3.1M646.77 40.76v3.1M647.36 39.41v3.1M647.95 39.33v3.1M648.54 39.55v3.1M649.13 40.15v3.1M649.72 39.5v3.1M650.32 41.15v3.1M650.91 40.14v3.1M651.5 40.7v3.1M652.09 39.55v3.1M652.68 40.25v3.1M653.27 39.59v3.1M653.86 38.51v3.1M654.45 40.4v3.1M655.04 39.12v3.1M655.63 40.58v3.1M656.23 40v3.1M656.82 38.62v3.1M657.41 38.58v3.1M658 39.16v3.1M658.59 38.81v3.1M659.18 38.68v3.1M659.77 38.61v3.1M660.36 37.35v3.1M660.95 38.6v3.1M661.54 36.85v3.1M662.14 38.82v3.1M662.73 38.02v3.1M663.32 38.24v3.1M663.91 39.05v3.1M664.5 39.34v3.1M665.09 37.66v3.1M665.68 37.02v3.1M666.27 37.25v3.1M666.86 36.61v3.1M667.45 37.65v3.1M668.05 39.85v3.1M668.64 37.81v3.1M669.23 39.23v3.1M669.82 37.99v3.1M670.41 39.71v3.1M671 39.53v3.1" stroke="#000" stroke-width="0.85" fill="none"/>
<path d="M490.75 55.56v3.1M491.34 54.96v3.1M491.93 54.23v3.1M492.52 56.12v3.1M493.11 57.4v3.1M493.7 59.46v3.1M494.29 61.43v3.1M494.88 61.24v3.1M495.47 64.4v3.1M496.06 64.33v3.1M496.66 67.61v3.1M497.25 69.22v3.1M497.84 71.3v3.1M498.43 73.97v3.1M499.02 75.88v3.1M499.61 78.1v3.1M500.2 79.38v3.1M500.79 82.97v3.1M501.38 86.91v3.1M501.97 89.72v3.1M502.57 92.18v3.1M503.16 94.77v3.1M503.75 96.72v3.1M504.34 101.39v3.1M504.93 102.98v3.1M505.52 105.34v3.1M506.11 107.47v3.1M506.7 109.78v3.1M507.29 111.29v3.1M507.88 113.46v3.1M508.48 114.43v3.1M509.07 116.6v3.1M512.61 115.34v3.1M513.2 114.41v3.1M513.79 113.56v3.1M514.39 111.47v3.1M514.98 110.01v3.1M515.57 109.42v3.1M516.16 105.54v3.1M516.75 103.75v3.1M517.34 100.71v3.1M517.93 99.82v3.1M518.52 94.47v3.1M519.11 92.95v3.1M519.7 90.47v3.1M520.3 88.83v3.1M520.89 86.24v3.1M521.48 84.32v3.1M522.07 79.32v3.1M522.66 78.69v3.1M523.25 75.54v3.1M523.84 72.99v3.1M524.43 71.97v3.1M525.02 68.62v3.1M525.61 65.9v3.1M526.21 65.78v3.1M526.8 63.38v3.1M527.39 63.07v3.1M527.98 62.59v3.1M528.57 60.82v3.1M529.16 60.31v3.1M529.75 57.17v3.1M530.34 54.57v3.1M530.93 54.23v3.1M531.52 53.1v3.1M586.49 52.4v3.1M587.08 54.11v3.1M587.67 55.5v3.1M588.26 56.13v3.1M588.85 58v3.1M589.44 59.7v3.1M590.03 59.28v3.1M590.62 61.3v3.1M591.22 63.68v3.1M591.81 64.22v3.1M592.4 67.49v3.1M592.99 68.84v3.1M593.58 73.22v3.1M594.17 76.73v3.1M594.76 78.86v3.1M595.35 79.3v3.1M595.94 82.35v3.1M596.53 84.12v3.1M597.13 86.42v3.1M597.72 90.19v3.1M598.31 90.55v3.1M598.9 95.41v3.1M599.49 97.81v3.1M600.08 101.88v3.1M600.67 103.65v3.1M601.26 105.45v3.1M601.85 108.24v3.1M602.44 110.77v3.1M603.04 112.34v3.1M603.63 114.51v3.1M604.22 115.08v3.1M607.17 115.27v3.1M607.76 115v3.1M608.35 112.46v3.1M608.95 110.8v3.1M609.54 109.13v3.1M610.13 107.78v3.1M610.72 103.13v3.1M611.31 102.35v3.1M611.9 98.27v3.1M612.49 95.43v3.1M613.08 94.5v3.1M613.67 90.46v3.1M614.26 86.22v3.1M614.86 83.86v3.1M615.45 81.93v3.1M616.04 79.64v3.1M616.63 76.19v3.1M617.22 74.46v3.1M617.81 72.62v3.1M618.4 69.16v3.1M618.99 67.61v3.1M619.58 65.28v3.1M620.17 62.88v3.1M620.77 61.17v3.1M621.36 59.94v3.1M621.95 58.22v3.1M622.54 56.25v3.1M623.13 55.06v3.1M623.72 55.13v3.1M624.31 53.52v3.1M624.9 53.13v3.1" stroke="#000" stroke-width="0.62" fill="none"/>
<path d="M369 149.66v3.1M369.59 151.56v3.1M370.18 150.68v3.1M370.77 151.4v3.1M371.36 153.12v3.1M371.95 150.86v3.1M372.55 150.84v3.1M373.14 152.52v3.1M373.73 151.33v3.1M374.32 152.5v3.1M374.91 151.21v3.1M375.5 150.16v3.1M376.09 150.96v3.1M376.68 152.28v3.1M377.27 152.53v3.1M377.86 152.11v3.1M378.46 151.95v3.1M379.05 151.48v3.1M379.64 150.76v3.1M380.23 152.59v3.1M380.82 151.15v3.1M381.41 150.36v3.1M382 151.05v3.1M382.59 152.14v3.1M383.18 151.84v3.1M383.77 150.84v3.1M384.37 149.83v3.1M384.96 150.04v3.1M385.55 148.58v3.1M386.14 149.07v3.1M386.73 151.53v3.1M387.32 151.07v3.1M387.91 152.24v3.1M388.5 153.33v3.1M389.09 152.82v3.1M389.68 152.05v3.1M390.28 153.6v3.1M390.87 152.09v3.1M391.46 150.75v3.1M392.05 151.53v3.1M392.64 150.99v3.1M393.23 149.68v3.1M393.82 150.54v3.1M394.41 150.09v3.1M395 148.71v3.1M395.59 150.51v3.1M396.19 150.63v3.1M396.78 150.99v3.1M397.37 150.04v3.1M397.96 151v3.1M398.55 151.1v3.1M399.14 150.85v3.1M399.73 149.88v3.1M400.32 151.33v3.1M400.91 149.86v3.1M401.5 150.87v3.1M402.1 152.12v3.1M402.69 150.58v3.1M403.28 151.07v3.1M403.87 152.78v3.1M404.46 151.82v3.1M405.05 152.2v3.1M405.64 152.73v3.1M406.23 153.24v3.1M406.82 150.72v3.1M407.41 151.86v3.1M408.01 151.41v3.1M408.6 151.09v3.1M409.19 150.8v3.1M409.78 150.46v3.1M410.37 151.34v3.1M410.96 150.37v3.1M411.55 151.23v3.1M412.14 151.32v3.1M412.73 150.2v3.1M413.32 150.76v3.1M413.92 152.11v3.1M414.51 151.25v3.1M415.1 150.86v3.1M415.69 151.75v3.1M416.28 151.18v3.1M416.87 152.2v3.1M417.46 152.53v3.1M418.05 150.99v3.1M418.64 151.31v3.1M419.23 152.39v3.1M419.83 151.17v3.1M420.42 151.66v3.1M421.01 150.76v3.1M421.6 150.7v3.1M422.19 150.7v3.1M422.78 152.75v3.1M423.37 150.67v3.1M423.96 150.74v3.1M424.55 150.64v3.1M425.14 150.88v3.1M425.74 151.03v3.1M426.33 150.23v3.1M426.92 151.81v3.1M427.51 150.56v3.1M428.1 152.11v3.1M428.69 151.6v3.1M429.28 152.06v3.1M429.87 150.46v3.1M430.46 151.62v3.1M431.05 152v3.1M431.65 152.19v3.1M432.24 151.1v3.1M432.83 153.87v3.1M433.42 152.97v3.1M434.01 152.81v3.1M434.6 152.58v3.1M435.19 152.1v3.1M435.78 152.15v3.1M436.37 150.38v3.1M436.96 150.44v3.1M437.56 151.41v3.1M438.15 151.53v3.1M438.74 151.5v3.1M439.33 151.68v3.1M439.92 151.67v3.1M440.51 152.12v3.1M441.1 153.1v3.1M441.69 151.27v3.1M442.28 153.26v3.1M442.87 152.63v3.1M443.47 151.15v3.1M444.06 151.83v3.1M444.65 149.86v3.1M445.24 149.72v3.1M445.83 150.37v3.1M446.42 151.24v3.1M447.01 151.44v3.1M447.6 151.39v3.1M448.19 151.96v3.1M448.78 150.12v3.1M449.38 151.98v3.1M449.97 150.37v3.1M450.56 150.72v3.1M451.15 150.96v3.1M451.74 150.68v3.1M452.33 150.44v3.1M452.92 150.97v3.1M453.51 151.89v3.1M454.1 152.36v3.1M454.69 152.53v3.1M455.29 151.26v3.1M455.88 151.36v3.1M456.47 151.14v3.1M457.06 152.06v3.1M457.65 150.17v3.1M458.24 152.98v3.1M458.83 152.03v3.1M459.42 152.26v3.1M460.01 153.5v3.1M460.6 154.38v3.1M461.2 154.02v3.1M461.79 154.95v3.1M462.38 154.41v3.1M462.97 155.32v3.1M463.56 155.32v3.1M464.15 153.81v3.1M464.74 154.74v3.1M465.33 153.51v3.1M465.92 153.16v3.1M466.51 152.28v3.1M467.11 152.59v3.1M467.7 153.32v3.1M468.29 151.75v3.1M468.88 153.71v3.1M469.47 154.04v3.1M470.06 154.49v3.1M470.65 152.75v3.1M471.24 154.38v3.1M471.83 154.84v3.1M472.42 153.66v3.1M473.02 154.69v3.1M473.61 153.08v3.1M474.2 155.8v3.1M474.79 154.8v3.1M475.38 155.58v3.1M475.97 152.9v3.1M476.56 154.8v3.1M477.15 154.16v3.1M477.74 155.39v3.1M478.33 154.68v3.1M478.93 155.35v3.1M479.52 157.92v3.1M480.11 155.83v3.1M480.7 156.06v3.1M481.29 156.45v3.1M481.88 156.06v3.1M482.47 158.14v3.1M483.06 159.11v3.1M483.65 157.9v3.1M484.24 157.8v3.1M484.84 160.64v3.1M485.43 160.74v3.1M486.02 160.48v3.1M486.61 160.58v3.1M487.2 158.76v3.1M487.79 159.62v3.1M488.38 159.08v3.1M488.97 159.51v3.1M489.56 162.19v3.1M490.15 161.45v3.1M490.75 164.54v3.1M491.34 163.86v3.1M491.93 164.29v3.1M513.79 253.65v3.1M531.52 170.52v3.1M532.12 168.64v3.1M532.71 169.18v3.1M533.3 166.11v3.1M533.89 166.51v3.1M534.48 165.69v3.1M535.07 164.96v3.1M535.66 165.23v3.1M536.25 163.97v3.1M536.84 165.32v3.1M537.43 164.51v3.1M538.03 163.86v3.1M538.62 162.93v3.1M539.21 163.02v3.1M539.8 163.97v3.1M540.39 162.45v3.1M540.98 163.1v3.1M541.57 163.75v3.1M542.16 164.15v3.1M542.75 165.09v3.1M543.34 163.6v3.1M543.94 162.98v3.1M544.53 164.25v3.1M545.12 163.28v3.1M545.71 164.06v3.1M546.3 163.27v3.1M546.89 164.78v3.1M547.48 165.28v3.1M548.07 165.86v3.1M548.66 166.33v3.1M549.25 166.84v3.1M558.71 194.13v3.1M559.3 194.83v3.1M559.89 192.89v3.1M569.94 163.29v3.1M570.53 163.01v3.1M571.12 161.01v3.1M571.71 161.98v3.1M572.3 160.93v3.1M572.89 160.7v3.1M573.49 160.69v3.1M574.08 160.43v3.1M574.67 161.33v3.1M575.26 160.47v3.1M575.85 159.86v3.1M576.44 159.41v3.1M577.03 159.25v3.1M577.62 158.19v3.1M578.21 158.54v3.1M578.8 159.36v3.1M579.4 159.83v3.1M579.99 160.63v3.1M580.58 160.79v3.1M581.17 163.23v3.1M581.76 163.01v3.1M582.35 162.55v3.1M582.94 162.2v3.1M583.53 163.78v3.1M584.12 161.89v3.1M584.71 161.57v3.1M585.31 162.03v3.1M585.9 162.75v3.1M586.49 164.71v3.1M587.08 164.74v3.1M587.67 167.95v3.1M588.26 166.96v3.1M603.63 200.72v3.1M604.22 200.76v3.1M604.81 200.76v3.1M605.4 201.3v3.1M605.99 200.88v3.1M606.58 200v3.1M607.17 201.88v3.1M607.76 201.89v3.1M608.35 201.5v3.1M608.95 202.17v3.1M609.54 201.83v3.1M610.13 199.17v3.1M610.72 198.88v3.1M611.31 200.22v3.1M626.68 164.33v3.1M627.27 164.19v3.1M627.86 162.4v3.1M628.45 163v3.1M629.04 162.03v3.1M629.63 163.08v3.1M630.22 160.43v3.1M630.81 158.19v3.1M631.4 158.97v3.1M631.99 159.29v3.1M632.59 157.72v3.1M633.18 157.44v3.1M633.77 157.43v3.1M634.36 157.98v3.1M634.95 157.68v3.1M635.54 157.31v3.1M636.13 158.64v3.1M636.72 156.94v3.1M637.31 156.16v3.1M637.9 154.56v3.1M638.5 154.26v3.1M639.09 155v3.1M639.68 153.1v3.1M640.27 154.41v3.1M640.86 155.17v3.1M641.45 154.32v3.1M642.04 154.79v3.1M642.63 153.71v3.1M643.22 155.83v3.1M643.81 156.1v3.1M644.41 155.76v3.1M645 154.38v3.1M645.59 154.89v3.1M646.18 156.44v3.1M646.77 156.74v3.1M647.36 155.51v3.1M647.95 156.37v3.1M648.54 154.61v3.1M649.13 155.1v3.1M649.72 155.28v3.1M650.32 155.35v3.1M650.91 153.74v3.1M651.5 155.33v3.1M652.09 155.06v3.1M652.68 152.74v3.1M653.27 152.17v3.1M653.86 153.38v3.1M654.45 152.71v3.1M655.04 151.39v3.1M655.63 154.23v3.1M656.23 154.01v3.1M656.82 153.73v3.1M657.41 156.2v3.1M658 154.63v3.1M658.59 153.78v3.1M659.18 154.28v3.1M659.77 152.95v3.1M660.36 153.03v3.1M660.95 154.08v3.1M661.54 153.29v3.1M662.14 153.7v3.1M662.73 155.61v3.1M663.32 154.67v3.1M663.91 154.85v3.1M664.5 154.41v3.1M665.09 154.16v3.1M665.68 155.16v3.1M666.27 153.75v3.1M666.86 155.3v3.1M667.45 153.12v3.1M668.05 153.42v3.1M668.64 152.57v3.1M669.23 153.33v3.1M669.82 154.02v3.1M670.41 154.88v3.1M671 153.06v3.1" stroke="#000" stroke-width="0.85" fill="none"/>
<path d="M492.52 166.55v3.1M493.11 168.32v3.1M493.7 168.09v3.1M494.29 167.63v3.1M494.88 169.92v3.1M495.47 172.43v3.1M496.06 173.17v3.1M496.66 175.53v3.1M497.25 179.84v3.1M497.84 182.1v3.1M498.43 183.87v3.1M499.02 187.21v3.1M499.61 189.84v3.1M500.2 193.26v3.1M500.79 195.73v3.1M501.38 199.31v3.1M501.97 201.38v3.1M502.57 201.85v3.1M503.16 205.69v3.1M503.75 208.06v3.1M504.34 209.68v3.1M504.93 212.37v3.1M505.52 213.31v3.1M506.11 215.53v3.1M506.7 219.8v3.1M507.29 221.2v3.1M507.88 223.64v3.1M508.48 229.33v3.1M509.07 231.44v3.1M509.66 235.31v3.1M510.25 238.14v3.1M510.84 242.1v3.1M511.43 245.61v3.1M512.02 249.08v3.1M512.61 251.65v3.1M513.2 250.67v3.1M514.39 251.86v3.1M514.98 250.85v3.1M515.57 250.3v3.1M516.16 246.67v3.1M516.75 241.58v3.1M517.34 239.65v3.1M517.93 232.2v3.1M518.52 227.89v3.1M519.11 222.87v3.1M519.7 219.35v3.1M520.3 213.98v3.1M520.89 211.36v3.1M521.48 206.52v3.1M522.07 204.5v3.1M522.66 199.48v3.1M523.25 196.39v3.1M523.84 194.8v3.1M524.43 190.45v3.1M525.02 187.52v3.1M525.61 186.95v3.1M526.21 183.27v3.1M526.8 180.44v3.1M527.39 179.86v3.1M527.98 176.4v3.1M528.57 176.84v3.1M529.16 175.53v3.1M529.75 173.08v3.1M530.34 172.08v3.1M530.93 171.65v3.1M549.85 167.29v3.1M550.44 168.06v3.1M551.03 169.8v3.1M551.62 169.89v3.1M552.21 173.14v3.1M552.8 173.33v3.1M553.39 175.99v3.1M553.98 177.18v3.1M554.57 179.52v3.1M555.16 184.18v3.1M555.76 185.2v3.1M556.35 187.09v3.1M556.94 189.85v3.1M557.53 191.66v3.1M558.12 194.79v3.1M560.48 192.8v3.1M561.07 191.04v3.1M561.67 189.72v3.1M562.26 185.31v3.1M562.85 183.92v3.1M563.44 181.34v3.1M564.03 177.96v3.1M564.62 176.6v3.1M565.21 174.5v3.1M565.8 171.08v3.1M566.39 171.57v3.1M566.98 169.81v3.1M567.58 167.31v3.1M568.17 164.94v3.1M568.76 165.88v3.1M569.35 163.71v3.1M588.85 169.65v3.1M589.44 169.36v3.1M590.03 172.38v3.1M590.62 171.56v3.1M591.22 172.39v3.1M591.81 174.13v3.1M592.4 175.45v3.1M592.99 174.5v3.1M593.58 176.58v3.1M594.17 177.16v3.1M594.76 180.06v3.1M595.35 181.56v3.1M595.94 182.55v3.1M596.53 183.49v3.1M597.13 184.92v3.1M597.72 186.2v3.1M598.31 189.19v3.1M598.9 192.02v3.1M599.49 191.09v3.1M600.08 193.8v3.1M600.67 194.64v3.1M601.26 196.44v3.1M601.85 196.32v3.1M602.44 198.24v3.1M603.04 198.56v3.1M611.9 199.63v3.1M612.49 197.36v3.1M613.08 195.8v3.1M613.67 194.85v3.1M614.26 193.44v3.1M614.86 190.55v3.1M615.45 190.44v3.1M616.04 187.91v3.1M616.63 186.45v3.1M617.22 187.28v3.1M617.81 184.48v3.1M618.4 183.32v3.1M618.99 182.23v3.1M619.58 180.4v3.1M620.17 177.85v3.1M620.77 176.69v3.1M621.36 174.86v3.1M621.95 175.96v3.1M622.54 174.27v3.1M623.13 172.01v3.1M623.72 171.76v3.1M624.31 170.99v3.1M624.9 169.02v3.1M625.49 168.64v3.1M626.08 166.84v3.1" stroke="#000" stroke-width="0.62" fill="none"/>
<path d="M369 269.5v3.1M369.59 268.15v3.1M370.18 268.65v3.1M370.77 269.76v3.1M371.36 269.26v3.1M371.95 267.92v3.1M372.55 269.48v3.1M373.14 269.56v3.1M373.73 269.2v3.1M374.32 270.44v3.1M374.91 269.71v3.1M375.5 268.65v3.1M376.09 269.05v3.1M376.68 271.43v3.1M377.27 268.94v3.1M377.86 270.23v3.1M378.46 270.76v3.1M379.05 270.91v3.1M379.64 269.49v3.1M380.23 270.26v3.1M380.82 270.43v3.1M381.41 270.76v3.1M382 269.21v3.1M382.59 268.65v3.1M383.18 270.02v3.1M383.77 270v3.1M384.37 269.72v3.1M384.96 269.16v3.1M385.55 270.46v3.1M386.14 270.44v3.1M386.73 271.1v3.1M387.32 269.59v3.1M387.91 270.77v3.1M388.5 270.49v3.1M389.09 269.67v3.1M389.68 270.47v3.1M390.28 269.95v3.1M390.87 269.53v3.1M391.46 269.96v3.1M392.05 268.49v3.1M392.64 269.86v3.1M393.23 270.28v3.1M393.82 270.37v3.1M394.41 270.99v3.1M395 268.94v3.1M395.59 268.66v3.1M396.19 270.06v3.1M396.78 270.48v3.1M397.37 272v3.1M397.96 270.87v3.1M398.55 269.49v3.1M399.14 270.51v3.1M399.73 269.02v3.1M400.32 268.33v3.1M400.91 271.84v3.1M401.5 270.26v3.1M402.1 270.49v3.1M402.69 270.39v3.1M403.28 270.92v3.1M403.87 269.27v3.1M404.46 270.34v3.1M405.05 268.78v3.1M405.64 269.09v3.1M406.23 271.8v3.1M406.82 271.62v3.1M407.41 270.79v3.1M408.01 270.47v3.1M408.6 270.38v3.1M409.19 269.96v3.1M409.78 271.76v3.1M410.37 270.87v3.1M410.96 270.82v3.1M411.55 270.61v3.1M412.14 271.17v3.1M412.73 270.77v3.1M413.32 270.66v3.1M413.92 268.83v3.1M414.51 270.06v3.1M415.1 271.33v3.1M415.69 269.32v3.1M416.28 269.92v3.1M416.87 270.78v3.1M417.46 271.09v3.1M418.05 271.09v3.1M418.64 269.49v3.1M419.23 271.46v3.1M419.83 270.24v3.1M420.42 270.59v3.1M421.01 271.54v3.1M421.6 270.73v3.1M422.19 271.39v3.1M422.78 272.83v3.1M423.37 270.8v3.1M423.96 270.3v3.1M424.55 268.62v3.1M425.14 268.58v3.1M425.74 268.05v3.1M426.33 268.6v3.1M426.92 268.46v3.1M427.51 269.24v3.1M428.1 269.82v3.1M428.69 269.45v3.1M429.28 269.02v3.1M429.87 268.75v3.1M430.46 269.92v3.1M431.05 269.33v3.1M431.65 270.08v3.1M432.24 270.17v3.1M432.83 269.19v3.1M433.42 269.98v3.1M434.01 268.26v3.1M434.6 271.52v3.1M435.19 270.99v3.1M435.78 270.33v3.1M436.37 269.85v3.1M436.96 270.77v3.1M437.56 268.37v3.1M438.15 268.68v3.1M438.74 269.58v3.1M439.33 269.16v3.1M439.92 269.12v3.1M440.51 270.54v3.1M441.1 269.33v3.1M441.69 270.57v3.1M442.28 270.05v3.1M442.87 269.86v3.1M443.47 270.76v3.1M444.06 269.47v3.1M444.65 271.57v3.1M445.24 269.4v3.1M445.83 271.11v3.1M446.42 268.47v3.1M447.01 270.06v3.1M447.6 268.93v3.1M448.19 269.56v3.1M448.78 271.34v3.1M449.38 271.67v3.1M449.97 270.06v3.1M450.56 271.65v3.1M451.15 269.63v3.1M451.74 270.54v3.1M452.33 270.7v3.1M452.92 270.99v3.1M453.51 269.38v3.1M454.1 271.91v3.1M454.69 271.2v3.1M455.29 270.53v3.1M455.88 270.07v3.1M456.47 269.87v3.1M457.06 270.33v3.1M457.65 271.74v3.1M458.24 271.06v3.1M458.83 270.54v3.1M459.42 271.1v3.1M460.01 273.4v3.1M460.6 272.13v3.1M461.2 271.79v3.1M461.79 273.01v3.1M462.38 271.55v3.1M462.97 270.95v3.1M463.56 270.31v3.1M464.15 269.67v3.1M464.74 270.11v3.1M465.33 270.49v3.1M465.92 270.67v3.1M466.51 270.99v3.1M467.11 271.23v3.1M467.7 271.34v3.1M468.29 271.52v3.1M468.88 270.73v3.1M469.47 269.9v3.1M470.06 271.05v3.1M470.65 270.97v3.1M471.24 271.63v3.1M471.83 272.37v3.1M472.42 271.96v3.1M473.02 272.03v3.1M473.61 272.57v3.1M474.2 272.67v3.1M474.79 272.3v3.1M475.38 273.47v3.1M475.97 273.4v3.1M476.56 273.02v3.1M477.15 273.97v3.1M477.74 275.54v3.1M478.33 273.5v3.1M478.93 274.95v3.1M479.52 274.88v3.1M480.11 274.95v3.1M480.7 272.9v3.1M481.29 275.02v3.1M481.88 273.51v3.1M482.47 273.02v3.1M483.06 273.14v3.1M483.65 274.24v3.1M484.24 274.51v3.1M484.84 275.35v3.1M485.43 277.22v3.1M486.02 275.88v3.1M486.61 275.67v3.1M487.2 276.81v3.1M487.79 276.56v3.1M488.38 276.92v3.1M488.97 275.24v3.1M489.56 277.25v3.1M490.15 277.27v3.1M490.75 278.79v3.1M491.34 277.12v3.1M491.93 279.18v3.1M492.52 279.57v3.1M493.11 279.48v3.1M514.39 376.99v3.1M529.75 286.68v3.1M530.34 287.9v3.1M530.93 285.58v3.1M531.52 284.21v3.1M532.12 284.27v3.1M532.71 282.88v3.1M533.3 281.47v3.1M533.89 281.68v3.1M534.48 279.99v3.1M535.07 279.87v3.1M535.66 277.93v3.1M536.25 280.28v3.1M536.84 277.8v3.1M537.43 280.26v3.1M538.03 279.81v3.1M538.62 280.16v3.1M539.21 280.88v3.1M539.8 280.52v3.1M540.39 279.76v3.1M540.98 279.86v3.1M541.57 278.3v3.1M542.16 279.27v3.1M542.75 278.93v3.1M543.34 280.88v3.1M543.94 281.2v3.1M544.53 281.26v3.1M545.12 281.94v3.1M545.71 282.35v3.1M546.3 282.9v3.1M546.89 283.49v3.1M558.71 334.58v3.1M559.3 335.29v3.1M571.71 279.22v3.1M572.3 279.76v3.1M572.89 279.41v3.1M573.49 279.98v3.1M574.08 279.02v3.1M574.67 278.04v3.1M575.26 277.54v3.1M575.85 277.3v3.1M576.44 276.34v3.1M577.03 276.76v3.1M577.62 275.72v3.1M578.21 274.37v3.1M578.8 274.49v3.1M579.4 276.3v3.1M579.99 275.46v3.1M580.58 274.83v3.1M581.17 275.94v3.1M581.76 274.55v3.1M582.35 274.61v3.1M582.94 274.63v3.1M583.53 273.74v3.1M584.12 276.64v3.1M584.71 275.74v3.1M585.31 276.96v3.1M585.9 277.3v3.1M586.49 278.9v3.1M587.08 278.76v3.1M587.67 279.21v3.1M588.26 278.3v3.1M588.85 279.84v3.1M589.44 278.9v3.1M590.03 280.68v3.1M590.62 281.11v3.1M591.22 281.15v3.1M591.81 283.17v3.1M592.4 282.14v3.1M592.99 282.59v3.1M593.58 283.06v3.1M594.17 283.65v3.1M594.76 285.92v3.1M601.26 296.37v3.1M601.85 298.52v3.1M602.44 298.3v3.1M603.04 297.63v3.1M603.63 297.74v3.1M604.22 298.8v3.1M604.81 301.01v3.1M605.4 301.33v3.1M605.99 301.92v3.1M606.58 302.96v3.1M607.17 303.49v3.1M607.76 301.46v3.1M608.35 302.76v3.1M608.95 302.29v3.1M609.54 302.1v3.1M610.13 302.78v3.1M610.72 303.19v3.1M611.31 302.98v3.1M611.9 301.69v3.1M612.49 301.95v3.1M613.08 303.45v3.1M613.67 300.42v3.1M614.26 299.23v3.1M614.86 300.14v3.1M615.45 299.52v3.1M616.04 298.51v3.1M624.31 281.94v3.1M624.9 282.9v3.1M625.49 280.62v3.1M626.08 280.57v3.1M626.68 279.83v3.1M627.27 278.82v3.1M627.86 277.81v3.1M628.45 278.56v3.1M629.04 274.4v3.1M629.63 276.17v3.1M630.22 276.63v3.1M630.81 274.18v3.1M631.4 273.93v3.1M631.99 274.16v3.1M632.59 275v3.1M633.18 272.46v3.1M633.77 273.26v3.1M634.36 273.2v3.1M634.95 273.56v3.1M635.54 273.27v3.1M636.13 273.51v3.1M636.72 272.19v3.1M637.31 272.35v3.1M637.9 271.27v3.1M638.5 270.75v3.1M639.09 270.98v3.1M639.68 270.64v3.1M640.27 269.63v3.1M640.86 272.04v3.1M641.45 270.35v3.1M642.04 269.04v3.1M642.63 270.75v3.1M643.22 268.72v3.1M643.81 269.66v3.1M644.41 269.49v3.1M645 269.96v3.1M645.59 270.32v3.1M646.18 270.06v3.1M646.77 270.46v3.1M647.36 272.03v3.1M647.95 268.37v3.1M648.54 269.97v3.1M649.13 270.36v3.1M649.72 269.19v3.1M650.32 269.04v3.1M650.91 271.85v3.1M651.5 269.56v3.1M652.09 271.34v3.1M652.68 270.07v3.1M653.27 269.67v3.1M653.86 270.22v3.1M654.45 270.52v3.1M655.04 270.98v3.1M655.63 270.66v3.1M656.23 270.45v3.1M656.82 270.4v3.1M657.41 271.37v3.1M658 270.62v3.1M658.59 268.95v3.1M659.18 269.13v3.1M659.77 269.85v3.1M660.36 269.41v3.1M660.95 269.96v3.1M661.54 270v3.1M662.14 270.79v3.1M662.73 271.27v3.1M663.32 271.74v3.1M663.91 270.68v3.1M664.5 272.44v3.1M665.09 270.9v3.1M665.68 273.42v3.1M666.27 271.77v3.1M666.86 271v3.1M667.45 269.8v3.1M668.05 267.56v3.1M668.64 269.19v3.1M669.23 269.33v3.1M669.82 270.74v3.1M670.41 268.63v3.1M671 271.89v3.1" stroke="#000" stroke-width="0.85" fill="none"/>
<path d="M493.7 281.02v3.1M494.29 283.31v3.1M494.88 283.05v3.1M495.47 284.07v3.1M496.06 286.93v3.1M496.66 289.04v3.1M497.25 291.16v3.1M497.84 291.9v3.1M498.43 294.67v3.1M499.02 297.62v3.1M499.61 298.73v3.1M500.2 301.3v3.1M500.79 305.46v3.1M501.38 309.01v3.1M501.97 309.52v3.1M502.57 311.04v3.1M503.16 314.33v3.1M503.75 316.75v3.1M504.34 319.58v3.1M504.93 321.87v3.1M505.52 322.97v3.1M506.11 324.5v3.1M506.7 327.12v3.1M507.29 328.78v3.1M507.88 332.37v3.1M508.48 335.32v3.1M509.07 342.21v3.1M509.66 345.52v3.1M510.25 349.66v3.1M510.84 354.91v3.1M511.43 360.71v3.1M512.02 364.59v3.1M512.61 369.53v3.1M513.2 373.4v3.1M513.79 377.09v3.1M514.98 375.7v3.1M515.57 372.01v3.1M516.16 367.38v3.1M516.75 362.33v3.1M517.34 355.63v3.1M517.93 350.12v3.1M518.52 342.27v3.1M519.11 337.6v3.1M519.7 331.44v3.1M520.3 325.96v3.1M520.89 319.49v3.1M521.48 315.5v3.1M522.07 313.05v3.1M522.66 310.04v3.1M523.25 305.9v3.1M523.84 303.43v3.1M524.43 299.87v3.1M525.02 297.49v3.1M525.61 295.18v3.1M526.21 294.93v3.1M526.8 292.93v3.1M527.39 291.27v3.1M527.98 290.1v3.1M528.57 289.72v3.1M529.16 288.55v3.1M547.48 283.7v3.1M548.07 284.79v3.1M548.66 287.65v3.1M549.25 287.44v3.1M549.85 289.94v3.1M550.44 293.39v3.1M551.03 292.04v3.1M551.62 296.16v3.1M552.21 300.18v3.1M552.8 301.65v3.1M553.39 308.6v3.1M553.98 308.14v3.1M554.57 315.28v3.1M555.16 319.23v3.1M555.76 322.57v3.1M556.35 325.45v3.1M556.94 329.4v3.1M557.53 331.46v3.1M558.12 334.89v3.1M559.89 335.36v3.1M560.48 332.09v3.1M561.07 329.93v3.1M561.67 327.06v3.1M562.26 321.93v3.1M562.85 319.47v3.1M563.44 314.56v3.1M564.03 309.01v3.1M564.62 306.4v3.1M565.21 302.47v3.1M565.8 299.5v3.1M566.39 297.1v3.1M566.98 293.71v3.1M567.58 292.42v3.1M568.17 288.76v3.1M568.76 288.06v3.1M569.35 285.51v3.1M569.94 284.67v3.1M570.53 282.06v3.1M571.12 280.84v3.1M595.35 287.39v3.1M595.94 286.67v3.1M596.53 290.18v3.1M597.13 291.24v3.1M597.72 292.84v3.1M598.31 293.77v3.1M598.9 293.31v3.1M599.49 294.03v3.1M600.08 297.45v3.1M600.67 296.96v3.1M616.63 296.41v3.1M617.22 297.21v3.1M617.81 294.95v3.1M618.4 293.69v3.1M618.99 293.06v3.1M619.58 292.34v3.1M620.17 291.57v3.1M620.77 290.27v3.1M621.36 288.39v3.1M621.95 287.74v3.1M622.54 286.1v3.1M623.13 285.51v3.1M623.72 282.73v3.1" stroke="#000" stroke-width="0.62" fill="none"/>
<path d="M369 389.59v3.1M369.59 391.61v3.1M370.18 390.82v3.1M370.77 391.88v3.1M371.36 393.29v3.1M371.95 392.39v3.1M372.55 393.23v3.1M373.14 392.44v3.1M373.73 394.25v3.1M374.32 393.02v3.1M374.91 392.92v3.1M375.5 390.98v3.1M376.09 391.5v3.1M376.68 393.44v3.1M377.27 392.48v3.1M377.86 392.33v3.1M378.46 392.58v3.1M379.05 391.41v3.1M379.64 393.21v3.1M380.23 392.79v3.1M380.82 393.32v3.1M381.41 392.11v3.1M382 392.79v3.1M382.59 391.69v3.1M383.18 393.05v3.1M383.77 393.56v3.1M384.37 393.61v3.1M384.96 393.23v3.1M385.55 393.3v3.1M386.14 390.56v3.1M386.73 393.67v3.1M387.32 393.26v3.1M387.91 393.76v3.1M388.5 393.68v3.1M389.09 392.53v3.1M389.68 392.85v3.1M390.28 393.5v3.1M390.87 393.69v3.1M391.46 391.94v3.1M392.05 391.76v3.1M392.64 393.95v3.1M393.23 392.54v3.1M393.82 395.3v3.1M394.41 393.98v3.1M395 393.23v3.1M395.59 394.61v3.1M396.19 395.11v3.1M396.78 392.54v3.1M397.37 395.04v3.1M397.96 393.64v3.1M398.55 394.86v3.1M399.14 393.07v3.1M399.73 391.78v3.1M400.32 393.26v3.1M400.91 393.9v3.1M401.5 395.32v3.1M402.1 395.5v3.1M402.69 395.16v3.1M403.28 394.57v3.1M403.87 394.34v3.1M404.46 394.42v3.1M405.05 393.7v3.1M405.64 393.73v3.1M406.23 391.65v3.1M406.82 393.78v3.1M407.41 393.61v3.1M408.01 396.13v3.1M408.6 394.96v3.1M409.19 394.03v3.1M409.78 395v3.1M410.37 393.19v3.1M410.96 393.45v3.1M411.55 392.33v3.1M412.14 395.01v3.1M412.73 394.74v3.1M413.32 393.67v3.1M413.92 394.87v3.1M414.51 395.53v3.1M415.1 394.84v3.1M415.69 394.29v3.1M416.28 392.96v3.1M416.87 393.21v3.1M417.46 394.08v3.1M418.05 395.3v3.1M418.64 394.34v3.1M419.23 394.45v3.1M419.83 396.31v3.1M420.42 394.56v3.1M421.01 396.08v3.1M421.6 395.22v3.1M422.19 395.7v3.1M422.78 396.54v3.1M423.37 395.75v3.1M423.96 396v3.1M424.55 394.69v3.1M425.14 394.37v3.1M425.74 395.15v3.1M426.33 395.56v3.1M426.92 395.34v3.1M427.51 396.63v3.1M428.1 395.59v3.1M428.69 395.95v3.1M429.28 397.02v3.1M429.87 396.25v3.1M430.46 395.89v3.1M431.05 395.02v3.1M431.65 396.41v3.1M432.24 394.71v3.1M432.83 396.14v3.1M433.42 394.62v3.1M434.01 396.87v3.1M434.6 395.26v3.1M435.19 396.81v3.1M435.78 394.93v3.1M436.37 395.84v3.1M436.96 397.16v3.1M437.56 395.56v3.1M438.15 396.14v3.1M438.74 395.36v3.1M439.33 393.43v3.1M439.92 395.14v3.1M440.51 395.05v3.1M441.1 393.67v3.1M441.69 395.11v3.1M442.28 394.14v3.1M442.87 393.99v3.1M443.47 395.06v3.1M444.06 394.8v3.1M444.65 397.29v3.1M445.24 394.21v3.1M445.83 395.93v3.1M446.42 395.79v3.1M447.01 393.35v3.1M447.6 393.82v3.1M448.19 396.06v3.1M448.78 395.64v3.1M449.38 396.44v3.1M449.97 396.76v3.1M450.56 395.11v3.1M451.15 394.17v3.1M451.74 392.67v3.1M452.33 395.17v3.1M452.92 394.46v3.1M453.51 395.91v3.1M454.1 396.13v3.1M454.69 394.8v3.1M455.29 397.2v3.1M455.88 396.47v3.1M456.47 396.33v3.1M457.06 395.03v3.1M457.65 396.2v3.1M458.24 396.43v3.1M458.83 396.75v3.1M459.42 396.39v3.1M460.01 397.53v3.1M460.6 397.5v3.1M461.2 397.49v3.1M461.79 396.46v3.1M462.38 397.62v3.1M462.97 396.32v3.1M463.56 393.84v3.1M464.15 395.57v3.1M464.74 396.29v3.1M465.33 397.51v3.1M465.92 396.8v3.1M466.51 397.02v3.1M467.11 396.92v3.1M467.7 398.11v3.1M468.29 397.44v3.1M468.88 397.52v3.1M469.47 397.29v3.1M470.06 398.14v3.1M470.65 396.99v3.1M471.24 396.19v3.1M471.83 398.24v3.1M472.42 397.47v3.1M473.02 398.59v3.1M473.61 398.56v3.1M474.2 399.36v3.1M474.79 399.41v3.1M475.38 398.35v3.1M475.97 398.69v3.1M476.56 397.59v3.1M477.15 399.6v3.1M477.74 398.21v3.1M478.33 399.07v3.1M478.93 398.11v3.1M479.52 397.38v3.1M480.11 400.94v3.1M480.7 400.13v3.1M481.29 400.11v3.1M481.88 400.03v3.1M482.47 400.61v3.1M483.06 400.83v3.1M483.65 399.65v3.1M484.24 401.9v3.1M484.84 400.52v3.1M485.43 400.29v3.1M486.02 401.82v3.1M486.61 401.48v3.1M487.2 400.9v3.1M487.79 400.33v3.1M488.38 402.66v3.1M488.97 403.42v3.1M489.56 403.41v3.1M490.15 402.95v3.1M490.75 403.51v3.1M491.34 403.53v3.1M491.93 405.3v3.1M492.52 406.61v3.1M493.11 407.78v3.1M493.7 407.47v3.1M514.39 497.45v3.1M529.75 413.09v3.1M530.34 412.6v3.1M530.93 413.21v3.1M531.52 410.07v3.1M532.12 411.61v3.1M532.71 408.66v3.1M533.3 408.58v3.1M533.89 408.76v3.1M534.48 408.1v3.1M535.07 407.6v3.1M535.66 405.87v3.1M536.25 407.44v3.1M536.84 406.34v3.1M537.43 409.06v3.1M538.03 406.64v3.1M538.62 406.73v3.1M539.21 405.34v3.1M539.8 405.78v3.1M540.39 405.14v3.1M540.98 406.88v3.1M541.57 405.93v3.1M542.16 406.45v3.1M542.75 405.37v3.1M543.34 405.65v3.1M543.94 407.16v3.1M544.53 405.63v3.1M545.12 405.35v3.1M545.71 407.65v3.1M546.3 407.29v3.1M546.89 408.97v3.1M558.12 453.48v3.1M558.71 452.87v3.1M570.53 407.75v3.1M571.12 406.91v3.1M571.71 404.83v3.1M572.3 403.29v3.1M572.89 403.39v3.1M573.49 404.23v3.1M574.08 402.12v3.1M574.67 402.26v3.1M575.26 402.32v3.1M575.85 402.87v3.1M576.44 401.67v3.1M577.03 401.32v3.1M577.62 400.84v3.1M578.21 402.52v3.1M578.8 401.92v3.1M579.4 400.9v3.1M579.99 399.86v3.1M580.58 400.42v3.1M581.17 401.75v3.1M581.76 401v3.1M582.35 402.63v3.1M582.94 402.41v3.1M583.53 402.55v3.1M584.12 403.11v3.1M584.71 403.33v3.1M585.31 402.8v3.1M585.9 403.64v3.1M586.49 406.08v3.1M587.08 403.4v3.1M587.67 404.02v3.1M588.26 405.41v3.1M588.85 404.63v3.1M589.44 404.18v3.1M590.03 403.94v3.1M590.62 405.72v3.1M591.22 406.74v3.1M591.81 408.01v3.1M592.4 408.02v3.1M592.99 409.75v3.1M593.58 408.81v3.1M594.17 410.63v3.1M594.76 410.62v3.1M595.35 412.11v3.1M595.94 413.23v3.1M596.53 413.89v3.1M601.26 421.99v3.1M601.85 422.34v3.1M602.44 423.83v3.1M603.04 423.85v3.1M603.63 424.92v3.1M604.22 424.44v3.1M604.81 426.1v3.1M605.4 426.07v3.1M605.99 427.11v3.1M606.58 428.04v3.1M607.17 428.87v3.1M607.76 427.45v3.1M608.35 427.14v3.1M608.95 427.69v3.1M609.54 427.6v3.1M610.13 427.2v3.1M610.72 427.44v3.1M611.31 427.47v3.1M611.9 426.75v3.1M612.49 425.84v3.1M613.08 424.39v3.1M613.67 423.71v3.1M614.26 423.12v3.1M614.86 423.06v3.1M615.45 422.24v3.1M623.13 410.53v3.1M623.72 407v3.1M624.31 406.65v3.1M624.9 406.6v3.1M625.49 404.86v3.1M626.08 405.07v3.1M626.68 405.43v3.1M627.27 403.73v3.1M627.86 402.84v3.1M628.45 402.3v3.1M629.04 401.5v3.1M629.63 401.79v3.1M630.22 400.21v3.1M630.81 399.22v3.1M631.4 398.88v3.1M631.99 398.88v3.1M632.59 398.16v3.1M633.18 398.25v3.1M633.77 395.99v3.1M634.36 398.43v3.1M634.95 399.14v3.1M635.54 398.16v3.1M636.13 396.52v3.1M636.72 395.79v3.1M637.31 396.26v3.1M637.9 394.83v3.1M638.5 395.94v3.1M639.09 394.77v3.1M639.68 396.01v3.1M640.27 396.67v3.1M640.86 394.29v3.1M641.45 396.27v3.1M642.04 395.35v3.1M642.63 394.24v3.1M643.22 394.45v3.1M643.81 394.56v3.1M644.41 395.68v3.1M645 394.07v3.1M645.59 396.29v3.1M646.18 397.12v3.1M646.77 395.8v3.1M647.36 395.45v3.1M647.95 394.88v3.1M648.54 393.94v3.1M649.13 395.36v3.1M649.72 395.16v3.1M650.32 395.26v3.1M650.91 396.35v3.1M651.5 394.58v3.1M652.09 394.05v3.1M652.68 394.75v3.1M653.27 392.64v3.1M653.86 392.82v3.1M654.45 393.66v3.1M655.04 393.67v3.1M655.63 394.59v3.1M656.23 393.77v3.1M656.82 395.46v3.1M657.41 395.33v3.1M658 394.73v3.1M658.59 394.08v3.1M659.18 394.95v3.1M659.77 395.11v3.1M660.36 393.75v3.1M660.95 394.48v3.1M661.54 394.44v3.1M662.14 393.89v3.1M662.73 394.9v3.1M663.32 394.61v3.1M663.91 392.97v3.1M664.5 393.5v3.1M665.09 392.4v3.1M665.68 393.37v3.1M666.27 391.93v3.1M666.86 393.15v3.1M667.45 392.57v3.1M668.05 392.88v3.1M668.64 392v3.1M669.23 391.07v3.1M669.82 393.65v3.1M670.41 392.18v3.1M671 393.36v3.1" stroke="#000" stroke-width="0.85" fill="none"/>
<path d="M494.29 409.27v3.1M494.88 410.33v3.1M495.47 410.66v3.1M496.06 412.23v3.1M496.66 415.62v3.1M497.25 415.98v3.1M497.84 418.47v3.1M498.43 419.62v3.1M499.02 422.24v3.1M499.61 423.32v3.1M500.2 427.41v3.1M500.79 431.21v3.1M501.38 434.89v3.1M501.97 437.05v3.1M502.57 439.09v3.1M503.16 440.73v3.1M503.75 441.96v3.1M504.34 443.83v3.1M504.93 446.02v3.1M505.52 446.52v3.1M506.11 449.86v3.1M506.7 450.58v3.1M507.29 452.45v3.1M507.88 456.3v3.1M508.48 459.37v3.1M509.07 463.61v3.1M509.66 470.42v3.1M510.25 474.14v3.1M510.84 479.42v3.1M511.43 485.37v3.1M512.02 489.89v3.1M512.61 492.41v3.1M513.2 497.01v3.1M513.79 497.6v3.1M514.98 496.46v3.1M515.57 492.19v3.1M516.16 489v3.1M516.75 484.83v3.1M517.34 480.08v3.1M517.93 473.33v3.1M518.52 467.47v3.1M519.11 462.48v3.1M519.7 457.18v3.1M520.3 451.62v3.1M520.89 447.61v3.1M521.48 442.28v3.1M522.07 438.84v3.1M522.66 436.16v3.1M523.25 432.42v3.1M523.84 429.17v3.1M524.43 428.05v3.1M525.02 423.94v3.1M525.61 421.23v3.1M526.21 420.55v3.1M526.8 420.1v3.1M527.39 417.62v3.1M527.98 417.47v3.1M528.57 415.37v3.1M529.16 414.39v3.1M547.48 410.98v3.1M548.07 410.7v3.1M548.66 413.3v3.1M549.25 413.42v3.1M549.85 417.3v3.1M550.44 419.46v3.1M551.03 420.44v3.1M551.62 423.28v3.1M552.21 425.36v3.1M552.8 429.21v3.1M553.39 433.3v3.1M553.98 434.79v3.1M554.57 440.33v3.1M555.16 441.74v3.1M555.76 445.24v3.1M556.35 447.15v3.1M556.94 452.47v3.1M557.53 452.65v3.1M559.3 453.33v3.1M559.89 448.98v3.1M560.48 448.43v3.1M561.07 446.84v3.1M561.67 441.4v3.1M562.26 438.16v3.1M562.85 435.1v3.1M563.44 430.72v3.1M564.03 428.12v3.1M564.62 425.86v3.1M565.21 422.38v3.1M565.8 419.93v3.1M566.39 417.05v3.1M566.98 415.51v3.1M567.58 413.32v3.1M568.17 412.74v3.1M568.76 410.92v3.1M569.35 408.88v3.1M569.94 406.14v3.1M597.13 412.74v3.1M597.72 415.16v3.1M598.31 414.81v3.1M598.9 415.7v3.1M599.49 418v3.1M600.08 418.4v3.1M600.67 420.82v3.1M616.04 421.49v3.1M616.63 420.77v3.1M617.22 420.23v3.1M617.81 418.76v3.1M618.4 417.51v3.1M618.99 416.09v3.1M619.58 414.4v3.1M620.17 413.14v3.1M620.77 413.56v3.1M621.36 412.75v3.1M621.95 411.25v3.1M622.54 409.75v3.1" stroke="#000" stroke-width="0.62" fill="none"/>
<path d="M369 550.83 L369.43 550.83 L369.86 550.83 L370.3 550.82 L370.73 550.82 L371.16 550.81 L371.59 550.81 L372.02 550.8 L372.46 550.8 L372.89 550.8 L373.32 550.79 L373.75 550.79 L374.18 550.78 L374.62 550.78 L375.05 550.77 L375.48 550.77 L375.91 550.77 L376.34 550.76 L376.78 550.76 L377.21 550.75 L377.64 550.75 L378.07 550.75 L378.51 550.74 L378.94 550.74 L379.37 550.73 L379.8 550.73 L380.23 550.72 L380.67 550.72 L381.1 550.72 L381.53 550.71 L381.96 550.71 L382.39 550.7 L382.83 550.7 L383.26 550.7 L383.69 550.69 L384.12 550.69 L384.55 550.68 L384.99 550.68 L385.42 550.68 L385.85 550.67 L386.28 550.67 L386.71 550.67 L387.15 550.66 L387.58 550.66 L388.01 550.65 L388.44 550.65 L388.87 550.65 L389.31 550.64 L389.74 550.64 L390.17 550.63 L390.6 550.63 L391.03 550.63 L391.47 550.62 L391.9 550.62 L392.33 550.62 L392.76 550.61 L393.19 550.61 L393.63 550.61 L394.06 550.6 L394.49 550.6 L394.92 550.59 L395.35 550.59 L395.79 550.59 L396.22 550.58 L396.65 550.58 L397.08 550.58 L397.52 550.57 L397.95 550.57 L398.38 550.57 L398.81 550.56 L399.24 550.56 L399.68 550.55 L400.11 550.55 L400.54 550.55 L400.97 550.54 L401.4 550.54 L401.84 550.54 L402.27 550.53 L402.7 550.53 L403.13 550.53 L403.56 550.52 L404 550.52 L404.43 550.52 L404.86 550.51 L405.29 550.51 L405.72 550.51 L406.16 550.5 L406.59 550.5 L407.02 550.5 L407.45 550.49 L407.88 550.49 L408.32 550.49 L408.75 550.48 L409.18 550.48 L409.61 550.48 L410.04 550.47 L410.48 550.47 L410.91 550.47 L411.34 550.46 L411.77 550.46 L412.2 550.46 L412.64 550.46 L413.07 550.45 L413.5 550.45 L413.93 550.45 L414.36 550.44 L414.8 550.44 L415.23 550.44 L415.66 550.43 L416.09 550.43 L416.53 550.43 L416.96 550.42 L417.39 550.42 L417.82 550.42 L418.25 550.42 L418.69 550.41 L419.12 550.41 L419.55 550.41 L419.98 550.4 L420.41 550.4 L420.85 550.4 L421.28 550.39 L421.71 550.39 L422.14 550.39 L422.57 550.39 L423.01 550.38 L423.44 550.38 L423.87 550.38 L424.3 550.37 L424.73 550.37 L425.17 550.37 L425.6 550.37 L426.03 550.36 L426.46 550.36 L426.89 550.36 L427.33 550.36 L427.76 550.35 L428.19 550.35 L428.62 550.35 L429.05 550.34 L429.49 550.34 L429.92 550.34 L430.35 550.34 L430.78 550.33 L431.21 550.33 L431.65 550.33 L432.08 550.33 L432.51 550.32 L432.94 550.32 L433.37 550.32 L433.81 550.32 L434.24 550.31 L434.67 550.31 L435.1 550.31 L435.54 550.3 L435.97 550.3 L436.4 550.3 L436.83 550.3 L437.26 550.29 L437.7 550.29 L438.13 550.29 L438.56 550.29 L438.99 550.29 L439.42 550.28 L439.86 550.28 L440.29 550.28 L440.72 550.28 L441.15 550.27 L441.58 550.27 L442.02 550.27 L442.45 550.27 L442.88 550.26 L443.31 550.26 L443.74 550.26 L444.18 550.26 L444.61 550.25 L445.04 550.25 L445.47 550.25 L445.9 550.25 L446.34 550.25 L446.77 550.24 L447.2 550.24 L447.63 550.24 L448.06 550.24 L448.5 550.23 L448.93 550.23 L449.36 550.23 L449.79 550.23 L450.22 550.23 L450.66 550.22 L451.09 550.22 L451.52 550.22 L451.95 550.22 L452.38 550.21 L452.82 550.21 L453.25 550.21 L453.68 550.21 L454.11 550.21 L454.55 550.2 L454.98 550.2 L455.41 550.2 L455.84 550.2 L456.27 550.2 L456.71 550.19 L457.14 550.19 L457.57 550.19 L458 550.19 L458.43 550.19 L458.87 550.18 L459.3 550.18 L459.73 550.18 L460.16 550.18 L460.59 550.18 L461.03 550.18 L461.46 550.17 L461.89 550.17 L462.32 550.17 L462.75 550.17 L463.19 550.17 L463.62 550.16 L464.05 550.16 L464.48 550.16 L464.91 550.16 L465.35 550.16 L465.78 550.15 L466.21 550.15 L466.64 550.15 L467.07 550.15 L467.51 550.15 L467.94 550.15 L468.37 550.14 L468.8 550.14 L469.23 550.14 L469.67 550.14 L470.1 550.14 L470.53 550.14 L470.96 550.13 L471.39 550.13 L471.83 550.13 L472.26 550.13 L472.69 550.13 L473.12 550.13 L473.56 550.12 L473.99 550.12 L474.42 550.12 L474.85 550.12 L475.28 550.12 L475.72 550.11 L476.15 550.11 L476.58 550.11 L477.01 550.11 L477.44 550.1 L477.88 550.1 L478.31 550.1 L478.74 550.09 L479.17 550.09 L479.6 550.08 L480.04 550.08 L480.47 550.07 L480.9 550.06 L481.33 550.05 L481.76 550.04 L482.2 550.03 L482.63 550.01 L483.06 550 L483.49 549.98 L483.92 549.96 L484.36 549.93 L484.79 549.9 L485.22 549.87 L485.65 549.83 L486.08 549.78 L486.52 549.73 L486.95 549.67 L487.38 549.6 L487.81 549.52 L488.24 549.43 L488.68 549.33 L489.11 549.21 L489.54 549.08 L489.97 548.93 L490.4 548.77 L490.84 548.58 L491.27 548.38 L491.7 548.15 L492.13 547.89 L492.57 547.61 L493 547.3 L493.43 546.96 L493.86 546.58 L494.29 546.17 L494.73 545.72 L495.16 545.24 L495.59 544.71 L496.02 544.14 L496.45 543.52 L496.89 542.86 L497.32 542.15 L497.75 541.4 L498.18 540.59 L498.61 539.74 L499.05 538.84 L499.48 537.9 L499.91 536.9 L500.34 535.86 L500.77 534.78 L501.21 533.66 L501.64 532.5 L502.07 531.3 L502.5 530.07 L502.93 528.82 L503.37 527.55 L503.8 526.26 L504.23 524.95 L504.66 523.65 L505.09 522.35 L505.53 521.05 L505.96 519.78 L506.39 518.52 L506.82 517.3 L507.25 516.12 L507.69 514.98 L508.12 513.89 L508.55 512.87 L508.98 511.91 L509.41 511.03 L509.85 510.23 L510.28 509.52 L510.71 508.89 L511.14 508.36 L511.58 507.94 L512.01 507.61 L512.44 507.39 L512.87 507.28 L513.3 507.28 L513.74 507.38 L514.17 507.59 L514.6 507.91 L515.03 508.33 L515.46 508.85 L515.9 509.47 L516.33 510.18 L516.76 510.97 L517.19 511.85 L517.62 512.8 L518.06 513.82 L518.49 514.9 L518.92 516.03 L519.35 517.21 L519.78 518.43 L520.22 519.68 L520.65 520.95 L521.08 522.24 L521.51 523.55 L521.94 524.85 L522.38 526.15 L522.81 527.44 L523.24 528.71 L523.67 529.96 L524.1 531.19 L524.54 532.38 L524.97 533.54 L525.4 534.67 L525.83 535.75 L526.26 536.79 L526.7 537.78 L527.13 538.73 L527.56 539.63 L527.99 540.48 L528.42 541.28 L528.86 542.04 L529.29 542.74 L529.72 543.4 L530.15 544.02 L530.59 544.59 L531.02 545.12 L531.45 545.6 L531.88 546.05 L532.31 546.46 L532.75 546.84 L533.18 547.18 L533.61 547.49 L534.04 547.77 L534.47 548.02 L534.91 548.25 L535.34 548.45 L535.77 548.63 L536.2 548.8 L536.63 548.94 L537.07 549.07 L537.5 549.18 L537.93 549.28 L538.36 549.37 L538.79 549.44 L539.23 549.51 L539.66 549.57 L540.09 549.62 L540.52 549.66 L540.95 549.7 L541.39 549.73 L541.82 549.76 L542.25 549.78 L542.68 549.8 L543.11 549.81 L543.55 549.83 L543.98 549.84 L544.41 549.85 L544.84 549.85 L545.27 549.86 L545.71 549.86 L546.14 549.87 L546.57 549.87 L547 549.87 L547.43 549.87 L547.87 549.87 L548.3 549.87 L548.73 549.87 L549.16 549.86 L549.6 549.86 L550.03 549.86 L550.46 549.86 L550.89 549.85 L551.32 549.85 L551.76 549.85 L552.19 549.84 L552.62 549.84 L553.05 549.84 L553.48 549.83 L553.92 549.83 L554.35 549.82 L554.78 549.82 L555.21 549.81 L555.64 549.81 L556.08 549.81 L556.51 549.8 L556.94 549.8 L557.37 549.79 L557.8 549.78 L558.24 549.78 L558.67 549.77 L559.1 549.77 L559.53 549.76 L559.96 549.75 L560.4 549.75 L560.83 549.74 L561.26 549.73 L561.69 549.73 L562.12 549.72 L562.56 549.71 L562.99 549.7 L563.42 549.69 L563.85 549.69 L564.28 549.68 L564.72 549.67 L565.15 549.66 L565.58 549.65 L566.01 549.64 L566.44 549.63 L566.88 549.62 L567.31 549.6 L567.74 549.59 L568.17 549.58 L568.61 549.57 L569.04 549.55 L569.47 549.54 L569.9 549.53 L570.33 549.51 L570.77 549.5 L571.2 549.48 L571.63 549.46 L572.06 549.45 L572.49 549.43 L572.93 549.41 L573.36 549.39 L573.79 549.37 L574.22 549.35 L574.65 549.32 L575.09 549.3 L575.52 549.27 L575.95 549.25 L576.38 549.22 L576.81 549.19 L577.25 549.16 L577.68 549.12 L578.11 549.08 L578.54 549.04 L578.97 549 L579.41 548.95 L579.84 548.9 L580.27 548.84 L580.7 548.78 L581.13 548.71 L581.57 548.63 L582 548.54 L582.43 548.45 L582.86 548.34 L583.29 548.22 L583.73 548.09 L584.16 547.94 L584.59 547.78 L585.02 547.59 L585.45 547.38 L585.89 547.15 L586.32 546.89 L586.75 546.61 L587.18 546.29 L587.62 545.93 L588.05 545.54 L588.48 545.1 L588.91 544.62 L589.34 544.1 L589.78 543.52 L590.21 542.89 L590.64 542.21 L591.07 541.47 L591.5 540.66 L591.94 539.8 L592.37 538.87 L592.8 537.88 L593.23 536.83 L593.66 535.71 L594.1 534.53 L594.53 533.29 L594.96 532 L595.39 530.65 L595.82 529.25 L596.26 527.81 L596.69 526.33 L597.12 524.82 L597.55 523.29 L597.98 521.75 L598.42 520.2 L598.85 518.67 L599.28 517.16 L599.71 515.68 L600.14 514.25 L600.58 512.89 L601.01 511.61 L601.44 510.42 L601.87 509.34 L602.3 508.38 L602.74 507.57 L603.17 506.91 L603.6 506.41 L604.03 506.08 L604.46 505.93 L604.9 505.96 L605.33 506.17 L605.76 506.56 L606.19 507.11 L606.63 507.83 L607.06 508.69 L607.49 509.69 L607.92 510.81 L608.35 512.04 L608.79 513.36 L609.22 514.75 L609.65 516.19 L610.08 517.69 L610.51 519.21 L610.95 520.76 L611.38 522.31 L611.81 523.85 L612.24 525.38 L612.67 526.89 L613.11 528.36 L613.54 529.79 L613.97 531.18 L614.4 532.52 L614.83 533.81 L615.27 535.03 L615.7 536.2 L616.13 537.3 L616.56 538.34 L616.99 539.31 L617.43 540.23 L617.86 541.08 L618.29 541.86 L618.72 542.59 L619.15 543.27 L619.59 543.88 L620.02 544.45 L620.45 544.96 L620.88 545.43 L621.31 545.86 L621.75 546.25 L622.18 546.6 L622.61 546.91 L623.04 547.19 L623.47 547.45 L623.91 547.68 L624.34 547.88 L624.77 548.07 L625.2 548.23 L625.64 548.38 L626.07 548.51 L626.5 548.63 L626.93 548.74 L627.36 548.84 L627.8 548.93 L628.23 549.01 L628.66 549.08 L629.09 549.15 L629.52 549.21 L629.96 549.26 L630.39 549.32 L630.82 549.36 L631.25 549.41 L631.68 549.45 L632.12 549.49 L632.55 549.53 L632.98 549.56 L633.41 549.6 L633.84 549.63 L634.28 549.66 L634.71 549.69 L635.14 549.71 L635.57 549.74 L636 549.77 L636.44 549.79 L636.87 549.81 L637.3 549.84 L637.73 549.86 L638.16 549.88 L638.6 549.9 L639.03 549.92 L639.46 549.94 L639.89 549.96 L640.32 549.98 L640.76 550 L641.19 550.01 L641.62 550.03 L642.05 550.05 L642.48 550.07 L642.92 550.08 L643.35 550.1 L643.78 550.11 L644.21 550.13 L644.65 550.14 L645.08 550.16 L645.51 550.17 L645.94 550.18 L646.37 550.2 L646.81 550.21 L647.24 550.22 L647.67 550.24 L648.1 550.25 L648.53 550.26 L648.97 550.27 L649.4 550.28 L649.83 550.29 L650.26 550.31 L650.69 550.32 L651.13 550.33 L651.56 550.34 L651.99 550.35 L652.42 550.36 L652.85 550.37 L653.29 550.38 L653.72 550.39 L654.15 550.4 L654.58 550.41 L655.01 550.42 L655.45 550.43 L655.88 550.44 L656.31 550.45 L656.74 550.46 L657.17 550.47 L657.61 550.47 L658.04 550.48 L658.47 550.49 L658.9 550.5 L659.33 550.51 L659.77 550.52 L660.2 550.53 L660.63 550.53 L661.06 550.54 L661.49 550.55 L661.93 550.56 L662.36 550.57 L662.79 550.57 L663.22 550.58 L663.66 550.59 L664.09 550.6 L664.52 550.61 L664.95 550.61 L665.38 550.62 L665.82 550.63 L666.25 550.64 L666.68 550.64 L667.11 550.65 L667.54 550.66 L667.98 550.67 L668.41 550.67 L668.84 550.68 L669.27 550.69 L669.7 550.69 L670.14 550.7 L670.57 550.71 L671 550.71" fill="none" stroke="#cf3a3e" stroke-width="1.4"/>
<path d="M369 567.34 L369.43 567.34 L369.86 567.34 L370.3 567.34 L370.73 567.34 L371.16 567.34 L371.59 567.34 L372.02 567.34 L372.46 567.34 L372.89 567.34 L373.32 567.34 L373.75 567.34 L374.18 567.34 L374.62 567.34 L375.05 567.34 L375.48 567.34 L375.91 567.34 L376.34 567.34 L376.78 567.34 L377.21 567.34 L377.64 567.34 L378.07 567.34 L378.51 567.34 L378.94 567.34 L379.37 567.34 L379.8 567.35 L380.23 567.35 L380.67 567.35 L381.1 567.35 L381.53 567.35 L381.96 567.35 L382.39 567.35 L382.83 567.35 L383.26 567.35 L383.69 567.35 L384.12 567.35 L384.55 567.35 L384.99 567.35 L385.42 567.35 L385.85 567.35 L386.28 567.35 L386.71 567.35 L387.15 567.35 L387.58 567.35 L388.01 567.35 L388.44 567.35 L388.87 567.35 L389.31 567.35 L389.74 567.35 L390.17 567.35 L390.6 567.36 L391.03 567.36 L391.47 567.36 L391.9 567.36 L392.33 567.36 L392.76 567.36 L393.19 567.36 L393.63 567.36 L394.06 567.36 L394.49 567.36 L394.92 567.36 L395.35 567.36 L395.79 567.36 L396.22 567.36 L396.65 567.36 L397.08 567.36 L397.52 567.37 L397.95 567.37 L398.38 567.37 L398.81 567.37 L399.24 567.37 L399.68 567.37 L400.11 567.37 L400.54 567.37 L400.97 567.37 L401.4 567.37 L401.84 567.37 L402.27 567.37 L402.7 567.38 L403.13 567.38 L403.56 567.38 L404 567.38 L404.43 567.38 L404.86 567.38 L405.29 567.38 L405.72 567.38 L406.16 567.38 L406.59 567.38 L407.02 567.38 L407.45 567.39 L407.88 567.39 L408.32 567.39 L408.75 567.39 L409.18 567.39 L409.61 567.39 L410.04 567.39 L410.48 567.39 L410.91 567.39 L411.34 567.4 L411.77 567.4 L412.2 567.4 L412.64 567.4 L413.07 567.4 L413.5 567.4 L413.93 567.4 L414.36 567.41 L414.8 567.41 L415.23 567.41 L415.66 567.41 L416.09 567.41 L416.53 567.41 L416.96 567.41 L417.39 567.42 L417.82 567.42 L418.25 567.42 L418.69 567.42 L419.12 567.42 L419.55 567.42 L419.98 567.43 L420.41 567.43 L420.85 567.43 L421.28 567.43 L421.71 567.43 L422.14 567.43 L422.57 567.44 L423.01 567.44 L423.44 567.44 L423.87 567.44 L424.3 567.44 L424.73 567.45 L425.17 567.45 L425.6 567.45 L426.03 567.45 L426.46 567.45 L426.89 567.46 L427.33 567.46 L427.76 567.46 L428.19 567.46 L428.62 567.47 L429.05 567.47 L429.49 567.47 L429.92 567.47 L430.35 567.47 L430.78 567.48 L431.21 567.48 L431.65 567.48 L432.08 567.49 L432.51 567.49 L432.94 567.49 L433.37 567.49 L433.81 567.5 L434.24 567.5 L434.67 567.5 L435.1 567.51 L435.54 567.51 L435.97 567.51 L436.4 567.51 L436.83 567.52 L437.26 567.52 L437.7 567.52 L438.13 567.53 L438.56 567.53 L438.99 567.53 L439.42 567.54 L439.86 567.54 L440.29 567.55 L440.72 567.55 L441.15 567.55 L441.58 567.56 L442.02 567.56 L442.45 567.56 L442.88 567.57 L443.31 567.57 L443.74 567.58 L444.18 567.58 L444.61 567.59 L445.04 567.59 L445.47 567.6 L445.9 567.6 L446.34 567.6 L446.77 567.61 L447.2 567.61 L447.63 567.62 L448.06 567.62 L448.5 567.63 L448.93 567.64 L449.36 567.64 L449.79 567.65 L450.22 567.65 L450.66 567.66 L451.09 567.66 L451.52 567.67 L451.95 567.68 L452.38 567.68 L452.82 567.69 L453.25 567.69 L453.68 567.7 L454.11 567.71 L454.55 567.72 L454.98 567.72 L455.41 567.73 L455.84 567.74 L456.27 567.74 L456.71 567.75 L457.14 567.76 L457.57 567.77 L458 567.78 L458.43 567.79 L458.87 567.79 L459.3 567.8 L459.73 567.81 L460.16 567.82 L460.59 567.83 L461.03 567.84 L461.46 567.85 L461.89 567.86 L462.32 567.87 L462.75 567.88 L463.19 567.89 L463.62 567.9 L464.05 567.91 L464.48 567.93 L464.91 567.94 L465.35 567.95 L465.78 567.96 L466.21 567.98 L466.64 567.99 L467.07 568 L467.51 568.02 L467.94 568.03 L468.37 568.05 L468.8 568.06 L469.23 568.08 L469.67 568.09 L470.1 568.11 L470.53 568.13 L470.96 568.14 L471.39 568.16 L471.83 568.18 L472.26 568.2 L472.69 568.22 L473.12 568.24 L473.56 568.26 L473.99 568.28 L474.42 568.3 L474.85 568.33 L475.28 568.35 L475.72 568.37 L476.15 568.4 L476.58 568.43 L477.01 568.45 L477.44 568.48 L477.88 568.51 L478.31 568.54 L478.74 568.57 L479.17 568.6 L479.6 568.63 L480.04 568.67 L480.47 568.7 L480.9 568.74 L481.33 568.77 L481.76 568.81 L482.2 568.85 L482.63 568.9 L483.06 568.94 L483.49 568.98 L483.92 569.03 L484.36 569.08 L484.79 569.13 L485.22 569.18 L485.65 569.24 L486.08 569.3 L486.52 569.36 L486.95 569.42 L487.38 569.48 L487.81 569.55 L488.24 569.62 L488.68 569.7 L489.11 569.78 L489.54 569.86 L489.97 569.95 L490.4 570.04 L490.84 570.13 L491.27 570.23 L491.7 570.34 L492.13 570.45 L492.57 570.56 L493 570.68 L493.43 570.81 L493.86 570.95 L494.29 571.09 L494.73 571.25 L495.16 571.41 L495.59 571.58 L496.02 571.76 L496.45 571.96 L496.89 572.17 L497.32 572.39 L497.75 572.63 L498.18 572.88 L498.61 573.16 L499.05 573.46 L499.48 573.78 L499.91 574.13 L500.34 574.51 L500.77 574.92 L501.21 575.38 L501.64 575.88 L502.07 576.44 L502.5 577.05 L502.93 577.73 L503.37 578.49 L503.8 579.33 L504.23 580.27 L504.66 581.32 L505.09 582.48 L505.53 583.78 L505.96 585.23 L506.39 586.83 L506.82 588.61 L507.25 590.58 L507.69 592.74 L508.12 595.11 L508.55 597.69 L508.98 600.49 L509.41 603.52 L509.85 606.75 L510.28 610.19 L510.71 613.8 L511.14 617.54 L511.58 621.37 L512.01 625.19 L512.44 628.92 L512.87 632.42 L513.3 635.57 L513.74 638.21 L514.17 640.21 L514.6 641.44 L515.03 641.82 L515.46 641.34 L515.9 640.02 L516.33 637.95 L516.76 635.25 L517.19 632.07 L517.62 628.54 L518.06 624.81 L518.49 621 L518.92 617.2 L519.35 613.49 L519.78 609.91 L520.22 606.52 L520.65 603.33 L521.08 600.35 L521.51 597.59 L521.94 595.05 L522.38 592.73 L522.81 590.61 L523.24 588.69 L523.67 586.95 L524.1 585.39 L524.54 583.98 L524.97 582.72 L525.4 581.59 L525.83 580.58 L526.26 579.67 L526.7 578.87 L527.13 578.14 L527.56 577.49 L527.99 576.91 L528.42 576.39 L528.86 575.92 L529.29 575.5 L529.72 575.11 L530.15 574.77 L530.59 574.45 L531.02 574.16 L531.45 573.9 L531.88 573.66 L532.31 573.45 L532.75 573.25 L533.18 573.07 L533.61 572.9 L534.04 572.75 L534.47 572.62 L534.91 572.5 L535.34 572.4 L535.77 572.31 L536.2 572.23 L536.63 572.17 L537.07 572.12 L537.5 572.09 L537.93 572.07 L538.36 572.07 L538.79 572.1 L539.23 572.14 L539.66 572.21 L540.09 572.31 L540.52 572.44 L540.95 572.6 L541.39 572.8 L541.82 573.04 L542.25 573.33 L542.68 573.67 L543.11 574.07 L543.55 574.54 L543.98 575.07 L544.41 575.69 L544.84 576.39 L545.27 577.18 L545.71 578.07 L546.14 579.06 L546.57 580.17 L547 581.38 L547.43 582.72 L547.87 584.18 L548.3 585.76 L548.73 587.47 L549.16 589.3 L549.6 591.26 L550.03 593.32 L550.46 595.5 L550.89 597.77 L551.32 600.13 L551.76 602.56 L552.19 605.05 L552.62 607.57 L553.05 610.11 L553.48 612.64 L553.92 615.13 L554.35 617.56 L554.78 619.89 L555.21 622.1 L555.64 624.15 L556.08 626 L556.51 627.64 L556.94 629.02 L557.37 630.11 L557.8 630.91 L558.24 631.38 L558.67 631.51 L559.1 631.31 L559.53 630.78 L559.96 629.93 L560.4 628.78 L560.83 627.34 L561.26 625.65 L561.69 623.75 L562.12 621.65 L562.56 619.39 L562.99 617.02 L563.42 614.55 L563.85 612.01 L564.28 609.45 L564.72 606.87 L565.15 604.31 L565.58 601.79 L566.01 599.32 L566.44 596.93 L566.88 594.62 L567.31 592.41 L567.74 590.31 L568.17 588.33 L568.61 586.46 L569.04 584.71 L569.47 583.09 L569.9 581.59 L570.33 580.22 L570.77 578.96 L571.2 577.81 L571.63 576.77 L572.06 575.83 L572.49 574.99 L572.93 574.24 L573.36 573.57 L573.79 572.97 L574.22 572.44 L574.65 571.98 L575.09 571.56 L575.52 571.2 L575.95 570.89 L576.38 570.61 L576.81 570.36 L577.25 570.15 L577.68 569.96 L578.11 569.8 L578.54 569.65 L578.97 569.52 L579.41 569.41 L579.84 569.31 L580.27 569.21 L580.7 569.13 L581.13 569.06 L581.57 568.99 L582 568.93 L582.43 568.87 L582.86 568.82 L583.29 568.77 L583.73 568.72 L584.16 568.68 L584.59 568.64 L585.02 568.6 L585.45 568.56 L585.89 568.53 L586.32 568.49 L586.75 568.46 L587.18 568.43 L587.62 568.4 L588.05 568.38 L588.48 568.35 L588.91 568.32 L589.34 568.3 L589.78 568.27 L590.21 568.25 L590.64 568.23 L591.07 568.21 L591.5 568.19 L591.94 568.17 L592.37 568.15 L592.8 568.13 L593.23 568.11 L593.66 568.09 L594.1 568.08 L594.53 568.06 L594.96 568.05 L595.39 568.03 L595.82 568.02 L596.26 568 L596.69 567.99 L597.12 567.97 L597.55 567.96 L597.98 567.95 L598.42 567.94 L598.85 567.92 L599.28 567.91 L599.71 567.9 L600.14 567.89 L600.58 567.88 L601.01 567.87 L601.44 567.86 L601.87 567.85 L602.3 567.84 L602.74 567.83 L603.17 567.82 L603.6 567.81 L604.03 567.8 L604.46 567.79 L604.9 567.78 L605.33 567.78 L605.76 567.77 L606.19 567.76 L606.63 567.75 L607.06 567.75 L607.49 567.74 L607.92 567.73 L608.35 567.73 L608.79 567.72 L609.22 567.71 L609.65 567.71 L610.08 567.7 L610.51 567.69 L610.95 567.69 L611.38 567.68 L611.81 567.68 L612.24 567.67 L612.67 567.67 L613.11 567.66 L613.54 567.66 L613.97 567.65 L614.4 567.65 L614.83 567.64 L615.27 567.64 L615.7 567.63 L616.13 567.63 L616.56 567.62 L616.99 567.62 L617.43 567.61 L617.86 567.61 L618.29 567.61 L618.72 567.6 L619.15 567.6 L619.59 567.59 L620.02 567.59 L620.45 567.59 L620.88 567.58 L621.31 567.58 L621.75 567.58 L622.18 567.57 L622.61 567.57 L623.04 567.57 L623.47 567.56 L623.91 567.56 L624.34 567.56 L624.77 567.55 L625.2 567.55 L625.64 567.55 L626.07 567.55 L626.5 567.54 L626.93 567.54 L627.36 567.54 L627.8 567.54 L628.23 567.53 L628.66 567.53 L629.09 567.53 L629.52 567.53 L629.96 567.52 L630.39 567.52 L630.82 567.52 L631.25 567.52 L631.68 567.51 L632.12 567.51 L632.55 567.51 L632.98 567.51 L633.41 567.51 L633.84 567.5 L634.28 567.5 L634.71 567.5 L635.14 567.5 L635.57 567.5 L636 567.49 L636.44 567.49 L636.87 567.49 L637.3 567.49 L637.73 567.49 L638.16 567.49 L638.6 567.48 L639.03 567.48 L639.46 567.48 L639.89 567.48 L640.32 567.48 L640.76 567.48 L641.19 567.47 L641.62 567.47 L642.05 567.47 L642.48 567.47 L642.92 567.47 L643.35 567.47 L643.78 567.47 L644.21 567.47 L644.65 567.46 L645.08 567.46 L645.51 567.46 L645.94 567.46 L646.37 567.46 L646.81 567.46 L647.24 567.46 L647.67 567.46 L648.1 567.46 L648.53 567.45 L648.97 567.45 L649.4 567.45 L649.83 567.45 L650.26 567.45 L650.69 567.45 L651.13 567.45 L651.56 567.45 L651.99 567.45 L652.42 567.45 L652.85 567.45 L653.29 567.44 L653.72 567.44 L654.15 567.44 L654.58 567.44 L655.01 567.44 L655.45 567.44 L655.88 567.44 L656.31 567.44 L656.74 567.44 L657.17 567.44 L657.61 567.44 L658.04 567.44 L658.47 567.44 L658.9 567.44 L659.33 567.43 L659.77 567.43 L660.2 567.43 L660.63 567.43 L661.06 567.43 L661.49 567.43 L661.93 567.43 L662.36 567.43 L662.79 567.43 L663.22 567.43 L663.66 567.43 L664.09 567.43 L664.52 567.43 L664.95 567.43 L665.38 567.43 L665.82 567.43 L666.25 567.43 L666.68 567.43 L667.11 567.43 L667.54 567.43 L667.98 567.43 L668.41 567.43 L668.84 567.43 L669.27 567.42 L669.7 567.42 L670.14 567.42 L670.57 567.42 L671 567.42" fill="none" stroke="#1f24f2" stroke-width="1.4"/>
<path d="M369 558.36v5.4M369.59 556.77v5.4M370.18 557.55v5.4M370.77 557.33v5.4M371.36 556.73v5.4M371.95 557.32v5.4M372.55 556.17v5.4M373.14 556.89v5.4M373.73 557.52v5.4M374.32 559.93v5.4M374.91 557.23v5.4M375.5 556.89v5.4M376.09 556.16v5.4M376.68 557.97v5.4M377.27 555.83v5.4M377.86 556.56v5.4M378.46 557.4v5.4M379.05 555.85v5.4M379.64 557.96v5.4M380.23 557.4v5.4M380.82 556.29v5.4M381.41 556.38v5.4M382 555.48v5.4M382.59 555.11v5.4M383.18 555.9v5.4M383.77 555.77v5.4M384.37 555.68v5.4M384.96 555.94v5.4M385.55 555.85v5.4M386.14 556.93v5.4M386.73 555.54v5.4M387.32 556.58v5.4M387.91 557.62v5.4M388.5 557.24v5.4M389.09 555.76v5.4M389.68 556.16v5.4M390.28 557.56v5.4M390.87 558.22v5.4M391.46 555.83v5.4M392.05 556.64v5.4M392.64 557.34v5.4M393.23 558.15v5.4M393.82 556.57v5.4M394.41 557.83v5.4M395 557.07v5.4M395.59 559.43v5.4M396.19 557.91v5.4M396.78 557.4v5.4M397.37 557.13v5.4M397.96 557.96v5.4M398.55 557.57v5.4M399.14 556.37v5.4M399.73 557.87v5.4M400.32 556.79v5.4M400.91 557.36v5.4M401.5 556.8v5.4M402.1 556.25v5.4M402.69 556.6v5.4M403.28 556.24v5.4M403.87 557.36v5.4M404.46 557.65v5.4M405.05 556.63v5.4M405.64 555.59v5.4M406.23 556.88v5.4M406.82 554.49v5.4M407.41 554.65v5.4M408.01 556.89v5.4M408.6 557.02v5.4M409.19 557.33v5.4M409.78 556.53v5.4M410.37 556v5.4M410.96 556.66v5.4M411.55 557.51v5.4M412.14 556.29v5.4M412.73 556.09v5.4M413.32 555.53v5.4M413.92 555.8v5.4M414.51 557.22v5.4M415.1 556.53v5.4M415.69 554.58v5.4M416.28 554.3v5.4M416.87 554.82v5.4M417.46 556.21v5.4M418.05 555.58v5.4M418.64 556.84v5.4M419.23 555.43v5.4M419.83 556.17v5.4M420.42 557.45v5.4M421.01 557.53v5.4M421.6 555.64v5.4M422.19 555.76v5.4M422.78 556.79v5.4M423.37 556.05v5.4M423.96 556.13v5.4M424.55 556.93v5.4M425.14 556.8v5.4M425.74 557.47v5.4M426.33 557.14v5.4M426.92 555.89v5.4M427.51 555.81v5.4M428.1 555.27v5.4M428.69 553.61v5.4M429.28 553.89v5.4M429.87 555.7v5.4M430.46 554.04v5.4M431.05 556.83v5.4M431.65 556.59v5.4M432.24 556.33v5.4M432.83 557.18v5.4M433.42 556.98v5.4M434.01 557.3v5.4M434.6 555.81v5.4M435.19 555.34v5.4M435.78 555.18v5.4M436.37 556.87v5.4M436.96 556.19v5.4M437.56 554.94v5.4M438.15 555.38v5.4M438.74 555.14v5.4M439.33 555.94v5.4M439.92 556.33v5.4M440.51 558.16v5.4M441.1 554.9v5.4M441.69 556.99v5.4M442.28 556.26v5.4M442.87 555.38v5.4M443.47 556.07v5.4M444.06 556.07v5.4M444.65 556.88v5.4M445.24 557.98v5.4M445.83 555.86v5.4M446.42 558.06v5.4M447.01 556.45v5.4M447.6 557.51v5.4M448.19 556.52v5.4M448.78 557.15v5.4M449.38 556.8v5.4M449.97 557.56v5.4M450.56 557v5.4M451.15 556.38v5.4M451.74 557.57v5.4M452.33 557.4v5.4M452.92 558.27v5.4M453.51 554.96v5.4M454.1 556.33v5.4M454.69 557.31v5.4M455.29 555.22v5.4M455.88 555.72v5.4M456.47 557.33v5.4M457.06 556.64v5.4M457.65 554.96v5.4M458.24 556.92v5.4M458.83 556.8v5.4M459.42 556.32v5.4M460.01 555.93v5.4M460.6 555.79v5.4M461.2 555.03v5.4M461.79 555.58v5.4M462.38 556.64v5.4M462.97 556.11v5.4M463.56 557.21v5.4M464.15 555.25v5.4M464.74 553.48v5.4M465.33 555.31v5.4M465.92 556.08v5.4M466.51 556.51v5.4M467.11 556.52v5.4M467.7 555.94v5.4M468.29 557.98v5.4M468.88 556.23v5.4M469.47 557.3v5.4M470.06 556.42v5.4M470.65 555.42v5.4M471.24 557.36v5.4M471.83 554.23v5.4M472.42 555.64v5.4M473.02 556.86v5.4M473.61 556.23v5.4M474.2 556.88v5.4M474.79 555.83v5.4M475.38 555.3v5.4M475.97 557.38v5.4M476.56 555.55v5.4M477.15 555.84v5.4M477.74 555.06v5.4M478.33 555.23v5.4M478.93 556.43v5.4M479.52 556.43v5.4M480.11 556.29v5.4M480.7 556.06v5.4M481.29 557.07v5.4M481.88 554.91v5.4M482.47 555.59v5.4M483.06 555.21v5.4M483.65 554.56v5.4M484.24 555.21v5.4M484.84 554.43v5.4M485.43 554.2v5.4M486.02 556.29v5.4M486.61 555.53v5.4M487.2 555.86v5.4M487.79 554.77v5.4M488.38 554.87v5.4M488.97 553.95v5.4M489.56 553.83v5.4M490.15 554.52v5.4M490.75 552.55v5.4M491.34 553.23v5.4M491.93 552.93v5.4M492.52 550.4v4.2M493.11 551.55v4.2M493.7 551.91v4.2M494.29 551.91v4.2M494.88 550.6v4.2M495.47 551.89v4.2M496.06 552.2v4.2M496.66 550.64v4.2M497.25 551.99v4.2M497.84 551.67v4.2M498.43 549.69v4.2M499.02 547.77v4.2M499.61 548.81v4.2M500.2 546.87v4.2M500.79 546.28v4.2M501.38 546.16v4.2M501.97 545.16v4.2M502.57 545.78v4.2M503.16 544.77v4.2M503.75 544.37v4.2M504.34 543.23v4.2M504.93 541.79v4.2M505.52 542.14v4.2M506.11 543.46v4.2M506.7 543.07v4.2M514.98 594.47v4.2M521.48 555.58v4.2M522.07 555.48v4.2M522.66 556.11v4.2M523.25 555.29v4.2M523.84 553.62v4.2M524.43 555.85v4.2M525.02 555.2v4.2M525.61 555.2v4.2M526.21 556.11v4.2M526.8 555.59v4.2M527.39 555.12v4.2M527.98 556.16v4.2M528.57 555.78v4.2M529.16 555.47v4.2M529.75 555.93v4.2M530.34 556.63v3.2M530.93 556.4v3.2M531.52 556.46v3.2M532.12 556.63v3.2M532.71 555.86v3.2M533.3 555.65v3.2M533.89 557.82v3.2M534.48 556.79v3.2M535.07 556.88v3.2M535.66 556.5v3.2M536.25 556.43v3.2M536.84 556.22v3.2M537.43 556.16v3.2M538.03 555.61v3.2M538.62 557.01v3.2M539.21 555.92v3.2M539.8 557.8v3.2M540.39 556.08v3.2M540.98 557.34v3.2M541.57 559.31v3.2M542.16 558.5v3.2M542.75 558.09v3.2M543.34 559.4v3.2M543.94 558.99v3.2M544.53 560.94v3.2M558.12 621.99v3.2M558.71 623.52v3.2M559.3 621.65v3.2M573.49 559.18v3.2M574.08 557.8v3.2M574.67 555.86v3.2M575.26 557.18v3.2M575.85 557.77v3.2M576.44 556.42v3.2M577.03 557.08v3.2M577.62 556.19v3.2M578.21 555.51v3.2M578.8 554.29v3.2M579.4 553.79v3.2M579.99 553.61v3.2M580.58 553.7v3.2M581.17 554.31v3.2M581.76 554.07v3.2M582.35 553.42v3.2M582.94 553.61v3.2M583.53 553.51v3.2M584.12 552.07v3.2M584.71 552.88v3.2M585.31 552.51v3.2M585.9 552.44v3.2M586.49 551.38v3.2M587.08 550.41v3.2M587.67 549.24v3.2M588.26 550v3.2M588.85 549.16v3.2M589.44 546.71v3.2M590.03 546.51v4.2M603.04 511.28v4.2M603.63 511.07v4.2M604.22 511.57v4.2M604.81 511.99v4.2M605.4 512.16v4.2M618.99 546.86v4.2M619.58 547.86v4.2M620.17 549.61v5.4M620.77 550.15v5.4M621.36 549.29v5.4M621.95 550.01v5.4M622.54 552.49v5.4M623.13 551.16v5.4M623.72 552.82v5.4M624.31 553.55v5.4M624.9 552.41v5.4M625.49 553.21v5.4M626.08 553.96v5.4M626.68 553.3v5.4M627.27 552.92v5.4M627.86 553.05v5.4M628.45 553.67v5.4M629.04 552.62v5.4M629.63 553.04v5.4M630.22 553.33v5.4M630.81 553.06v5.4M631.4 555.5v5.4M631.99 552.7v5.4M632.59 553.81v5.4M633.18 554.78v5.4M633.77 553.38v5.4M634.36 555.01v5.4M634.95 556.1v5.4M635.54 554.78v5.4M636.13 555.88v5.4M636.72 555.04v5.4M637.31 555.95v5.4M637.9 555.2v5.4M638.5 554.86v5.4M639.09 555.45v5.4M639.68 554.94v5.4M640.27 555.75v5.4M640.86 555.26v5.4M641.45 553.71v5.4M642.04 554.63v5.4M642.63 554.87v5.4M643.22 553.52v5.4M643.81 556.13v5.4M644.41 555.4v5.4M645 555.78v5.4M645.59 554.91v5.4M646.18 555.68v5.4M646.77 555.92v5.4M647.36 555.53v5.4M647.95 555.93v5.4M648.54 554.63v5.4M649.13 557.72v5.4M649.72 555.92v5.4M650.32 555.23v5.4M650.91 556v5.4M651.5 556.02v5.4M652.09 557.1v5.4M652.68 555.79v5.4M653.27 556.7v5.4M653.86 555.77v5.4M654.45 558.35v5.4M655.04 557.39v5.4M655.63 558.65v5.4M656.23 556.2v5.4M656.82 557.62v5.4M657.41 555.98v5.4M658 557.06v5.4M658.59 557.25v5.4M659.18 555.28v5.4M659.77 555.63v5.4M660.36 555.81v5.4M660.95 555.38v5.4M661.54 555.77v5.4M662.14 555.52v5.4M662.73 554.74v5.4M663.32 555.79v5.4M663.91 556.22v5.4M664.5 554.64v5.4M665.09 555.31v5.4M665.68 555.93v5.4M666.27 555.93v5.4M666.86 555.86v5.4M667.45 557.2v5.4M668.05 557.15v5.4M668.64 556.75v5.4M669.23 555.89v5.4M669.82 557.83v5.4M670.41 558v5.4M671 556.84v5.4" stroke="#000" stroke-width="0.85" fill="none"/>
<path d="M507.29 546.55v4.2M507.88 545.43v4.2M508.48 546.4v4.2M509.07 549.78v4.2M509.66 552.25v4.2M510.25 555.05v4.2M510.84 559.72v4.2M511.43 565.94v4.2M512.02 572.74v4.2M512.61 579.46v4.2M513.2 584.82v4.2M513.79 590.4v4.2M514.39 593.69v4.2M515.57 589.93v4.2M516.16 588.3v4.2M516.75 583.99v4.2M517.34 579.24v4.2M517.93 574.45v4.2M518.52 570.52v4.2M519.11 566.21v4.2M519.7 562.24v4.2M520.3 559.76v4.2M520.89 559.01v4.2M545.12 560.45v3.2M545.71 563.16v3.2M546.3 564.46v3.2M546.89 567.03v3.2M547.48 568.88v3.2M548.07 569.53v3.2M548.66 574.15v3.2M549.25 575.02v3.2M549.85 577.03v3.2M550.44 579.96v3.2M551.03 586.14v3.2M551.62 588.47v3.2M552.21 591.87v3.2M552.8 595.96v3.2M553.39 599.94v3.2M553.98 606.05v3.2M554.57 608.56v3.2M555.16 613.3v3.2M555.76 614.88v3.2M556.35 615.66v3.2M556.94 620.42v3.2M557.53 621.21v3.2M559.89 621.63v3.2M560.48 619.26v3.2M561.07 616.91v3.2M561.67 615.32v3.2M562.26 611.43v3.2M562.85 609.53v3.2M563.44 605.75v3.2M564.03 601.61v3.2M564.62 598.71v3.2M565.21 595.09v3.2M565.8 590.41v3.2M566.39 587.13v3.2M566.98 582.02v3.2M567.58 578.97v3.2M568.17 574.47v3.2M568.76 572.61v3.2M569.35 570.32v3.2M569.94 566.87v3.2M570.53 565.01v3.2M571.12 562.81v3.2M571.71 562.03v3.2M572.3 559.53v3.2M572.89 559.16v3.2M590.62 544.59v4.2M591.22 545.96v4.2M591.81 543.65v4.2M592.4 543.17v4.2M592.99 542.56v4.2M593.58 540.8v4.2M594.17 538.93v4.2M594.76 537.85v4.2M595.35 534.54v4.2M595.94 533.24v4.2M596.53 532.02v4.2M597.13 528.82v4.2M597.72 529.24v4.2M598.31 526.32v4.2M598.9 524.11v4.2M599.49 520.28v4.2M600.08 519.41v4.2M600.67 516.99v4.2M601.26 514.46v4.2M601.85 515.15v4.2M602.44 512.7v4.2M605.99 513.5v4.2M606.58 514.75v4.2M607.17 513.38v4.2M607.76 515.01v4.2M608.35 516.14v4.2M608.95 518.71v4.2M609.54 522.15v4.2M610.13 524.08v4.2M610.72 524.86v4.2M611.31 527.47v4.2M611.9 530.45v4.2M612.49 530.98v4.2M613.08 533.42v4.2M613.67 535.9v4.2M614.26 536.26v4.2M614.86 540.17v4.2M615.45 541.57v4.2M616.04 543.07v4.2M616.63 542.58v4.2M617.22 543.59v4.2M617.81 544.27v4.2M618.4 545.78v4.2" stroke="#000" stroke-width="0.6" fill="none"/>
<rect x="355.5" y="17.2" width="328.79999999999995" height="644.5999999999999" fill="none" stroke="#111" stroke-width="1.2"/>
<line x1="376.88" y1="655.3" x2="376.88" y2="661.8" stroke="#111" stroke-width="1.1"/>
<line x1="446.44" y1="655.3" x2="446.44" y2="661.8" stroke="#111" stroke-width="1.1"/>
<line x1="516" y1="655.3" x2="516" y2="661.8" stroke="#111" stroke-width="1.1"/>
<line x1="585.56" y1="655.3" x2="585.56" y2="661.8" stroke="#111" stroke-width="1.1"/>
<line x1="655.12" y1="655.3" x2="655.12" y2="661.8" stroke="#111" stroke-width="1.1"/>
<text x="375.5" y="677.2" font-size="10.75" fill="#2b2b2b" text-anchor="middle" stroke="#2b2b2b" stroke-width="0.08">−4</text>
<text x="446.8" y="677.2" font-size="10.75" fill="#2b2b2b" text-anchor="middle" stroke="#2b2b2b" stroke-width="0.08">−2</text>
<text x="517.9" y="677.2" font-size="10.75" fill="#2b2b2b" text-anchor="middle" stroke="#2b2b2b" stroke-width="0.08">0</text>
<text x="585.7" y="677.2" font-size="10.75" fill="#2b2b2b" text-anchor="middle" stroke="#2b2b2b" stroke-width="0.08">2</text>
<text x="654" y="677.2" font-size="10.75" fill="#2b2b2b" text-anchor="middle" stroke="#2b2b2b" stroke-width="0.08">4</text>
<text x="520" y="696.4" font-size="12.32" fill="#2b2b2b" text-anchor="middle" stroke="#2b2b2b" stroke-width="0.08">Velocity (mm s<tspan font-size="7" dy="-3.5">−1</tspan><tspan dy="3.5">)</tspan></text>
<text transform="translate(340.9 340.8) rotate(-90)" font-size="12" fill="#2b2b2b" text-anchor="middle" textLength="81.6" lengthAdjust="spacingAndGlyphs" stroke="#2b2b2b" stroke-width="0.08">Absorption (%)</text>
<text x="376.1" y="69.5" font-size="10.5" fill="#2b2b2b" textLength="53.4" lengthAdjust="spacingAndGlyphs" stroke="#2b2b2b" stroke-width="0.08">(i) <tspan font-size="7.6">L</tspan>-Val, 0 s</text>
<text x="376" y="187.8" font-size="10.5" fill="#2b2b2b" textLength="71" lengthAdjust="spacingAndGlyphs" stroke="#2b2b2b" stroke-width="0.08">(ii) <tspan font-size="7.6">L</tspan>-Val, 30 ms</text>
<text x="376" y="301.4" font-size="10.5" fill="#2b2b2b" textLength="79.1" lengthAdjust="spacingAndGlyphs" stroke="#2b2b2b" stroke-width="0.08">(iii) <tspan font-size="7.6">L</tspan>-Val, 508 ms</text>
<text x="376" y="424.9" font-size="10.5" fill="#2b2b2b" textLength="64.2" lengthAdjust="spacingAndGlyphs" stroke="#2b2b2b" stroke-width="0.08">(iv) <tspan font-size="7.6">L</tspan>-Val, 20 s</text>
<text x="376.7" y="586.4" font-size="10.53" fill="#2b2b2b" text-anchor="start" textLength="28" lengthAdjust="spacingAndGlyphs" stroke="#2b2b2b" stroke-width="0.08">(iii)–(i)</text>
<text x="376.7" y="603.3" font-size="10.53" fill="#2b2b2b" text-anchor="start" textLength="50.2" lengthAdjust="spacingAndGlyphs" stroke="#2b2b2b" stroke-width="0.08">(difference</text>
<text x="376.7" y="614.4" font-size="10.53" fill="#2b2b2b" text-anchor="start" textLength="46.7" lengthAdjust="spacingAndGlyphs" stroke="#2b2b2b" stroke-width="0.08">spectrum)</text>
<line x1="636.4" y1="72.4" x2="636.4" y2="91" stroke="#444" stroke-width="1.0"/>
<line x1="633.6" y1="72.4" x2="639.2" y2="72.4" stroke="#444" stroke-width="1.0"/>
<line x1="633.6" y1="91" x2="639.2" y2="91" stroke="#444" stroke-width="1.0"/>
<text x="640.3" y="86.3" font-size="10.98" fill="#2b2b2b" text-anchor="start" textLength="22.6" lengthAdjust="spacingAndGlyphs" stroke="#2b2b2b" stroke-width="0.08">0.8%</text>
<line x1="637.3" y1="185.3" x2="637.3" y2="200.7" stroke="#444" stroke-width="1.0"/>
<line x1="634.5" y1="185.3" x2="640.1" y2="185.3" stroke="#444" stroke-width="1.0"/>
<line x1="634.5" y1="200.7" x2="640.1" y2="200.7" stroke="#444" stroke-width="1.0"/>
<text x="640.3" y="196.7" font-size="10.98" fill="#2b2b2b" text-anchor="start" textLength="22.6" lengthAdjust="spacingAndGlyphs" stroke="#2b2b2b" stroke-width="0.08">0.5%</text>
<line x1="635.9" y1="318.8" x2="635.9" y2="335.4" stroke="#777" stroke-width="1.0"/>
<line x1="633.1" y1="318.8" x2="638.7" y2="318.8" stroke="#777" stroke-width="1.0"/>
<line x1="633.1" y1="335.4" x2="638.7" y2="335.4" stroke="#777" stroke-width="1.0"/>
<text x="640.3" y="331" font-size="10.98" fill="#2b2b2b" text-anchor="start" textLength="22.6" lengthAdjust="spacingAndGlyphs" stroke="#2b2b2b" stroke-width="0.08">0.5%</text>
<line x1="635.9" y1="438.3" x2="635.9" y2="457.3" stroke="#666" stroke-width="1.0"/>
<line x1="633.1" y1="438.3" x2="638.7" y2="438.3" stroke="#666" stroke-width="1.0"/>
<line x1="633.1" y1="457.3" x2="638.7" y2="457.3" stroke="#666" stroke-width="1.0"/>
<text x="640.3" y="450.8" font-size="10.98" fill="#2b2b2b" text-anchor="start" textLength="22.6" lengthAdjust="spacingAndGlyphs" stroke="#2b2b2b" stroke-width="0.08">0.5%</text>
<line x1="635.9" y1="602.5" x2="635.9" y2="620.2" stroke="#666" stroke-width="1.0"/>
<line x1="633.1" y1="602.5" x2="638.7" y2="602.5" stroke="#666" stroke-width="1.0"/>
<line x1="633.1" y1="620.2" x2="638.7" y2="620.2" stroke="#666" stroke-width="1.0"/>
<text x="640.3" y="615.8" font-size="10.98" fill="#2b2b2b" text-anchor="start" textLength="22.6" lengthAdjust="spacingAndGlyphs" stroke="#2b2b2b" stroke-width="0.08">0.5%</text>
<text x="330.9" y="15.9" font-size="17.5" fill="#000" text-anchor="start" font-weight="bold">d</text></svg>
</body></html>
